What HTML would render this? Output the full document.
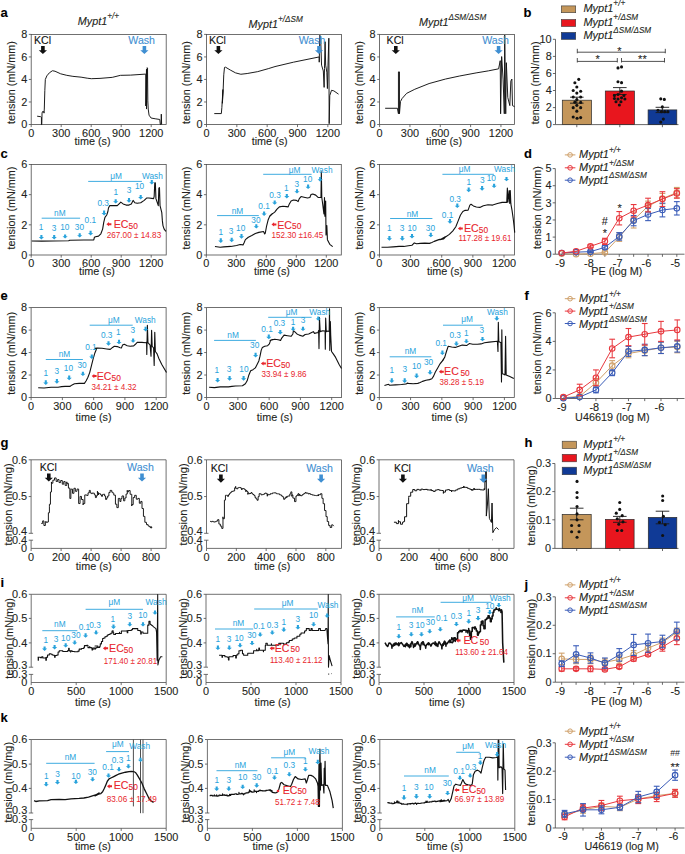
<!DOCTYPE html>
<html><head><meta charset="utf-8"><style>
html,body{margin:0;padding:0;background:#fff;width:685px;height:854px;overflow:hidden;}
svg{display:block;font-family:"Liberation Sans", sans-serif;}
</style></head><body>
<svg width="685" height="854" viewBox="0 0 685 854">
<rect width="685" height="854" fill="#fff"/>
<text x="0.4" y="16.8" font-size="13" fill="#000" font-weight="bold" stroke="#000" stroke-width="0.1">a</text>
<rect x="31.2" y="34.4" width="135" height="90.1" fill="none" stroke="#4d4d4d" stroke-width="0.8"/>
<line x1="31.2" y1="124.5" x2="31.2" y2="127.1" stroke="#4d4d4d" stroke-width="0.8"/>
<text x="31.2" y="136.7" font-size="10.9" fill="#231f20" text-anchor="middle" stroke="#231f20" stroke-width="0.1">0</text>
<line x1="61.2" y1="124.5" x2="61.2" y2="127.1" stroke="#4d4d4d" stroke-width="0.8"/>
<text x="61.2" y="136.7" font-size="10.9" fill="#231f20" text-anchor="middle" stroke="#231f20" stroke-width="0.1">300</text>
<line x1="91.2" y1="124.5" x2="91.2" y2="127.1" stroke="#4d4d4d" stroke-width="0.8"/>
<text x="91.2" y="136.7" font-size="10.9" fill="#231f20" text-anchor="middle" stroke="#231f20" stroke-width="0.1">600</text>
<line x1="121.2" y1="124.5" x2="121.2" y2="127.1" stroke="#4d4d4d" stroke-width="0.8"/>
<text x="121.2" y="136.7" font-size="10.9" fill="#231f20" text-anchor="middle" stroke="#231f20" stroke-width="0.1">900</text>
<line x1="151.2" y1="124.5" x2="151.2" y2="127.1" stroke="#4d4d4d" stroke-width="0.8"/>
<text x="151.2" y="136.7" font-size="10.9" fill="#231f20" text-anchor="middle" stroke="#231f20" stroke-width="0.1">1200</text>
<line x1="28.8" y1="124.5" x2="31.2" y2="124.5" stroke="#4d4d4d" stroke-width="0.8"/>
<text x="27.2" y="128.25" font-size="10.9" fill="#231f20" text-anchor="end" stroke="#231f20" stroke-width="0.1">0</text>
<line x1="28.8" y1="101.97" x2="31.2" y2="101.97" stroke="#4d4d4d" stroke-width="0.8"/>
<text x="27.2" y="105.72" font-size="10.9" fill="#231f20" text-anchor="end" stroke="#231f20" stroke-width="0.1">2</text>
<line x1="28.8" y1="79.45" x2="31.2" y2="79.45" stroke="#4d4d4d" stroke-width="0.8"/>
<text x="27.2" y="83.2" font-size="10.9" fill="#231f20" text-anchor="end" stroke="#231f20" stroke-width="0.1">4</text>
<line x1="28.8" y1="56.93" x2="31.2" y2="56.93" stroke="#4d4d4d" stroke-width="0.8"/>
<text x="27.2" y="60.68" font-size="10.9" fill="#231f20" text-anchor="end" stroke="#231f20" stroke-width="0.1">6</text>
<line x1="28.8" y1="34.4" x2="31.2" y2="34.4" stroke="#4d4d4d" stroke-width="0.8"/>
<text x="27.2" y="38.15" font-size="10.9" fill="#231f20" text-anchor="end" stroke="#231f20" stroke-width="0.1">8</text>
<text x="92.5" y="144.5" font-size="10.8" fill="#231f20" text-anchor="middle" stroke="#231f20" stroke-width="0.1">time (s)</text>
<text x="0" y="0" font-size="10.8" fill="#231f20" text-anchor="middle" transform="translate(14.6,82.6) rotate(-90)" stroke="#231f20" stroke-width="0.1">tension (mN/mm)</text>
<rect x="206.5" y="34.4" width="135" height="90.1" fill="none" stroke="#4d4d4d" stroke-width="0.8"/>
<line x1="206.5" y1="124.5" x2="206.5" y2="127.1" stroke="#4d4d4d" stroke-width="0.8"/>
<text x="206.5" y="136.7" font-size="10.9" fill="#231f20" text-anchor="middle" stroke="#231f20" stroke-width="0.1">0</text>
<line x1="236.84" y1="124.5" x2="236.84" y2="127.1" stroke="#4d4d4d" stroke-width="0.8"/>
<text x="236.84" y="136.7" font-size="10.9" fill="#231f20" text-anchor="middle" stroke="#231f20" stroke-width="0.1">300</text>
<line x1="267.17" y1="124.5" x2="267.17" y2="127.1" stroke="#4d4d4d" stroke-width="0.8"/>
<text x="267.17" y="136.7" font-size="10.9" fill="#231f20" text-anchor="middle" stroke="#231f20" stroke-width="0.1">600</text>
<line x1="297.51" y1="124.5" x2="297.51" y2="127.1" stroke="#4d4d4d" stroke-width="0.8"/>
<text x="297.51" y="136.7" font-size="10.9" fill="#231f20" text-anchor="middle" stroke="#231f20" stroke-width="0.1">900</text>
<line x1="327.85" y1="124.5" x2="327.85" y2="127.1" stroke="#4d4d4d" stroke-width="0.8"/>
<text x="327.85" y="136.7" font-size="10.9" fill="#231f20" text-anchor="middle" stroke="#231f20" stroke-width="0.1">1200</text>
<line x1="204.1" y1="124.5" x2="206.5" y2="124.5" stroke="#4d4d4d" stroke-width="0.8"/>
<text x="202.5" y="128.25" font-size="10.9" fill="#231f20" text-anchor="end" stroke="#231f20" stroke-width="0.1">0</text>
<line x1="204.1" y1="101.97" x2="206.5" y2="101.97" stroke="#4d4d4d" stroke-width="0.8"/>
<text x="202.5" y="105.72" font-size="10.9" fill="#231f20" text-anchor="end" stroke="#231f20" stroke-width="0.1">2</text>
<line x1="204.1" y1="79.45" x2="206.5" y2="79.45" stroke="#4d4d4d" stroke-width="0.8"/>
<text x="202.5" y="83.2" font-size="10.9" fill="#231f20" text-anchor="end" stroke="#231f20" stroke-width="0.1">4</text>
<line x1="204.1" y1="56.93" x2="206.5" y2="56.93" stroke="#4d4d4d" stroke-width="0.8"/>
<text x="202.5" y="60.68" font-size="10.9" fill="#231f20" text-anchor="end" stroke="#231f20" stroke-width="0.1">6</text>
<line x1="204.1" y1="34.4" x2="206.5" y2="34.4" stroke="#4d4d4d" stroke-width="0.8"/>
<text x="202.5" y="38.15" font-size="10.9" fill="#231f20" text-anchor="end" stroke="#231f20" stroke-width="0.1">8</text>
<text x="269.7" y="144.5" font-size="10.8" fill="#231f20" text-anchor="middle" stroke="#231f20" stroke-width="0.1">time (s)</text>
<text x="0" y="0" font-size="10.8" fill="#231f20" text-anchor="middle" transform="translate(189.9,82.6) rotate(-90)" stroke="#231f20" stroke-width="0.1">tension (mN/mm)</text>
<rect x="379.6" y="34.4" width="135" height="90.1" fill="none" stroke="#4d4d4d" stroke-width="0.8"/>
<line x1="379.6" y1="124.5" x2="379.6" y2="127.1" stroke="#4d4d4d" stroke-width="0.8"/>
<text x="379.6" y="136.7" font-size="10.9" fill="#231f20" text-anchor="middle" stroke="#231f20" stroke-width="0.1">0</text>
<line x1="409.94" y1="124.5" x2="409.94" y2="127.1" stroke="#4d4d4d" stroke-width="0.8"/>
<text x="409.94" y="136.7" font-size="10.9" fill="#231f20" text-anchor="middle" stroke="#231f20" stroke-width="0.1">300</text>
<line x1="440.27" y1="124.5" x2="440.27" y2="127.1" stroke="#4d4d4d" stroke-width="0.8"/>
<text x="440.27" y="136.7" font-size="10.9" fill="#231f20" text-anchor="middle" stroke="#231f20" stroke-width="0.1">600</text>
<line x1="470.61" y1="124.5" x2="470.61" y2="127.1" stroke="#4d4d4d" stroke-width="0.8"/>
<text x="470.61" y="136.7" font-size="10.9" fill="#231f20" text-anchor="middle" stroke="#231f20" stroke-width="0.1">900</text>
<line x1="500.95" y1="124.5" x2="500.95" y2="127.1" stroke="#4d4d4d" stroke-width="0.8"/>
<text x="500.95" y="136.7" font-size="10.9" fill="#231f20" text-anchor="middle" stroke="#231f20" stroke-width="0.1">1200</text>
<line x1="377.2" y1="124.5" x2="379.6" y2="124.5" stroke="#4d4d4d" stroke-width="0.8"/>
<text x="375.6" y="128.25" font-size="10.9" fill="#231f20" text-anchor="end" stroke="#231f20" stroke-width="0.1">0</text>
<line x1="377.2" y1="101.97" x2="379.6" y2="101.97" stroke="#4d4d4d" stroke-width="0.8"/>
<text x="375.6" y="105.72" font-size="10.9" fill="#231f20" text-anchor="end" stroke="#231f20" stroke-width="0.1">2</text>
<line x1="377.2" y1="79.45" x2="379.6" y2="79.45" stroke="#4d4d4d" stroke-width="0.8"/>
<text x="375.6" y="83.2" font-size="10.9" fill="#231f20" text-anchor="end" stroke="#231f20" stroke-width="0.1">4</text>
<line x1="377.2" y1="56.93" x2="379.6" y2="56.93" stroke="#4d4d4d" stroke-width="0.8"/>
<text x="375.6" y="60.68" font-size="10.9" fill="#231f20" text-anchor="end" stroke="#231f20" stroke-width="0.1">6</text>
<line x1="377.2" y1="34.4" x2="379.6" y2="34.4" stroke="#4d4d4d" stroke-width="0.8"/>
<text x="375.6" y="38.15" font-size="10.9" fill="#231f20" text-anchor="end" stroke="#231f20" stroke-width="0.1">8</text>
<text x="444" y="144.5" font-size="10.8" fill="#231f20" text-anchor="middle" stroke="#231f20" stroke-width="0.1">time (s)</text>
<text x="0" y="0" font-size="10.8" fill="#231f20" text-anchor="middle" transform="translate(363,82.6) rotate(-90)" stroke="#231f20" stroke-width="0.1">tension (mN/mm)</text>
<polyline points="37.15,116.2 40.73,116.71 41.44,117.22 41.44,124.58 41.75,124.58 42.06,113.14 42.47,111.6 43.8,111.6 44,113.14 44.31,109.05 44.82,90.66 45.33,79.42 46.86,75.84 49.42,72.77 52.48,70.73 55.04,71.24 60.66,73.8 66.79,75.33 72.92,76.35 81.09,77.17 87.22,78.19 91.31,78.7 100,78.39 112.26,77.37 120.44,75.33 130.66,75.12 145.47,74.1 145.78,74.1 145.78,105.98 146.49,69.2 146.49,109.05 147.21,67.66 147.52,68.17 147.82,100.87 148.23,109.05 149.05,115.18 151.09,118.04 155.18,118.76 159.78,119.47 160.29,124.38 161.11,124.38 161.31,114.16 161.62,124.38" fill="none" stroke="#111" stroke-width="0.95" stroke-linejoin="round"/>
<polyline points="214.28,113.58 221.34,113.58 221.87,107.47 222.39,99.03 222.92,89.55 222.39,103.25 223.13,90.6 223.76,74.79 224.5,67.41 225.56,67.2 230.3,70.04 235.57,72.89 240.84,74.26 247.17,73.52 257.71,71.63 268.25,68.67 275,66.57 293.44,62.2 319.22,56.93 319.22,62.2 319.81,35.27 320.63,37.03 321.56,65.13 323.32,70.98 324.14,87.38 324.49,68.64 325.08,41.71 325.67,65.13 326.84,72.15 327.42,88.55 328.01,65.13 328.83,38.2 329.18,123.68 329.77,95.57 331.53,90.3 333.87,90.89 338.56,94.17" fill="none" stroke="#111" stroke-width="0.95" stroke-linejoin="round"/>
<polyline points="385.15,108.28 397.42,108.28 398.44,113.79 398.44,71.9 399.46,71.9 399.46,113.79 400.48,101.53 402.12,98.47 406.61,93.36 414.79,89.27 429.09,83.55 445.44,79.05 459.75,75.98 476.1,72.92 488.36,70.87 498.58,68.83 500.22,60.66 500.62,113.79 501.65,56.57 503.08,79.05 504.3,113.79 504.71,35.11 505.73,113.79 506.35,62.7 507.78,97.44 509.82,105.62 510.84,81.09 511.86,79.05 512.48,105.62 514.52,106.64" fill="none" stroke="#111" stroke-width="0.95" stroke-linejoin="round"/>
<text x="77.8" y="25.4" font-size="10.8" fill="#231f20" font-style="italic" stroke="#231f20" stroke-width="0.1">Mypt1<tspan font-size="8.2" dy="-6.4">+/+</tspan></text>
<text x="248.6" y="28.4" font-size="10.8" fill="#231f20" font-style="italic" stroke="#231f20" stroke-width="0.1">Mypt1<tspan font-size="8.2" dy="-6.4">+/ΔSM</tspan></text>
<text x="419" y="26.2" font-size="10.8" fill="#231f20" font-style="italic" stroke="#231f20" stroke-width="0.1">Mypt1<tspan font-size="8.2" dy="-6.4">ΔSM/ΔSM</tspan></text>
<text x="34" y="44.1" font-size="10.6" fill="#111" stroke="#111" stroke-width="0.1">KCl</text>
<polygon points="41.1,46 44.7,46 44.7,50.16 47,50.16 42.9,54 38.8,50.16 41.1,50.16" fill="#111"/>
<text x="128.3" y="44.1" font-size="10.6" fill="#3f8fd2" stroke="#3f8fd2" stroke-width="0.1">Wash</text>
<polygon points="142.6,46 146.2,46 146.2,50.16 148.5,50.16 144.4,54 140.3,50.16 142.6,50.16" fill="#3f8fd2"/>
<text x="208.9" y="44.1" font-size="10.6" fill="#111" stroke="#111" stroke-width="0.1">KCl</text>
<polygon points="216.6,46 220.2,46 220.2,50.16 222.5,50.16 218.4,54 214.3,50.16 216.6,50.16" fill="#111"/>
<text x="298.7" y="44.1" font-size="10.6" fill="#3f8fd2" stroke="#3f8fd2" stroke-width="0.1">Wash</text>
<polygon points="317.2,46 320.8,46 320.8,50.16 323.1,50.16 319,54 314.9,50.16 317.2,50.16" fill="#3f8fd2"/>
<text x="386.6" y="44.1" font-size="10.6" fill="#111" stroke="#111" stroke-width="0.1">KCl</text>
<polygon points="394,46 397.6,46 397.6,50.16 399.9,50.16 395.8,54 391.7,50.16 394,50.16" fill="#111"/>
<text x="482.2" y="44.1" font-size="10.6" fill="#3f8fd2" stroke="#3f8fd2" stroke-width="0.1">Wash</text>
<polygon points="496.8,46 500.4,46 500.4,50.16 502.7,50.16 498.6,54 494.5,50.16 496.8,50.16" fill="#3f8fd2"/>
<text x="0.4" y="157.7" font-size="13" fill="#000" font-weight="bold" stroke="#000" stroke-width="0.1">c</text>
<rect x="31.2" y="164.5" width="135" height="90.5" fill="none" stroke="#4d4d4d" stroke-width="0.8"/>
<line x1="31.2" y1="255" x2="31.2" y2="257.6" stroke="#4d4d4d" stroke-width="0.8"/>
<text x="31.2" y="267.2" font-size="10.9" fill="#231f20" text-anchor="middle" stroke="#231f20" stroke-width="0.1">0</text>
<line x1="61.2" y1="255" x2="61.2" y2="257.6" stroke="#4d4d4d" stroke-width="0.8"/>
<text x="61.2" y="267.2" font-size="10.9" fill="#231f20" text-anchor="middle" stroke="#231f20" stroke-width="0.1">300</text>
<line x1="91.2" y1="255" x2="91.2" y2="257.6" stroke="#4d4d4d" stroke-width="0.8"/>
<text x="91.2" y="267.2" font-size="10.9" fill="#231f20" text-anchor="middle" stroke="#231f20" stroke-width="0.1">600</text>
<line x1="121.2" y1="255" x2="121.2" y2="257.6" stroke="#4d4d4d" stroke-width="0.8"/>
<text x="121.2" y="267.2" font-size="10.9" fill="#231f20" text-anchor="middle" stroke="#231f20" stroke-width="0.1">900</text>
<line x1="151.2" y1="255" x2="151.2" y2="257.6" stroke="#4d4d4d" stroke-width="0.8"/>
<text x="151.2" y="267.2" font-size="10.9" fill="#231f20" text-anchor="middle" stroke="#231f20" stroke-width="0.1">1200</text>
<line x1="28.8" y1="255" x2="31.2" y2="255" stroke="#4d4d4d" stroke-width="0.8"/>
<text x="27.2" y="258.75" font-size="10.9" fill="#231f20" text-anchor="end" stroke="#231f20" stroke-width="0.1">0</text>
<line x1="28.8" y1="224.83" x2="31.2" y2="224.83" stroke="#4d4d4d" stroke-width="0.8"/>
<text x="27.2" y="228.58" font-size="10.9" fill="#231f20" text-anchor="end" stroke="#231f20" stroke-width="0.1">2</text>
<line x1="28.8" y1="194.67" x2="31.2" y2="194.67" stroke="#4d4d4d" stroke-width="0.8"/>
<text x="27.2" y="198.42" font-size="10.9" fill="#231f20" text-anchor="end" stroke="#231f20" stroke-width="0.1">4</text>
<line x1="28.8" y1="164.5" x2="31.2" y2="164.5" stroke="#4d4d4d" stroke-width="0.8"/>
<text x="27.2" y="168.25" font-size="10.9" fill="#231f20" text-anchor="end" stroke="#231f20" stroke-width="0.1">6</text>
<text x="96.9" y="274.6" font-size="10.8" fill="#231f20" text-anchor="middle" stroke="#231f20" stroke-width="0.1">time (s)</text>
<text x="0" y="0" font-size="10.8" fill="#231f20" text-anchor="middle" transform="translate(14.6,208) rotate(-90)" stroke="#231f20" stroke-width="0.1">tension (mN/mm)</text>
<rect x="206.3" y="164.5" width="135" height="90.5" fill="none" stroke="#4d4d4d" stroke-width="0.8"/>
<line x1="206.3" y1="255" x2="206.3" y2="257.6" stroke="#4d4d4d" stroke-width="0.8"/>
<text x="206.3" y="267.2" font-size="10.9" fill="#231f20" text-anchor="middle" stroke="#231f20" stroke-width="0.1">0</text>
<line x1="236.3" y1="255" x2="236.3" y2="257.6" stroke="#4d4d4d" stroke-width="0.8"/>
<text x="236.3" y="267.2" font-size="10.9" fill="#231f20" text-anchor="middle" stroke="#231f20" stroke-width="0.1">300</text>
<line x1="266.3" y1="255" x2="266.3" y2="257.6" stroke="#4d4d4d" stroke-width="0.8"/>
<text x="266.3" y="267.2" font-size="10.9" fill="#231f20" text-anchor="middle" stroke="#231f20" stroke-width="0.1">600</text>
<line x1="296.3" y1="255" x2="296.3" y2="257.6" stroke="#4d4d4d" stroke-width="0.8"/>
<text x="296.3" y="267.2" font-size="10.9" fill="#231f20" text-anchor="middle" stroke="#231f20" stroke-width="0.1">900</text>
<line x1="326.3" y1="255" x2="326.3" y2="257.6" stroke="#4d4d4d" stroke-width="0.8"/>
<text x="326.3" y="267.2" font-size="10.9" fill="#231f20" text-anchor="middle" stroke="#231f20" stroke-width="0.1">1200</text>
<line x1="203.9" y1="255" x2="206.3" y2="255" stroke="#4d4d4d" stroke-width="0.8"/>
<text x="202.3" y="258.75" font-size="10.9" fill="#231f20" text-anchor="end" stroke="#231f20" stroke-width="0.1">0</text>
<line x1="203.9" y1="224.83" x2="206.3" y2="224.83" stroke="#4d4d4d" stroke-width="0.8"/>
<text x="202.3" y="228.58" font-size="10.9" fill="#231f20" text-anchor="end" stroke="#231f20" stroke-width="0.1">2</text>
<line x1="203.9" y1="194.67" x2="206.3" y2="194.67" stroke="#4d4d4d" stroke-width="0.8"/>
<text x="202.3" y="198.42" font-size="10.9" fill="#231f20" text-anchor="end" stroke="#231f20" stroke-width="0.1">4</text>
<line x1="203.9" y1="164.5" x2="206.3" y2="164.5" stroke="#4d4d4d" stroke-width="0.8"/>
<text x="202.3" y="168.25" font-size="10.9" fill="#231f20" text-anchor="end" stroke="#231f20" stroke-width="0.1">6</text>
<text x="271.9" y="274.6" font-size="10.8" fill="#231f20" text-anchor="middle" stroke="#231f20" stroke-width="0.1">time (s)</text>
<text x="0" y="0" font-size="10.8" fill="#231f20" text-anchor="middle" transform="translate(189.7,208) rotate(-90)" stroke="#231f20" stroke-width="0.1">tension (mN/mm)</text>
<rect x="379.4" y="164.5" width="135" height="90.5" fill="none" stroke="#4d4d4d" stroke-width="0.8"/>
<line x1="379.4" y1="255" x2="379.4" y2="257.6" stroke="#4d4d4d" stroke-width="0.8"/>
<text x="379.4" y="267.2" font-size="10.9" fill="#231f20" text-anchor="middle" stroke="#231f20" stroke-width="0.1">0</text>
<line x1="410.55" y1="255" x2="410.55" y2="257.6" stroke="#4d4d4d" stroke-width="0.8"/>
<text x="410.55" y="267.2" font-size="10.9" fill="#231f20" text-anchor="middle" stroke="#231f20" stroke-width="0.1">300</text>
<line x1="441.71" y1="255" x2="441.71" y2="257.6" stroke="#4d4d4d" stroke-width="0.8"/>
<text x="441.71" y="267.2" font-size="10.9" fill="#231f20" text-anchor="middle" stroke="#231f20" stroke-width="0.1">600</text>
<line x1="472.86" y1="255" x2="472.86" y2="257.6" stroke="#4d4d4d" stroke-width="0.8"/>
<text x="472.86" y="267.2" font-size="10.9" fill="#231f20" text-anchor="middle" stroke="#231f20" stroke-width="0.1">900</text>
<line x1="504.02" y1="255" x2="504.02" y2="257.6" stroke="#4d4d4d" stroke-width="0.8"/>
<text x="504.02" y="267.2" font-size="10.9" fill="#231f20" text-anchor="middle" stroke="#231f20" stroke-width="0.1">1200</text>
<line x1="377" y1="255" x2="379.4" y2="255" stroke="#4d4d4d" stroke-width="0.8"/>
<text x="375.4" y="258.75" font-size="10.9" fill="#231f20" text-anchor="end" stroke="#231f20" stroke-width="0.1">0</text>
<line x1="377" y1="224.83" x2="379.4" y2="224.83" stroke="#4d4d4d" stroke-width="0.8"/>
<text x="375.4" y="228.58" font-size="10.9" fill="#231f20" text-anchor="end" stroke="#231f20" stroke-width="0.1">2</text>
<line x1="377" y1="194.67" x2="379.4" y2="194.67" stroke="#4d4d4d" stroke-width="0.8"/>
<text x="375.4" y="198.42" font-size="10.9" fill="#231f20" text-anchor="end" stroke="#231f20" stroke-width="0.1">4</text>
<line x1="377" y1="164.5" x2="379.4" y2="164.5" stroke="#4d4d4d" stroke-width="0.8"/>
<text x="375.4" y="168.25" font-size="10.9" fill="#231f20" text-anchor="end" stroke="#231f20" stroke-width="0.1">6</text>
<text x="444.9" y="274.6" font-size="10.8" fill="#231f20" text-anchor="middle" stroke="#231f20" stroke-width="0.1">time (s)</text>
<text x="0" y="0" font-size="10.8" fill="#231f20" text-anchor="middle" transform="translate(362.8,208) rotate(-90)" stroke="#231f20" stroke-width="0.1">tension (mN/mm)</text>
<text x="0.4" y="300.2" font-size="13" fill="#000" font-weight="bold" stroke="#000" stroke-width="0.1">e</text>
<rect x="31.1" y="307.6" width="135" height="89.9" fill="none" stroke="#4d4d4d" stroke-width="0.8"/>
<line x1="31.1" y1="397.5" x2="31.1" y2="400.1" stroke="#4d4d4d" stroke-width="0.8"/>
<text x="31.1" y="409.7" font-size="10.9" fill="#231f20" text-anchor="middle" stroke="#231f20" stroke-width="0.1">0</text>
<line x1="62.37" y1="397.5" x2="62.37" y2="400.1" stroke="#4d4d4d" stroke-width="0.8"/>
<text x="62.37" y="409.7" font-size="10.9" fill="#231f20" text-anchor="middle" stroke="#231f20" stroke-width="0.1">300</text>
<line x1="93.65" y1="397.5" x2="93.65" y2="400.1" stroke="#4d4d4d" stroke-width="0.8"/>
<text x="93.65" y="409.7" font-size="10.9" fill="#231f20" text-anchor="middle" stroke="#231f20" stroke-width="0.1">600</text>
<line x1="124.92" y1="397.5" x2="124.92" y2="400.1" stroke="#4d4d4d" stroke-width="0.8"/>
<text x="124.92" y="409.7" font-size="10.9" fill="#231f20" text-anchor="middle" stroke="#231f20" stroke-width="0.1">900</text>
<line x1="156.2" y1="397.5" x2="156.2" y2="400.1" stroke="#4d4d4d" stroke-width="0.8"/>
<text x="156.2" y="409.7" font-size="10.9" fill="#231f20" text-anchor="middle" stroke="#231f20" stroke-width="0.1">1200</text>
<line x1="28.7" y1="397.5" x2="31.1" y2="397.5" stroke="#4d4d4d" stroke-width="0.8"/>
<text x="27.1" y="401.25" font-size="10.9" fill="#231f20" text-anchor="end" stroke="#231f20" stroke-width="0.1">0</text>
<line x1="28.7" y1="375.02" x2="31.1" y2="375.02" stroke="#4d4d4d" stroke-width="0.8"/>
<text x="27.1" y="378.77" font-size="10.9" fill="#231f20" text-anchor="end" stroke="#231f20" stroke-width="0.1">2</text>
<line x1="28.7" y1="352.55" x2="31.1" y2="352.55" stroke="#4d4d4d" stroke-width="0.8"/>
<text x="27.1" y="356.3" font-size="10.9" fill="#231f20" text-anchor="end" stroke="#231f20" stroke-width="0.1">4</text>
<line x1="28.7" y1="330.08" x2="31.1" y2="330.08" stroke="#4d4d4d" stroke-width="0.8"/>
<text x="27.1" y="333.83" font-size="10.9" fill="#231f20" text-anchor="end" stroke="#231f20" stroke-width="0.1">6</text>
<line x1="28.7" y1="307.6" x2="31.1" y2="307.6" stroke="#4d4d4d" stroke-width="0.8"/>
<text x="27.1" y="311.35" font-size="10.9" fill="#231f20" text-anchor="end" stroke="#231f20" stroke-width="0.1">8</text>
<text x="93.5" y="421" font-size="10.8" fill="#231f20" text-anchor="middle" stroke="#231f20" stroke-width="0.1">time (s)</text>
<text x="0" y="0" font-size="10.8" fill="#231f20" text-anchor="middle" transform="translate(14.5,353.3) rotate(-90)" stroke="#231f20" stroke-width="0.1">tension (mN/mm)</text>
<rect x="206.6" y="307.6" width="135" height="89.9" fill="none" stroke="#4d4d4d" stroke-width="0.8"/>
<line x1="206.6" y1="397.5" x2="206.6" y2="400.1" stroke="#4d4d4d" stroke-width="0.8"/>
<text x="206.6" y="409.7" font-size="10.9" fill="#231f20" text-anchor="middle" stroke="#231f20" stroke-width="0.1">0</text>
<line x1="237.87" y1="397.5" x2="237.87" y2="400.1" stroke="#4d4d4d" stroke-width="0.8"/>
<text x="237.87" y="409.7" font-size="10.9" fill="#231f20" text-anchor="middle" stroke="#231f20" stroke-width="0.1">300</text>
<line x1="269.15" y1="397.5" x2="269.15" y2="400.1" stroke="#4d4d4d" stroke-width="0.8"/>
<text x="269.15" y="409.7" font-size="10.9" fill="#231f20" text-anchor="middle" stroke="#231f20" stroke-width="0.1">600</text>
<line x1="300.42" y1="397.5" x2="300.42" y2="400.1" stroke="#4d4d4d" stroke-width="0.8"/>
<text x="300.42" y="409.7" font-size="10.9" fill="#231f20" text-anchor="middle" stroke="#231f20" stroke-width="0.1">900</text>
<line x1="331.7" y1="397.5" x2="331.7" y2="400.1" stroke="#4d4d4d" stroke-width="0.8"/>
<text x="331.7" y="409.7" font-size="10.9" fill="#231f20" text-anchor="middle" stroke="#231f20" stroke-width="0.1">1200</text>
<line x1="204.2" y1="397.5" x2="206.6" y2="397.5" stroke="#4d4d4d" stroke-width="0.8"/>
<text x="202.6" y="401.25" font-size="10.9" fill="#231f20" text-anchor="end" stroke="#231f20" stroke-width="0.1">0</text>
<line x1="204.2" y1="375.02" x2="206.6" y2="375.02" stroke="#4d4d4d" stroke-width="0.8"/>
<text x="202.6" y="378.77" font-size="10.9" fill="#231f20" text-anchor="end" stroke="#231f20" stroke-width="0.1">2</text>
<line x1="204.2" y1="352.55" x2="206.6" y2="352.55" stroke="#4d4d4d" stroke-width="0.8"/>
<text x="202.6" y="356.3" font-size="10.9" fill="#231f20" text-anchor="end" stroke="#231f20" stroke-width="0.1">4</text>
<line x1="204.2" y1="330.08" x2="206.6" y2="330.08" stroke="#4d4d4d" stroke-width="0.8"/>
<text x="202.6" y="333.83" font-size="10.9" fill="#231f20" text-anchor="end" stroke="#231f20" stroke-width="0.1">6</text>
<line x1="204.2" y1="307.6" x2="206.6" y2="307.6" stroke="#4d4d4d" stroke-width="0.8"/>
<text x="202.6" y="311.35" font-size="10.9" fill="#231f20" text-anchor="end" stroke="#231f20" stroke-width="0.1">8</text>
<text x="274.8" y="421" font-size="10.8" fill="#231f20" text-anchor="middle" stroke="#231f20" stroke-width="0.1">time (s)</text>
<text x="0" y="0" font-size="10.8" fill="#231f20" text-anchor="middle" transform="translate(190,353.3) rotate(-90)" stroke="#231f20" stroke-width="0.1">tension (mN/mm)</text>
<rect x="379.3" y="307.6" width="135" height="89.9" fill="none" stroke="#4d4d4d" stroke-width="0.8"/>
<line x1="379.3" y1="397.5" x2="379.3" y2="400.1" stroke="#4d4d4d" stroke-width="0.8"/>
<text x="379.3" y="409.7" font-size="10.9" fill="#231f20" text-anchor="middle" stroke="#231f20" stroke-width="0.1">0</text>
<line x1="410.57" y1="397.5" x2="410.57" y2="400.1" stroke="#4d4d4d" stroke-width="0.8"/>
<text x="410.57" y="409.7" font-size="10.9" fill="#231f20" text-anchor="middle" stroke="#231f20" stroke-width="0.1">300</text>
<line x1="441.85" y1="397.5" x2="441.85" y2="400.1" stroke="#4d4d4d" stroke-width="0.8"/>
<text x="441.85" y="409.7" font-size="10.9" fill="#231f20" text-anchor="middle" stroke="#231f20" stroke-width="0.1">600</text>
<line x1="473.12" y1="397.5" x2="473.12" y2="400.1" stroke="#4d4d4d" stroke-width="0.8"/>
<text x="473.12" y="409.7" font-size="10.9" fill="#231f20" text-anchor="middle" stroke="#231f20" stroke-width="0.1">900</text>
<line x1="504.4" y1="397.5" x2="504.4" y2="400.1" stroke="#4d4d4d" stroke-width="0.8"/>
<text x="504.4" y="409.7" font-size="10.9" fill="#231f20" text-anchor="middle" stroke="#231f20" stroke-width="0.1">1200</text>
<line x1="376.9" y1="397.5" x2="379.3" y2="397.5" stroke="#4d4d4d" stroke-width="0.8"/>
<text x="375.3" y="401.25" font-size="10.9" fill="#231f20" text-anchor="end" stroke="#231f20" stroke-width="0.1">0</text>
<line x1="376.9" y1="375.02" x2="379.3" y2="375.02" stroke="#4d4d4d" stroke-width="0.8"/>
<text x="375.3" y="378.77" font-size="10.9" fill="#231f20" text-anchor="end" stroke="#231f20" stroke-width="0.1">2</text>
<line x1="376.9" y1="352.55" x2="379.3" y2="352.55" stroke="#4d4d4d" stroke-width="0.8"/>
<text x="375.3" y="356.3" font-size="10.9" fill="#231f20" text-anchor="end" stroke="#231f20" stroke-width="0.1">4</text>
<line x1="376.9" y1="330.08" x2="379.3" y2="330.08" stroke="#4d4d4d" stroke-width="0.8"/>
<text x="375.3" y="333.83" font-size="10.9" fill="#231f20" text-anchor="end" stroke="#231f20" stroke-width="0.1">6</text>
<line x1="376.9" y1="307.6" x2="379.3" y2="307.6" stroke="#4d4d4d" stroke-width="0.8"/>
<text x="375.3" y="311.35" font-size="10.9" fill="#231f20" text-anchor="end" stroke="#231f20" stroke-width="0.1">8</text>
<text x="449.6" y="421" font-size="10.8" fill="#231f20" text-anchor="middle" stroke="#231f20" stroke-width="0.1">time (s)</text>
<text x="0" y="0" font-size="10.8" fill="#231f20" text-anchor="middle" transform="translate(362.7,353.3) rotate(-90)" stroke="#231f20" stroke-width="0.1">tension (mN/mm)</text>
<text x="0.4" y="447.3" font-size="13" fill="#000" font-weight="bold" stroke="#000" stroke-width="0.1">g</text>
<polyline points="31.1,533.3 31.1,459.8 166.1,459.8 166.1,548.4 31.1,548.4 31.1,540.2" fill="none" stroke="#4d4d4d" stroke-width="0.8"/>
<line x1="31.1" y1="548.4" x2="31.1" y2="551" stroke="#4d4d4d" stroke-width="0.8"/>
<text x="31.1" y="560.6" font-size="10.9" fill="#231f20" text-anchor="middle" stroke="#231f20" stroke-width="0.1">0</text>
<line x1="61.1" y1="548.4" x2="61.1" y2="551" stroke="#4d4d4d" stroke-width="0.8"/>
<text x="61.1" y="560.6" font-size="10.9" fill="#231f20" text-anchor="middle" stroke="#231f20" stroke-width="0.1">200</text>
<line x1="91.1" y1="548.4" x2="91.1" y2="551" stroke="#4d4d4d" stroke-width="0.8"/>
<text x="91.1" y="560.6" font-size="10.9" fill="#231f20" text-anchor="middle" stroke="#231f20" stroke-width="0.1">400</text>
<line x1="121.1" y1="548.4" x2="121.1" y2="551" stroke="#4d4d4d" stroke-width="0.8"/>
<text x="121.1" y="560.6" font-size="10.9" fill="#231f20" text-anchor="middle" stroke="#231f20" stroke-width="0.1">600</text>
<line x1="151.1" y1="548.4" x2="151.1" y2="551" stroke="#4d4d4d" stroke-width="0.8"/>
<text x="151.1" y="560.6" font-size="10.9" fill="#231f20" text-anchor="middle" stroke="#231f20" stroke-width="0.1">800</text>
<line x1="28.7" y1="459.8" x2="31.1" y2="459.8" stroke="#4d4d4d" stroke-width="0.8"/>
<text x="27.1" y="463.55" font-size="10.9" fill="#231f20" text-anchor="end" stroke="#231f20" stroke-width="0.1">0.6</text>
<line x1="28.7" y1="496.55" x2="31.1" y2="496.55" stroke="#4d4d4d" stroke-width="0.8"/>
<text x="27.1" y="500.3" font-size="10.9" fill="#231f20" text-anchor="end" stroke="#231f20" stroke-width="0.1">0.5</text>
<text x="93.8" y="570.2" font-size="10.8" fill="#231f20" text-anchor="middle" stroke="#231f20" stroke-width="0.1">time (s)</text>
<text x="0" y="0" font-size="11.1" fill="#231f20" text-anchor="middle" transform="translate(11.7,504.4) rotate(-90)" stroke="#231f20" stroke-width="0.1">tension (mN/mg)</text>
<line x1="28.7" y1="533.3" x2="33.1" y2="533.3" stroke="#4d4d4d" stroke-width="0.8"/>
<line x1="28.7" y1="540.2" x2="33.1" y2="540.2" stroke="#4d4d4d" stroke-width="0.8"/>
<text x="27.1" y="534.6" font-size="10.9" fill="#231f20" text-anchor="end" stroke="#231f20" stroke-width="0.1">0.4</text>
<text x="27.1" y="543.95" font-size="10.9" fill="#231f20" text-anchor="end" stroke="#231f20" stroke-width="0.1">0.4</text>
<text x="27.1" y="552" font-size="10.9" fill="#231f20" text-anchor="end" stroke="#231f20" stroke-width="0.1">0</text>
<polyline points="206.5,533.3 206.5,459.8 341.5,459.8 341.5,548.4 206.5,548.4 206.5,540.2" fill="none" stroke="#4d4d4d" stroke-width="0.8"/>
<line x1="206.5" y1="548.4" x2="206.5" y2="551" stroke="#4d4d4d" stroke-width="0.8"/>
<text x="206.5" y="560.6" font-size="10.9" fill="#231f20" text-anchor="middle" stroke="#231f20" stroke-width="0.1">0</text>
<line x1="236.33" y1="548.4" x2="236.33" y2="551" stroke="#4d4d4d" stroke-width="0.8"/>
<text x="236.33" y="560.6" font-size="10.9" fill="#231f20" text-anchor="middle" stroke="#231f20" stroke-width="0.1">200</text>
<line x1="266.17" y1="548.4" x2="266.17" y2="551" stroke="#4d4d4d" stroke-width="0.8"/>
<text x="266.17" y="560.6" font-size="10.9" fill="#231f20" text-anchor="middle" stroke="#231f20" stroke-width="0.1">400</text>
<line x1="296" y1="548.4" x2="296" y2="551" stroke="#4d4d4d" stroke-width="0.8"/>
<text x="296" y="560.6" font-size="10.9" fill="#231f20" text-anchor="middle" stroke="#231f20" stroke-width="0.1">600</text>
<line x1="325.84" y1="548.4" x2="325.84" y2="551" stroke="#4d4d4d" stroke-width="0.8"/>
<text x="325.84" y="560.6" font-size="10.9" fill="#231f20" text-anchor="middle" stroke="#231f20" stroke-width="0.1">800</text>
<line x1="204.1" y1="459.8" x2="206.5" y2="459.8" stroke="#4d4d4d" stroke-width="0.8"/>
<text x="202.5" y="463.55" font-size="10.9" fill="#231f20" text-anchor="end" stroke="#231f20" stroke-width="0.1">0.6</text>
<line x1="204.1" y1="496.55" x2="206.5" y2="496.55" stroke="#4d4d4d" stroke-width="0.8"/>
<text x="202.5" y="500.3" font-size="10.9" fill="#231f20" text-anchor="end" stroke="#231f20" stroke-width="0.1">0.5</text>
<text x="272.3" y="570.2" font-size="10.8" fill="#231f20" text-anchor="middle" stroke="#231f20" stroke-width="0.1">time (s)</text>
<text x="0" y="0" font-size="11.1" fill="#231f20" text-anchor="middle" transform="translate(187.1,504.4) rotate(-90)" stroke="#231f20" stroke-width="0.1">tension (mN/mg)</text>
<line x1="204.1" y1="533.3" x2="208.5" y2="533.3" stroke="#4d4d4d" stroke-width="0.8"/>
<line x1="204.1" y1="540.2" x2="208.5" y2="540.2" stroke="#4d4d4d" stroke-width="0.8"/>
<text x="202.5" y="534.6" font-size="10.9" fill="#231f20" text-anchor="end" stroke="#231f20" stroke-width="0.1">0.4</text>
<text x="202.5" y="543.95" font-size="10.9" fill="#231f20" text-anchor="end" stroke="#231f20" stroke-width="0.1">0.4</text>
<text x="202.5" y="552" font-size="10.9" fill="#231f20" text-anchor="end" stroke="#231f20" stroke-width="0.1">0</text>
<polyline points="379,533.3 379,459.8 514,459.8 514,548.4 379,548.4 379,540.2" fill="none" stroke="#4d4d4d" stroke-width="0.8"/>
<line x1="379" y1="548.4" x2="379" y2="551" stroke="#4d4d4d" stroke-width="0.8"/>
<text x="379" y="560.6" font-size="10.9" fill="#231f20" text-anchor="middle" stroke="#231f20" stroke-width="0.1">0</text>
<line x1="409" y1="548.4" x2="409" y2="551" stroke="#4d4d4d" stroke-width="0.8"/>
<text x="409" y="560.6" font-size="10.9" fill="#231f20" text-anchor="middle" stroke="#231f20" stroke-width="0.1">200</text>
<line x1="439" y1="548.4" x2="439" y2="551" stroke="#4d4d4d" stroke-width="0.8"/>
<text x="439" y="560.6" font-size="10.9" fill="#231f20" text-anchor="middle" stroke="#231f20" stroke-width="0.1">400</text>
<line x1="469" y1="548.4" x2="469" y2="551" stroke="#4d4d4d" stroke-width="0.8"/>
<text x="469" y="560.6" font-size="10.9" fill="#231f20" text-anchor="middle" stroke="#231f20" stroke-width="0.1">600</text>
<line x1="499" y1="548.4" x2="499" y2="551" stroke="#4d4d4d" stroke-width="0.8"/>
<text x="499" y="560.6" font-size="10.9" fill="#231f20" text-anchor="middle" stroke="#231f20" stroke-width="0.1">800</text>
<line x1="376.6" y1="459.8" x2="379" y2="459.8" stroke="#4d4d4d" stroke-width="0.8"/>
<text x="375" y="463.55" font-size="10.9" fill="#231f20" text-anchor="end" stroke="#231f20" stroke-width="0.1">0.6</text>
<line x1="376.6" y1="496.55" x2="379" y2="496.55" stroke="#4d4d4d" stroke-width="0.8"/>
<text x="375" y="500.3" font-size="10.9" fill="#231f20" text-anchor="end" stroke="#231f20" stroke-width="0.1">0.5</text>
<text x="452.9" y="570.2" font-size="10.8" fill="#231f20" text-anchor="middle" stroke="#231f20" stroke-width="0.1">time (s)</text>
<text x="0" y="0" font-size="11.1" fill="#231f20" text-anchor="middle" transform="translate(359.6,504.4) rotate(-90)" stroke="#231f20" stroke-width="0.1">tension (mN/mg)</text>
<line x1="376.6" y1="533.3" x2="381" y2="533.3" stroke="#4d4d4d" stroke-width="0.8"/>
<line x1="376.6" y1="540.2" x2="381" y2="540.2" stroke="#4d4d4d" stroke-width="0.8"/>
<text x="375" y="534.6" font-size="10.9" fill="#231f20" text-anchor="end" stroke="#231f20" stroke-width="0.1">0.4</text>
<text x="375" y="543.95" font-size="10.9" fill="#231f20" text-anchor="end" stroke="#231f20" stroke-width="0.1">0.4</text>
<text x="375" y="552" font-size="10.9" fill="#231f20" text-anchor="end" stroke="#231f20" stroke-width="0.1">0</text>
<text x="0.4" y="587.4" font-size="13" fill="#000" font-weight="bold" stroke="#000" stroke-width="0.1">i</text>
<polyline points="31.2,667.2 31.2,594.3 166.2,594.3 166.2,682.5 31.2,682.5 31.2,674.4" fill="none" stroke="#4d4d4d" stroke-width="0.8"/>
<line x1="31.2" y1="682.5" x2="31.2" y2="685.1" stroke="#4d4d4d" stroke-width="0.8"/>
<text x="31.2" y="694.7" font-size="10.9" fill="#231f20" text-anchor="middle" stroke="#231f20" stroke-width="0.1">0</text>
<line x1="76.2" y1="682.5" x2="76.2" y2="685.1" stroke="#4d4d4d" stroke-width="0.8"/>
<text x="76.2" y="694.7" font-size="10.9" fill="#231f20" text-anchor="middle" stroke="#231f20" stroke-width="0.1">500</text>
<line x1="121.2" y1="682.5" x2="121.2" y2="685.1" stroke="#4d4d4d" stroke-width="0.8"/>
<text x="121.2" y="694.7" font-size="10.9" fill="#231f20" text-anchor="middle" stroke="#231f20" stroke-width="0.1">1000</text>
<line x1="166.2" y1="682.5" x2="166.2" y2="685.1" stroke="#4d4d4d" stroke-width="0.8"/>
<text x="166.2" y="694.7" font-size="10.9" fill="#231f20" text-anchor="middle" stroke="#231f20" stroke-width="0.1">1500</text>
<line x1="28.8" y1="594.3" x2="31.2" y2="594.3" stroke="#4d4d4d" stroke-width="0.8"/>
<text x="27.2" y="598.05" font-size="10.9" fill="#231f20" text-anchor="end" stroke="#231f20" stroke-width="0.1">0.6</text>
<line x1="28.8" y1="618.4" x2="31.2" y2="618.4" stroke="#4d4d4d" stroke-width="0.8"/>
<text x="27.2" y="622.15" font-size="10.9" fill="#231f20" text-anchor="end" stroke="#231f20" stroke-width="0.1">0.5</text>
<line x1="28.8" y1="642.9" x2="31.2" y2="642.9" stroke="#4d4d4d" stroke-width="0.8"/>
<text x="27.2" y="646.65" font-size="10.9" fill="#231f20" text-anchor="end" stroke="#231f20" stroke-width="0.1">0.4</text>
<text x="92.9" y="705.7" font-size="10.8" fill="#231f20" text-anchor="middle" stroke="#231f20" stroke-width="0.1">time (s)</text>
<text x="0" y="0" font-size="10.9" fill="#231f20" text-anchor="middle" transform="translate(12.6,638.4) rotate(-90)" stroke="#231f20" stroke-width="0.1">tension (mN/mg)</text>
<line x1="28.8" y1="667.2" x2="33.2" y2="667.2" stroke="#4d4d4d" stroke-width="0.8"/>
<line x1="28.8" y1="674.4" x2="33.2" y2="674.4" stroke="#4d4d4d" stroke-width="0.8"/>
<text x="27.2" y="668.5" font-size="10.9" fill="#231f20" text-anchor="end" stroke="#231f20" stroke-width="0.1">0.3</text>
<text x="27.2" y="678.15" font-size="10.9" fill="#231f20" text-anchor="end" stroke="#231f20" stroke-width="0.1">0.3</text>
<text x="27.2" y="686.1" font-size="10.9" fill="#231f20" text-anchor="end" stroke="#231f20" stroke-width="0.1">0</text>
<polyline points="206,667.2 206,594.3 341,594.3 341,682.5 206,682.5 206,674.4" fill="none" stroke="#4d4d4d" stroke-width="0.8"/>
<line x1="206" y1="682.5" x2="206" y2="685.1" stroke="#4d4d4d" stroke-width="0.8"/>
<text x="206" y="694.7" font-size="10.9" fill="#231f20" text-anchor="middle" stroke="#231f20" stroke-width="0.1">0</text>
<line x1="251" y1="682.5" x2="251" y2="685.1" stroke="#4d4d4d" stroke-width="0.8"/>
<text x="251" y="694.7" font-size="10.9" fill="#231f20" text-anchor="middle" stroke="#231f20" stroke-width="0.1">500</text>
<line x1="296" y1="682.5" x2="296" y2="685.1" stroke="#4d4d4d" stroke-width="0.8"/>
<text x="296" y="694.7" font-size="10.9" fill="#231f20" text-anchor="middle" stroke="#231f20" stroke-width="0.1">1000</text>
<line x1="341" y1="682.5" x2="341" y2="685.1" stroke="#4d4d4d" stroke-width="0.8"/>
<text x="341" y="694.7" font-size="10.9" fill="#231f20" text-anchor="middle" stroke="#231f20" stroke-width="0.1">1500</text>
<line x1="203.6" y1="594.3" x2="206" y2="594.3" stroke="#4d4d4d" stroke-width="0.8"/>
<text x="202" y="598.05" font-size="10.9" fill="#231f20" text-anchor="end" stroke="#231f20" stroke-width="0.1">0.6</text>
<line x1="203.6" y1="618.4" x2="206" y2="618.4" stroke="#4d4d4d" stroke-width="0.8"/>
<text x="202" y="622.15" font-size="10.9" fill="#231f20" text-anchor="end" stroke="#231f20" stroke-width="0.1">0.5</text>
<line x1="203.6" y1="642.9" x2="206" y2="642.9" stroke="#4d4d4d" stroke-width="0.8"/>
<text x="202" y="646.65" font-size="10.9" fill="#231f20" text-anchor="end" stroke="#231f20" stroke-width="0.1">0.4</text>
<text x="272.6" y="705.7" font-size="10.8" fill="#231f20" text-anchor="middle" stroke="#231f20" stroke-width="0.1">time (s)</text>
<text x="0" y="0" font-size="10.9" fill="#231f20" text-anchor="middle" transform="translate(187.4,638.4) rotate(-90)" stroke="#231f20" stroke-width="0.1">tension (mN/mg)</text>
<line x1="203.6" y1="667.2" x2="208" y2="667.2" stroke="#4d4d4d" stroke-width="0.8"/>
<line x1="203.6" y1="674.4" x2="208" y2="674.4" stroke="#4d4d4d" stroke-width="0.8"/>
<text x="202" y="668.5" font-size="10.9" fill="#231f20" text-anchor="end" stroke="#231f20" stroke-width="0.1">0.3</text>
<text x="202" y="678.15" font-size="10.9" fill="#231f20" text-anchor="end" stroke="#231f20" stroke-width="0.1">0.3</text>
<text x="202" y="686.1" font-size="10.9" fill="#231f20" text-anchor="end" stroke="#231f20" stroke-width="0.1">0</text>
<polyline points="379,667.2 379,594.3 514,594.3 514,682.5 379,682.5 379,674.4" fill="none" stroke="#4d4d4d" stroke-width="0.8"/>
<line x1="379" y1="682.5" x2="379" y2="685.1" stroke="#4d4d4d" stroke-width="0.8"/>
<text x="379" y="694.7" font-size="10.9" fill="#231f20" text-anchor="middle" stroke="#231f20" stroke-width="0.1">0</text>
<line x1="424" y1="682.5" x2="424" y2="685.1" stroke="#4d4d4d" stroke-width="0.8"/>
<text x="424" y="694.7" font-size="10.9" fill="#231f20" text-anchor="middle" stroke="#231f20" stroke-width="0.1">500</text>
<line x1="469" y1="682.5" x2="469" y2="685.1" stroke="#4d4d4d" stroke-width="0.8"/>
<text x="469" y="694.7" font-size="10.9" fill="#231f20" text-anchor="middle" stroke="#231f20" stroke-width="0.1">1000</text>
<line x1="514" y1="682.5" x2="514" y2="685.1" stroke="#4d4d4d" stroke-width="0.8"/>
<text x="514" y="694.7" font-size="10.9" fill="#231f20" text-anchor="middle" stroke="#231f20" stroke-width="0.1">1500</text>
<line x1="376.6" y1="594.3" x2="379" y2="594.3" stroke="#4d4d4d" stroke-width="0.8"/>
<text x="375" y="598.05" font-size="10.9" fill="#231f20" text-anchor="end" stroke="#231f20" stroke-width="0.1">0.6</text>
<line x1="376.6" y1="618.4" x2="379" y2="618.4" stroke="#4d4d4d" stroke-width="0.8"/>
<text x="375" y="622.15" font-size="10.9" fill="#231f20" text-anchor="end" stroke="#231f20" stroke-width="0.1">0.5</text>
<line x1="376.6" y1="642.9" x2="379" y2="642.9" stroke="#4d4d4d" stroke-width="0.8"/>
<text x="375" y="646.65" font-size="10.9" fill="#231f20" text-anchor="end" stroke="#231f20" stroke-width="0.1">0.4</text>
<text x="446.9" y="705.7" font-size="10.8" fill="#231f20" text-anchor="middle" stroke="#231f20" stroke-width="0.1">time (s)</text>
<text x="0" y="0" font-size="10.9" fill="#231f20" text-anchor="middle" transform="translate(360.4,638.4) rotate(-90)" stroke="#231f20" stroke-width="0.1">tension (mN/mg)</text>
<line x1="376.6" y1="667.2" x2="381" y2="667.2" stroke="#4d4d4d" stroke-width="0.8"/>
<line x1="376.6" y1="674.4" x2="381" y2="674.4" stroke="#4d4d4d" stroke-width="0.8"/>
<text x="375" y="668.5" font-size="10.9" fill="#231f20" text-anchor="end" stroke="#231f20" stroke-width="0.1">0.3</text>
<text x="375" y="678.15" font-size="10.9" fill="#231f20" text-anchor="end" stroke="#231f20" stroke-width="0.1">0.3</text>
<text x="375" y="686.1" font-size="10.9" fill="#231f20" text-anchor="end" stroke="#231f20" stroke-width="0.1">0</text>
<text x="0.4" y="722.3" font-size="13" fill="#000" font-weight="bold" stroke="#000" stroke-width="0.1">k</text>
<polyline points="31.2,813 31.2,739.5 166.2,739.5 166.2,828.3 31.2,828.3 31.2,819.6" fill="none" stroke="#4d4d4d" stroke-width="0.8"/>
<line x1="31.2" y1="828.3" x2="31.2" y2="830.9" stroke="#4d4d4d" stroke-width="0.8"/>
<text x="31.2" y="840.5" font-size="10.9" fill="#231f20" text-anchor="middle" stroke="#231f20" stroke-width="0.1">0</text>
<line x1="76.2" y1="828.3" x2="76.2" y2="830.9" stroke="#4d4d4d" stroke-width="0.8"/>
<text x="76.2" y="840.5" font-size="10.9" fill="#231f20" text-anchor="middle" stroke="#231f20" stroke-width="0.1">500</text>
<line x1="121.2" y1="828.3" x2="121.2" y2="830.9" stroke="#4d4d4d" stroke-width="0.8"/>
<text x="121.2" y="840.5" font-size="10.9" fill="#231f20" text-anchor="middle" stroke="#231f20" stroke-width="0.1">1000</text>
<line x1="166.2" y1="828.3" x2="166.2" y2="830.9" stroke="#4d4d4d" stroke-width="0.8"/>
<text x="166.2" y="840.5" font-size="10.9" fill="#231f20" text-anchor="middle" stroke="#231f20" stroke-width="0.1">1500</text>
<line x1="28.8" y1="739.5" x2="31.2" y2="739.5" stroke="#4d4d4d" stroke-width="0.8"/>
<text x="27.2" y="743.25" font-size="10.9" fill="#231f20" text-anchor="end" stroke="#231f20" stroke-width="0.1">0.6</text>
<line x1="28.8" y1="764.1" x2="31.2" y2="764.1" stroke="#4d4d4d" stroke-width="0.8"/>
<text x="27.2" y="767.85" font-size="10.9" fill="#231f20" text-anchor="end" stroke="#231f20" stroke-width="0.1">0.5</text>
<line x1="28.8" y1="788.4" x2="31.2" y2="788.4" stroke="#4d4d4d" stroke-width="0.8"/>
<text x="27.2" y="792.15" font-size="10.9" fill="#231f20" text-anchor="end" stroke="#231f20" stroke-width="0.1">0.4</text>
<text x="92.9" y="849.6" font-size="10.8" fill="#231f20" text-anchor="middle" stroke="#231f20" stroke-width="0.1">time (s)</text>
<text x="0" y="0" font-size="10.9" fill="#231f20" text-anchor="middle" transform="translate(12.4,782.2) rotate(-90)" stroke="#231f20" stroke-width="0.1">tension (mN/mg)</text>
<line x1="28.8" y1="813" x2="33.2" y2="813" stroke="#4d4d4d" stroke-width="0.8"/>
<line x1="28.8" y1="819.6" x2="33.2" y2="819.6" stroke="#4d4d4d" stroke-width="0.8"/>
<text x="27.2" y="814.3" font-size="10.9" fill="#231f20" text-anchor="end" stroke="#231f20" stroke-width="0.1">0.3</text>
<text x="27.2" y="823.35" font-size="10.9" fill="#231f20" text-anchor="end" stroke="#231f20" stroke-width="0.1">0.3</text>
<text x="27.2" y="831.9" font-size="10.9" fill="#231f20" text-anchor="end" stroke="#231f20" stroke-width="0.1">0</text>
<polyline points="207.4,813 207.4,739.5 342.4,739.5 342.4,828.3 207.4,828.3 207.4,819.6" fill="none" stroke="#4d4d4d" stroke-width="0.8"/>
<line x1="207.4" y1="828.3" x2="207.4" y2="830.9" stroke="#4d4d4d" stroke-width="0.8"/>
<text x="207.4" y="840.5" font-size="10.9" fill="#231f20" text-anchor="middle" stroke="#231f20" stroke-width="0.1">0</text>
<line x1="252.4" y1="828.3" x2="252.4" y2="830.9" stroke="#4d4d4d" stroke-width="0.8"/>
<text x="252.4" y="840.5" font-size="10.9" fill="#231f20" text-anchor="middle" stroke="#231f20" stroke-width="0.1">500</text>
<line x1="297.4" y1="828.3" x2="297.4" y2="830.9" stroke="#4d4d4d" stroke-width="0.8"/>
<text x="297.4" y="840.5" font-size="10.9" fill="#231f20" text-anchor="middle" stroke="#231f20" stroke-width="0.1">1000</text>
<line x1="342.4" y1="828.3" x2="342.4" y2="830.9" stroke="#4d4d4d" stroke-width="0.8"/>
<text x="342.4" y="840.5" font-size="10.9" fill="#231f20" text-anchor="middle" stroke="#231f20" stroke-width="0.1">1500</text>
<line x1="205" y1="739.5" x2="207.4" y2="739.5" stroke="#4d4d4d" stroke-width="0.8"/>
<text x="203.4" y="743.25" font-size="10.9" fill="#231f20" text-anchor="end" stroke="#231f20" stroke-width="0.1">0.6</text>
<line x1="205" y1="764.1" x2="207.4" y2="764.1" stroke="#4d4d4d" stroke-width="0.8"/>
<text x="203.4" y="767.85" font-size="10.9" fill="#231f20" text-anchor="end" stroke="#231f20" stroke-width="0.1">0.5</text>
<line x1="205" y1="788.4" x2="207.4" y2="788.4" stroke="#4d4d4d" stroke-width="0.8"/>
<text x="203.4" y="792.15" font-size="10.9" fill="#231f20" text-anchor="end" stroke="#231f20" stroke-width="0.1">0.4</text>
<text x="270.6" y="849.6" font-size="10.8" fill="#231f20" text-anchor="middle" stroke="#231f20" stroke-width="0.1">time (s)</text>
<text x="0" y="0" font-size="10.9" fill="#231f20" text-anchor="middle" transform="translate(188.6,782.2) rotate(-90)" stroke="#231f20" stroke-width="0.1">tension (mN/mg)</text>
<line x1="205" y1="813" x2="209.4" y2="813" stroke="#4d4d4d" stroke-width="0.8"/>
<line x1="205" y1="819.6" x2="209.4" y2="819.6" stroke="#4d4d4d" stroke-width="0.8"/>
<text x="203.4" y="814.3" font-size="10.9" fill="#231f20" text-anchor="end" stroke="#231f20" stroke-width="0.1">0.3</text>
<text x="203.4" y="823.35" font-size="10.9" fill="#231f20" text-anchor="end" stroke="#231f20" stroke-width="0.1">0.3</text>
<text x="203.4" y="831.9" font-size="10.9" fill="#231f20" text-anchor="end" stroke="#231f20" stroke-width="0.1">0</text>
<polyline points="379.8,813 379.8,739.5 514.8,739.5 514.8,828.3 379.8,828.3 379.8,819.6" fill="none" stroke="#4d4d4d" stroke-width="0.8"/>
<line x1="379.8" y1="828.3" x2="379.8" y2="830.9" stroke="#4d4d4d" stroke-width="0.8"/>
<text x="379.8" y="840.5" font-size="10.9" fill="#231f20" text-anchor="middle" stroke="#231f20" stroke-width="0.1">0</text>
<line x1="424.8" y1="828.3" x2="424.8" y2="830.9" stroke="#4d4d4d" stroke-width="0.8"/>
<text x="424.8" y="840.5" font-size="10.9" fill="#231f20" text-anchor="middle" stroke="#231f20" stroke-width="0.1">500</text>
<line x1="469.8" y1="828.3" x2="469.8" y2="830.9" stroke="#4d4d4d" stroke-width="0.8"/>
<text x="469.8" y="840.5" font-size="10.9" fill="#231f20" text-anchor="middle" stroke="#231f20" stroke-width="0.1">1000</text>
<line x1="514.8" y1="828.3" x2="514.8" y2="830.9" stroke="#4d4d4d" stroke-width="0.8"/>
<text x="514.8" y="840.5" font-size="10.9" fill="#231f20" text-anchor="middle" stroke="#231f20" stroke-width="0.1">1500</text>
<line x1="377.4" y1="739.5" x2="379.8" y2="739.5" stroke="#4d4d4d" stroke-width="0.8"/>
<text x="375.8" y="743.25" font-size="10.9" fill="#231f20" text-anchor="end" stroke="#231f20" stroke-width="0.1">0.6</text>
<line x1="377.4" y1="764.1" x2="379.8" y2="764.1" stroke="#4d4d4d" stroke-width="0.8"/>
<text x="375.8" y="767.85" font-size="10.9" fill="#231f20" text-anchor="end" stroke="#231f20" stroke-width="0.1">0.5</text>
<line x1="377.4" y1="788.4" x2="379.8" y2="788.4" stroke="#4d4d4d" stroke-width="0.8"/>
<text x="375.8" y="792.15" font-size="10.9" fill="#231f20" text-anchor="end" stroke="#231f20" stroke-width="0.1">0.4</text>
<text x="445" y="849.6" font-size="10.8" fill="#231f20" text-anchor="middle" stroke="#231f20" stroke-width="0.1">time (s)</text>
<text x="0" y="0" font-size="10.9" fill="#231f20" text-anchor="middle" transform="translate(361,782.2) rotate(-90)" stroke="#231f20" stroke-width="0.1">tension (mN/mg)</text>
<line x1="377.4" y1="813" x2="381.8" y2="813" stroke="#4d4d4d" stroke-width="0.8"/>
<line x1="377.4" y1="819.6" x2="381.8" y2="819.6" stroke="#4d4d4d" stroke-width="0.8"/>
<text x="375.8" y="814.3" font-size="10.9" fill="#231f20" text-anchor="end" stroke="#231f20" stroke-width="0.1">0.3</text>
<text x="375.8" y="823.35" font-size="10.9" fill="#231f20" text-anchor="end" stroke="#231f20" stroke-width="0.1">0.3</text>
<text x="375.8" y="831.9" font-size="10.9" fill="#231f20" text-anchor="end" stroke="#231f20" stroke-width="0.1">0</text>
<polyline points="31.76,241.03 41.71,241.15 53.41,241.03 68.63,240.8 69.8,240.21 83.85,239.98 93.79,239.98 94.38,237.28 95.55,236.7 98.52,236.11 100.86,233.77 102.62,229.09 103.79,222.06 104.96,217.38 106.72,215.04 107.89,211.52 108.48,208.01 109.65,205.67 112.58,205.67 117.27,205.67 119.61,203.33 120.78,202.15 123.13,203.91 126.06,205.08 128.99,205.08 131.33,203.91 133.09,200.4 134.85,202.74 137.19,203.33 140.7,202.74 144.22,200.4 146.56,198.06 148.91,198.06 153.6,198.64 154.18,196.3 154.77,182.83 155.35,182.83 155.94,198.64 157.11,202.15 158.28,205.67 158.87,188.1 159.46,187.52 160.04,205.67 161.8,212.69 162.39,220.89 162.97,225.57 164.14,229.09 165.9,231.43" fill="none" stroke="#111" stroke-width="1.1" stroke-linejoin="round"/>
<line x1="41.7" y1="218.2" x2="80.1" y2="218.2" stroke="#29a3dc" stroke-width="0.9"/>
<text x="59.8" y="215.6" font-size="8.3" fill="#29a3dc" text-anchor="middle">nM</text>
<line x1="88.2" y1="181.4" x2="141.9" y2="181.4" stroke="#29a3dc" stroke-width="0.9"/>
<text x="116.1" y="178.7" font-size="8.3" fill="#29a3dc" text-anchor="middle">μM</text>
<text x="41.1" y="230.3" font-size="8.3" fill="#29a3dc" text-anchor="middle">1</text>
<polygon points="40.36,235 42.44,235 42.44,237.07 44,237.07 41.4,239.4 38.8,237.07 40.36,237.07" fill="#29a3dc"/>
<text x="54" y="230.8" font-size="8.3" fill="#29a3dc" text-anchor="middle">3</text>
<polygon points="53.16,235 55.24,235 55.24,237.07 56.8,237.07 54.2,239.4 51.6,237.07 53.16,237.07" fill="#29a3dc"/>
<text x="64.8" y="230" font-size="8.3" fill="#29a3dc" text-anchor="middle">10</text>
<polygon points="64.06,234.4 66.14,234.4 66.14,236.33 67.7,236.33 65.1,238.5 62.5,236.33 64.06,236.33" fill="#29a3dc"/>
<text x="79.4" y="229.7" font-size="8.3" fill="#29a3dc" text-anchor="middle">30</text>
<polygon points="78.66,233.2 80.74,233.2 80.74,235.22 82.3,235.22 79.7,237.5 77.1,235.22 78.66,235.22" fill="#29a3dc"/>
<text x="90.3" y="223.2" font-size="8.3" fill="#29a3dc" text-anchor="middle">0.1</text>
<polygon points="89.56,230.8 91.64,230.8 91.64,233.01 93.2,233.01 90.6,235.5 88,233.01 89.56,233.01" fill="#29a3dc"/>
<text x="103.2" y="206.3" font-size="8.3" fill="#29a3dc" text-anchor="middle">0.3</text>
<polygon points="103.06,210.6 105.14,210.6 105.14,212.95 106.7,212.95 104.1,215.6 101.5,212.95 103.06,212.95" fill="#29a3dc"/>
<text x="115.7" y="194.5" font-size="8.3" fill="#29a3dc" text-anchor="middle">1</text>
<polygon points="114.66,199.2 116.74,199.2 116.74,201.27 118.3,201.27 115.7,203.6 113.1,201.27 114.66,201.27" fill="#29a3dc"/>
<text x="129" y="193" font-size="8.3" fill="#29a3dc" text-anchor="middle">3</text>
<polygon points="127.96,198 130.04,198 130.04,200.21 131.6,200.21 129,202.7 126.4,200.21 127.96,200.21" fill="#29a3dc"/>
<text x="139.5" y="189.3" font-size="8.3" fill="#29a3dc" text-anchor="middle">10</text>
<polygon points="139.66,194.9 141.74,194.9 141.74,197.11 143.3,197.11 140.7,199.6 138.1,197.11 139.66,197.11" fill="#29a3dc"/>
<text x="141.9" y="179" font-size="8.3" fill="#29a3dc">Wash</text>
<polygon points="150.76,180.1 152.84,180.1 152.84,182.22 154.4,182.22 151.8,184.6 149.2,182.22 150.76,182.22" fill="#29a3dc"/>
<polygon points="106.4,224.2 109.05,222.1 109.05,223.2 111.4,223.2 111.4,225.2 109.05,225.2 109.05,226.3" fill="#e8262d"/>
<text x="113.8" y="227.9" font-size="10.6" fill="#e8262d" stroke="#e8262d" stroke-width="0.1">EC<tspan font-size="8.4" dy="0.9" dx="0">50</tspan></text>
<text x="106.7" y="238.2" font-size="8.7" fill="#e8262d" textLength="54.5" lengthAdjust="spacingAndGlyphs">267.00 ± 14.83</text>
<polyline points="214.95,246.42 220.22,247.24 223.73,246.89 230.75,246.42 236.6,245.48 240.12,244.54 243.04,244.89 244.21,242.55 245.38,239.63 248.31,237.28 251.82,235.53 255.33,233.54 258.85,232.37 263.53,231.43 264.7,234 265.28,233.19 266.45,226.74 268.21,219.72 269.97,215.62 272.31,213.63 270,216.21 272.34,213.86 274.69,212.11 277.03,209.18 279.38,206.84 282.89,206.25 286.41,206.6 288.16,206.84 289.34,203.91 291.09,200.98 293.44,200.05 296.37,200.4 298.13,201.57 299.3,198.64 301.06,196.53 303.99,197.24 307.5,198.06 309.85,197.47 311.02,194.54 312.78,193.96 315.7,195.13 318.05,197.47 320.39,197.47 320.98,197.47 321.33,171.71 321.8,197.47 322.74,204.5 323.91,213.86 324.49,197.47 324.85,216.21 325.67,200.98 326.02,234.94 326.25,230.26 326.84,225.57 327.42,239.63 329.77,244.31 332.7,246.65" fill="none" stroke="#111" stroke-width="1.1" stroke-linejoin="round"/>
<line x1="217.1" y1="215.6" x2="258.8" y2="215.6" stroke="#29a3dc" stroke-width="0.9"/>
<text x="237.5" y="213.6" font-size="8.3" fill="#29a3dc" text-anchor="middle">nM</text>
<line x1="263.2" y1="174.3" x2="311.6" y2="174.3" stroke="#29a3dc" stroke-width="0.9"/>
<text x="294.6" y="172.6" font-size="8.3" fill="#29a3dc" text-anchor="middle">μM</text>
<text x="220.8" y="234.9" font-size="8.3" fill="#29a3dc" text-anchor="middle">1</text>
<polygon points="219.76,238.2 221.84,238.2 221.84,240.41 223.4,240.41 220.8,242.9 218.2,240.41 219.76,240.41" fill="#29a3dc"/>
<text x="231" y="234.4" font-size="8.3" fill="#29a3dc" text-anchor="middle">3</text>
<polygon points="230.66,237.8 232.74,237.8 232.74,239.87 234.3,239.87 231.7,242.2 229.1,239.87 230.66,239.87" fill="#29a3dc"/>
<text x="240.7" y="230.8" font-size="8.3" fill="#29a3dc" text-anchor="middle">10</text>
<polygon points="240.46,234 242.54,234 242.54,236.21 244.1,236.21 241.5,238.7 238.9,236.21 240.46,236.21" fill="#29a3dc"/>
<text x="255.9" y="223.2" font-size="8.3" fill="#29a3dc" text-anchor="middle">30</text>
<polygon points="255.26,224.2 257.34,224.2 257.34,226.22 258.9,226.22 256.3,228.5 253.7,226.22 255.26,226.22" fill="#29a3dc"/>
<text x="264.1" y="208.6" font-size="8.3" fill="#29a3dc" text-anchor="middle">0.1</text>
<polygon points="263.06,211.5 265.14,211.5 265.14,213.62 266.7,213.62 264.1,216 261.5,213.62 263.06,213.62" fill="#29a3dc"/>
<text x="275" y="198" font-size="8.3" fill="#29a3dc" text-anchor="middle">0.3</text>
<polygon points="273.66,200.4 275.74,200.4 275.74,202.42 277.3,202.42 274.7,204.7 272.1,202.42 273.66,202.42" fill="#29a3dc"/>
<text x="286.2" y="191.4" font-size="8.3" fill="#29a3dc" text-anchor="middle">1</text>
<polygon points="285.76,194 287.84,194 287.84,196.07 289.4,196.07 286.8,198.4 284.2,196.07 285.76,196.07" fill="#29a3dc"/>
<text x="296.7" y="187.2" font-size="8.3" fill="#29a3dc" text-anchor="middle">3</text>
<polygon points="295.96,189.3 298.04,189.3 298.04,191.23 299.6,191.23 297,193.4 294.4,191.23 295.96,191.23" fill="#29a3dc"/>
<text x="307.7" y="182.2" font-size="8.3" fill="#29a3dc" text-anchor="middle">10</text>
<polygon points="307.06,184.6 309.14,184.6 309.14,186.67 310.7,186.67 308.1,189 305.5,186.67 307.06,186.67" fill="#29a3dc"/>
<text x="311.6" y="172.6" font-size="8.3" fill="#29a3dc">Wash</text>
<polygon points="319.16,177 321.24,177 321.24,179.21 322.8,179.21 320.2,181.7 317.6,179.21 319.16,179.21" fill="#29a3dc"/>
<polygon points="271.5,224.4 274.1,222.3 274.1,223.4 276.4,223.4 276.4,225.4 274.1,225.4 274.1,226.5" fill="#e8262d"/>
<text x="277.3" y="228.5" font-size="10.6" fill="#e8262d" stroke="#e8262d" stroke-width="0.1">EC<tspan font-size="8.4" dy="0.9" dx="0">50</tspan></text>
<text x="271.4" y="238.2" font-size="8.7" fill="#e8262d" textLength="51.9" lengthAdjust="spacingAndGlyphs">152.30 ±16.45</text>
<polyline points="381.51,247.24 387.36,247.24 393.22,246.89 399.07,246.42 403.75,246.42 408.43,245.71 411.95,245.25 413.12,244.07 414.29,242.9 416.63,243.72 420.14,243.37 424.82,243.14 429.5,243.37 431.85,242.55 434.19,241.38 438.87,239.63 442.38,238.69 445.31,236.7 440,239.63 443.51,239.04 445.86,236.7 449.37,234.36 452.88,230.84 455.81,226.74 458.16,220.89 460.5,215.04 462.84,211.52 465.18,210.35 468.11,210.12 469.87,205.08 471.04,204.26 473.38,205.9 476.31,207.07 479.82,207.42 483.34,205.67 488.02,204.73 492.71,205.08 497.39,203.56 502.08,202.39 506.76,202.39 507.35,188.1 507.94,202.15 509.11,190.44 509.69,203.33 510.28,190.44 510.86,203.91 512.04,210.35 513.21,218.55 514.03,225.57 514.73,232.6" fill="none" stroke="#111" stroke-width="1.1" stroke-linejoin="round"/>
<line x1="390.1" y1="218.5" x2="432.4" y2="218.5" stroke="#29a3dc" stroke-width="0.9"/>
<text x="412.5" y="216.6" font-size="8.3" fill="#29a3dc" text-anchor="middle">nM</text>
<line x1="442.4" y1="174.3" x2="493.9" y2="174.3" stroke="#29a3dc" stroke-width="0.9"/>
<text x="464.6" y="171.7" font-size="8.3" fill="#29a3dc" text-anchor="middle">μM</text>
<text x="389.4" y="230.8" font-size="8.3" fill="#29a3dc" text-anchor="middle">1</text>
<polygon points="388.36,236.1 390.44,236.1 390.44,238.31 392,238.31 389.4,240.8 386.8,238.31 388.36,238.31" fill="#29a3dc"/>
<text x="402" y="231.4" font-size="8.3" fill="#29a3dc" text-anchor="middle">3</text>
<polygon points="401.26,236.1 403.34,236.1 403.34,238.31 404.9,238.31 402.3,240.8 399.7,238.31 401.26,238.31" fill="#29a3dc"/>
<text x="412" y="231.2" font-size="8.3" fill="#29a3dc" text-anchor="middle">10</text>
<polygon points="410.96,234 413.04,234 413.04,236.12 414.6,236.12 412,238.5 409.4,236.12 410.96,236.12" fill="#29a3dc"/>
<text x="430.4" y="230.5" font-size="8.3" fill="#29a3dc" text-anchor="middle">30</text>
<polygon points="429.76,232.8 431.84,232.8 431.84,234.92 433.4,234.92 430.8,237.3 428.2,234.92 429.76,234.92" fill="#29a3dc"/>
<text x="447.6" y="217.6" font-size="8.3" fill="#29a3dc" text-anchor="middle">0.1</text>
<polygon points="448.96,219.1 451.04,219.1 451.04,221.31 452.6,221.31 450,223.8 447.4,221.31 448.96,221.31" fill="#29a3dc"/>
<text x="455.2" y="201.6" font-size="8.3" fill="#29a3dc" text-anchor="middle">0.3</text>
<polygon points="456.26,203.6 458.34,203.6 458.34,205.67 459.9,205.67 457.3,208 454.7,205.67 456.26,205.67" fill="#29a3dc"/>
<text x="468.7" y="184.8" font-size="8.3" fill="#29a3dc" text-anchor="middle">1</text>
<polygon points="467.66,187.5 469.74,187.5 469.74,189.71 471.3,189.71 468.7,192.2 466.1,189.71 467.66,189.71" fill="#29a3dc"/>
<text x="482.4" y="183.4" font-size="8.3" fill="#29a3dc" text-anchor="middle">3</text>
<polygon points="481.06,186 483.14,186 483.14,188.21 484.7,188.21 482.1,190.7 479.5,188.21 481.06,188.21" fill="#29a3dc"/>
<text x="491.3" y="181.3" font-size="8.3" fill="#29a3dc" text-anchor="middle">10</text>
<polygon points="493.06,183.7 495.14,183.7 495.14,185.77 496.7,185.77 494.1,188.1 491.5,185.77 493.06,185.77" fill="#29a3dc"/>
<text x="494.1" y="171.5" font-size="8.3" fill="#29a3dc">Wash</text>
<polygon points="505.46,177 507.54,177 507.54,179.02 509.1,179.02 506.5,181.3 503.9,179.02 505.46,179.02" fill="#29a3dc"/>
<polygon points="457.9,228.5 460.5,226.4 460.5,227.5 462.8,227.5 462.8,229.5 460.5,229.5 460.5,230.6" fill="#e8262d"/>
<text x="464" y="232" font-size="10.6" fill="#e8262d" stroke="#e8262d" stroke-width="0.1">EC<tspan font-size="8.4" dy="0.9" dx="0">50</tspan></text>
<text x="458.5" y="241.4" font-size="8.7" fill="#e8262d" textLength="52.9" lengthAdjust="spacingAndGlyphs">117.28 ± 19.61</text>
<polyline points="38.19,387.82 44.05,388.06 51.07,387.24 58.09,387.24 61.6,386.65 65.12,386.42 69.8,386.42 72.14,384.89 74.48,383.72 79.16,383.37 84.43,383.37 86.19,380.8 87.94,377.28 89.7,372.6 91.45,365.57 93.21,358.55 94.97,352.69 96.72,348.59 95,348.24 97.34,348.01 102.03,348.24 106.72,348.95 110.23,349.41 112.58,347.42 114.34,346.25 117.27,346.6 120.2,347.78 121.37,348.01 122.54,345.08 124.3,344.26 127.23,345.67 130.16,346.25 133.67,345.9 135.43,344.26 137.19,342.39 141.88,342.39 145.98,342.74 146.56,342.15 146.8,354.45 147.38,325.18 147.97,342.74 150.08,345.08 151.02,356.21 151.6,330.21 152.19,346.25 153.6,348.01 154.18,365.57 154.77,332.2 155.35,351.52 157.11,353.86 158.87,358.55 161.8,364.4 166.49,372.6" fill="none" stroke="#111" stroke-width="1.1" stroke-linejoin="round"/>
<line x1="45.8" y1="359.5" x2="82.9" y2="359.5" stroke="#29a3dc" stroke-width="0.9"/>
<text x="64.5" y="356.8" font-size="8.3" fill="#29a3dc" text-anchor="middle">nM</text>
<line x1="89.7" y1="325.2" x2="132.7" y2="325.2" stroke="#29a3dc" stroke-width="0.9"/>
<text x="113.8" y="322.5" font-size="8.3" fill="#29a3dc" text-anchor="middle">μM</text>
<text x="45.8" y="375.5" font-size="8.3" fill="#29a3dc" text-anchor="middle">1</text>
<polygon points="44.76,380.2 46.84,380.2 46.84,382.41 48.4,382.41 45.8,384.9 43.2,382.41 44.76,382.41" fill="#29a3dc"/>
<text x="56.9" y="373.5" font-size="8.3" fill="#29a3dc" text-anchor="middle">3</text>
<polygon points="55.86,379 57.94,379 57.94,381.21 59.5,381.21 56.9,383.7 54.3,381.21 55.86,381.21" fill="#29a3dc"/>
<text x="68.4" y="371.2" font-size="8.3" fill="#29a3dc" text-anchor="middle">10</text>
<polygon points="68.16,375.5 70.24,375.5 70.24,377.71 71.8,377.71 69.2,380.2 66.6,377.71 68.16,377.71" fill="#29a3dc"/>
<text x="82.1" y="367.7" font-size="8.3" fill="#29a3dc" text-anchor="middle">30</text>
<polygon points="81.86,371.7 83.94,371.7 83.94,373.77 85.5,373.77 82.9,376.1 80.3,373.77 81.86,373.77" fill="#29a3dc"/>
<text x="90.9" y="350.4" font-size="8.3" fill="#29a3dc" text-anchor="middle">0.1</text>
<polygon points="90.76,354.4 92.84,354.4 92.84,356.61 94.4,356.61 91.8,359.1 89.2,356.61 90.76,356.61" fill="#29a3dc"/>
<text x="106.7" y="338.4" font-size="8.3" fill="#29a3dc" text-anchor="middle">0.3</text>
<polygon points="107.46,341.2 109.54,341.2 109.54,343.31 111.1,343.31 108.5,345.7 105.9,343.31 107.46,343.31" fill="#29a3dc"/>
<text x="118.4" y="334.5" font-size="8.3" fill="#29a3dc" text-anchor="middle">1</text>
<polygon points="117.96,339.8 120.04,339.8 120.04,341.92 121.6,341.92 119,344.3 116.4,341.92 117.96,341.92" fill="#29a3dc"/>
<text x="132.7" y="333.4" font-size="8.3" fill="#29a3dc" text-anchor="middle">3</text>
<polygon points="132.06,338.4 134.14,338.4 134.14,340.42 135.7,340.42 133.1,342.7 130.5,340.42 132.06,340.42" fill="#29a3dc"/>
<text x="134.8" y="323.4" font-size="8.3" fill="#29a3dc">Wash</text>
<polygon points="144.56,326.7 146.64,326.7 146.64,328.91 148.2,328.91 145.6,331.4 143,328.91 144.56,328.91" fill="#29a3dc"/>
<polygon points="91.7,376.1 94.3,374 94.3,375.1 96.6,375.1 96.6,377.1 94.3,377.1 94.3,378.2" fill="#e8262d"/>
<text x="96.8" y="379.6" font-size="10.6" fill="#e8262d" stroke="#e8262d" stroke-width="0.1">EC<tspan font-size="8.4" dy="0.9" dx="0">50</tspan></text>
<text x="91.5" y="389.6" font-size="8.7" fill="#e8262d" textLength="45.1" lengthAdjust="spacingAndGlyphs">34.21 ± 4.32</text>
<polyline points="209.1,387.24 214.36,387.59 220.22,386.89 228.41,386.89 231.92,386.42 235.43,386.07 242.46,385.71 245.38,383.72 247.14,380.8 248.9,374.94 250.65,370.84 252.99,369.67 255.33,367.92 257.09,364.4 258.85,360.89 260.02,356.21 261.19,350.35 262.36,347.42 264.7,346.25 267.62,345.67 269.38,343.91 270.55,340.4 272.31,339.58 270,340.4 274.69,339.23 278.2,339.81 280.55,340.4 281.72,338.06 284.06,335.13 287.58,335.71 291.09,336.3 292.85,333.96 293.44,330.68 294.61,331.62 296.95,333.96 299.3,335.13 302.81,336.3 305.16,334.54 308.67,333.96 312.19,332.2 313.36,331.62 314.53,333.37 318.05,332.55 318.63,330.44 318.99,348.59 319.46,317.56 320.16,331.62 322.74,330.68 325.08,331.03 325.31,349.18 325.67,318.15 326.25,331.62 328.01,331.03 329.18,331.62 329.53,308.78 329.77,350.35 330.35,321.66 330.71,335.13 331.53,351.52 333.28,353.86 335.63,357.38 339.14,364.4 341.49,368.5" fill="none" stroke="#111" stroke-width="1.1" stroke-linejoin="round"/>
<line x1="214.1" y1="340.4" x2="255.9" y2="340.4" stroke="#29a3dc" stroke-width="0.9"/>
<text x="233.1" y="337.7" font-size="8.3" fill="#29a3dc" text-anchor="middle">nM</text>
<line x1="268.2" y1="317.3" x2="311.6" y2="317.3" stroke="#29a3dc" stroke-width="0.9"/>
<text x="291.7" y="314.6" font-size="8.3" fill="#29a3dc" text-anchor="middle">μM</text>
<text x="216.7" y="373.2" font-size="8.3" fill="#29a3dc" text-anchor="middle">1</text>
<polygon points="216.56,377.9 218.64,377.9 218.64,380.11 220.2,380.11 217.6,382.6 215,380.11 216.56,380.11" fill="#29a3dc"/>
<text x="229" y="372.4" font-size="8.3" fill="#29a3dc" text-anchor="middle">3</text>
<polygon points="228.56,376.1 230.64,376.1 230.64,378.31 232.2,378.31 229.6,380.8 227,378.31 228.56,378.31" fill="#29a3dc"/>
<text x="243.9" y="371.7" font-size="8.3" fill="#29a3dc" text-anchor="middle">10</text>
<polygon points="242.56,376.1 244.64,376.1 244.64,378.31 246.2,378.31 243.6,380.8 241,378.31 242.56,378.31" fill="#29a3dc"/>
<text x="254.7" y="348.2" font-size="8.3" fill="#29a3dc" text-anchor="middle">30</text>
<polygon points="254.56,352.7 256.64,352.7 256.64,354.91 258.2,354.91 255.6,357.4 253,354.91 254.56,354.91" fill="#29a3dc"/>
<text x="267" y="332.2" font-size="8.3" fill="#29a3dc" text-anchor="middle">0.1</text>
<polygon points="267.76,334.5 269.84,334.5 269.84,336.71 271.4,336.71 268.8,339.2 266.2,336.71 267.76,336.71" fill="#29a3dc"/>
<text x="279.4" y="325.5" font-size="8.3" fill="#29a3dc" text-anchor="middle">0.3</text>
<polygon points="279.26,329.9 281.34,329.9 281.34,332.06 282.9,332.06 280.3,334.5 277.7,332.06 279.26,332.06" fill="#29a3dc"/>
<text x="293.1" y="324.6" font-size="8.3" fill="#29a3dc" text-anchor="middle">1</text>
<polygon points="292.06,326.7 294.14,326.7 294.14,328.72 295.7,328.72 293.1,331 290.5,328.72 292.06,328.72" fill="#29a3dc"/>
<text x="303" y="323.4" font-size="8.3" fill="#29a3dc" text-anchor="middle">3</text>
<polygon points="301.96,326.7 304.04,326.7 304.04,328.72 305.6,328.72 303,331 300.4,328.72 301.96,328.72" fill="#29a3dc"/>
<text x="309.3" y="314.6" font-size="8.3" fill="#29a3dc">Wash</text>
<polygon points="317.26,316.4 319.34,316.4 319.34,318.47 320.9,318.47 318.3,320.8 315.7,318.47 317.26,318.47" fill="#29a3dc"/>
<polygon points="260.9,363.5 263.55,361.4 263.55,362.5 265.9,362.5 265.9,364.5 263.55,364.5 263.55,365.6" fill="#e8262d"/>
<text x="266.2" y="367.3" font-size="10.6" fill="#e8262d" stroke="#e8262d" stroke-width="0.1">EC<tspan font-size="8.4" dy="0.9" dx="0">50</tspan></text>
<text x="261.5" y="376.7" font-size="8.7" fill="#e8262d" textLength="45.1" lengthAdjust="spacingAndGlyphs">33.94 ± 9.86</text>
<polyline points="384.44,385.48 388.53,384.31 389.71,385.25 395.56,384.89 401.41,384.54 406.09,384.07 407.26,383.14 408.43,383.37 413.12,383.72 417.8,383.37 420.14,382.55 422.48,381.38 425.99,380.21 429.5,379.63 431.85,378.69 433.6,376.11 435.36,372.01 437.7,367.92 440.04,363.82 443.55,359.72 440,363.82 442.34,360.89 444.69,357.38 446.44,351.52 448.2,346.25 451.71,347.07 455.23,347.42 458.74,346.25 462.25,345.08 466.94,345.43 469.28,343.56 472.8,344.26 477.48,344.26 481,343.91 484.51,342.74 489.19,342.15 497.39,341.22 497.98,351.52 498.33,322.25 498.8,341.57 500.91,342.74 501.49,381.97 501.84,329.86 502.31,373.77 503.84,374.36 505.01,374.94 505.59,336.3 506.18,374.94 510.28,376.7 513.79,378.45" fill="none" stroke="#111" stroke-width="1.1" stroke-linejoin="round"/>
<line x1="389.7" y1="356.8" x2="431.3" y2="356.8" stroke="#29a3dc" stroke-width="0.9"/>
<text x="410.5" y="354.1" font-size="8.3" fill="#29a3dc" text-anchor="middle">nM</text>
<line x1="443" y1="325.2" x2="482.8" y2="325.2" stroke="#29a3dc" stroke-width="0.9"/>
<text x="467.2" y="322.2" font-size="8.3" fill="#29a3dc" text-anchor="middle">μM</text>
<text x="391.8" y="373.2" font-size="8.3" fill="#29a3dc" text-anchor="middle">1</text>
<polygon points="390.76,378.2 392.84,378.2 392.84,380.41 394.4,380.41 391.8,382.9 389.2,380.41 390.76,380.41" fill="#29a3dc"/>
<text x="404.7" y="372.4" font-size="8.3" fill="#29a3dc" text-anchor="middle">3</text>
<polygon points="403.66,378.2 405.74,378.2 405.74,380.41 407.3,380.41 404.7,382.9 402.1,380.41 403.66,380.41" fill="#29a3dc"/>
<text x="416.6" y="368.5" font-size="8.3" fill="#29a3dc" text-anchor="middle">10</text>
<polygon points="415.56,373.5 417.64,373.5 417.64,375.71 419.2,375.71 416.6,378.2 414,375.71 415.56,375.71" fill="#29a3dc"/>
<text x="428.6" y="365" font-size="8.3" fill="#29a3dc" text-anchor="middle">30</text>
<polygon points="429.06,370.3 431.14,370.3 431.14,372.37 432.7,372.37 430.1,374.7 427.5,372.37 429.06,372.37" fill="#29a3dc"/>
<text x="441.2" y="345.7" font-size="8.3" fill="#29a3dc" text-anchor="middle">0.1</text>
<polygon points="441.36,350.6 443.44,350.6 443.44,352.67 445,352.67 442.4,355 439.8,352.67 441.36,352.67" fill="#29a3dc"/>
<text x="455.2" y="337.7" font-size="8.3" fill="#29a3dc" text-anchor="middle">0.3</text>
<polygon points="455.36,341.6 457.44,341.6 457.44,343.62 459,343.62 456.4,345.9 453.8,343.62 455.36,343.62" fill="#29a3dc"/>
<text x="466.4" y="336.1" font-size="8.3" fill="#29a3dc" text-anchor="middle">1</text>
<polygon points="465.36,339.2 467.44,339.2 467.44,341.13 469,341.13 466.4,343.3 463.8,341.13 465.36,341.13" fill="#29a3dc"/>
<text x="481.9" y="333.4" font-size="8.3" fill="#29a3dc" text-anchor="middle">3</text>
<polygon points="481.46,336.9 483.54,336.9 483.54,338.92 485.1,338.92 482.5,341.2 479.9,338.92 481.46,338.92" fill="#29a3dc"/>
<text x="486.9" y="314.6" font-size="8.3" fill="#29a3dc">Wash</text>
<polygon points="495.76,316.2 497.84,316.2 497.84,318.36 499.4,318.36 496.8,320.8 494.2,318.36 495.76,318.36" fill="#29a3dc"/>
<polygon points="438.9,371.7 441.5,369.6 441.5,370.7 443.8,370.7 443.8,372.7 441.5,372.7 441.5,373.8" fill="#e8262d"/>
<text x="444.1" y="374.9" font-size="10.6" fill="#e8262d" stroke="#e8262d" stroke-width="0.1">EC<tspan font-size="8.4" dy="0.9" dx="1.6">50</tspan></text>
<text x="439.5" y="384.5" font-size="8.7" fill="#e8262d" textLength="44.4" lengthAdjust="spacingAndGlyphs">38.28 ± 5.19</text>
<polyline points="41.24,523.41 42.67,523.41 42.67,520.91 43.9,520.91 43.9,525.52 45.33,525.52 45.33,521.66 46.35,521.66 46.35,522.39 47.37,522.39 47.37,521.96 48.39,521.96 48.39,512.76 49.42,512.76 49.42,506.25 49.42,504.28 50.44,504.28 50.44,491.97 51.46,491.97 51.46,481.95 51.46,483.2 52.89,483.2 52.89,480.17 54.52,480.17 54.52,477.94 56.16,477.94 56.16,481.5 57.59,481.5 57.59,479.55 59.02,479.55 59.02,482.59 60.66,482.59 60.66,480.5 62.29,480.5 62.29,484.21 63.72,484.21 63.72,481.57 65.15,481.57 65.15,485.43 66.79,485.43 66.79,481.84 66.79,483.36 68.42,483.36 68.42,488.12 69.85,488.12 69.85,498.47 70.87,498.47 70.87,489.14 72.51,489.14 72.51,493.3 73.94,493.3 73.94,488.28 75.37,488.28 75.37,491.27 77.01,491.27 77.01,489.06 78.64,489.06 78.64,503.55 80.07,503.55 80.07,496.43 81.5,496.43 81.5,499.5 83.14,499.5 83.14,504.91 83.14,503.57 84.77,503.57 84.77,494.92 85.79,494.92 85.79,494.99 86.82,494.99 86.82,495.43 88.04,495.43 88.04,492.86 89.27,492.86 89.27,490.42 90.29,490.42 90.29,492.86 91.31,492.86 91.31,493.6 92.33,493.6 92.33,492.97 93.36,492.97 93.36,493.23 94.38,493.23 94.38,494.88 95.4,494.88 95.4,497.57 96.42,497.57 96.42,495.69 97.44,495.69 97.44,491.2 97.44,492.56 98.47,492.56 98.47,494.98 98.47,493.48 99.49,493.48 99.49,493.77 100.51,493.77 100.51,494.83 101.53,494.83 101.53,496.31 102.55,496.31 102.55,494.44 103.57,494.44 103.57,494.21 104.6,494.21 104.6,496.01 105.62,496.01 105.62,499.47 106.64,499.47 106.64,497.95 107.66,497.95 107.66,496 108.89,496 108.89,493.93 108.89,492.54 110.11,492.54 110.11,490.4 111.75,490.4 111.75,492.18 112.77,492.18 112.77,493.07 113.79,493.07 113.79,493.53 113.79,495.12 115.43,495.12 115.43,504.23 116.86,504.23 116.86,507.63 118.29,507.63 118.29,498.42 119.92,498.42 119.92,501.49 120.95,501.49 120.95,500.13 120.95,498.64 121.97,498.64 121.97,495.96 123.6,495.96 123.6,500.82 124.83,500.82 124.83,497.98 126.06,497.98 126.06,494.06 127.28,494.06 127.28,490.29 127.28,491.87 128.51,491.87 128.51,490.59 130.14,490.59 130.14,494.29 131.78,494.29 131.78,506.02 131.78,504.56 133.21,504.56 133.21,499.29 133.21,497.5 134.64,497.5 134.64,495.33 136.27,495.33 136.27,499.18 137.91,499.18 137.91,498.42 139.34,498.42 139.34,503.25 140.77,503.25 140.77,501.43 142,501.43 142,508.49 143.43,508.49 143.43,516.4 144.86,516.4 144.86,522.3 146.49,522.3 146.49,522.62 146.49,524.62 148.13,524.62 148.13,525.96 149.15,525.96 149.15,526.4 150.17,526.4 150.17,527.65 151.19,527.65 151.19,526.51 151.19,527.96 152.22,527.55" fill="none" stroke="#111" stroke-width="0.95" stroke-linejoin="round"/>
<polyline points="210.11,521.4 211.13,521.4 211.13,521.79 212.15,521.79 212.15,521.34 213.17,521.34 213.17,521.81 214.2,521.81 214.2,522.02 215.22,522.02 215.22,521.68 216.24,521.68 216.24,521.07 217.67,521.07 217.67,519.65 218.9,519.65 218.9,524.05 220.33,524.05 220.33,526.11 221.76,526.11 221.76,528.41 222.98,528.41 222.98,516.84 222.98,518.7 224.42,518.7 224.42,500.12 225.44,500.12 225.44,495.34 226.46,495.34 226.46,495.31 227.48,495.31 227.48,496.35 228.5,496.35 228.5,494.72 229.52,494.72 229.52,493.29 230.55,493.29 230.55,492.35 231.57,492.35 231.57,491.37 233.2,491.37 233.2,490.93 234.63,490.93 234.63,487.81 235.66,487.81 235.66,486.37 235.66,488.35 236.68,488.35 236.68,488.89 237.7,488.89 237.7,487.87 238.72,487.87 238.72,487.46 239.74,487.46 239.74,487.5 240.77,487.5 240.77,488.26 241.79,488.26 241.79,489.95 241.79,488.72 242.81,488.72 242.81,488.59 243.83,488.59 243.83,488.95 244.85,488.95 244.85,489.85 245.87,489.85 245.87,491.72 245.87,490.49 246.9,490.49 246.9,491.56 247.92,491.56 247.92,494.44 247.92,492.95 248.94,492.95 248.94,493.67 249.96,493.67 249.96,493.52 250.98,493.52 250.98,492.55 252.01,492.55 252.01,493.8 253.03,493.8 253.03,494.53 254.05,494.53 254.05,495.59 255.07,495.59 255.07,497.68 256.09,497.68 256.09,498.9 257.12,498.9 257.12,500.26 258.14,500.26 258.14,496.64 259.16,496.64 259.16,493.69 260.18,493.69 260.18,493.83 261.2,493.83 261.2,494.89 262.22,494.89 262.22,494.63 263.25,494.63 263.25,494.46 264.27,494.46 264.27,493.48 265.29,493.48 265.29,492.99 266.31,492.99 266.31,493.73 267.33,493.73 267.33,496.24 267.33,494.29 268.36,494.29 268.36,494.87 269.38,494.87 269.38,494.55 270.4,494.55 270.4,493.62 271.42,493.62 271.42,493.76 272.44,493.76 272.44,492.95 273.47,492.95 273.47,492.98 274.49,492.98 274.49,492.74 275.51,492.74 275.51,493.12 276.53,493.12 276.53,493.74 277.55,493.74 277.55,493.84 278.57,493.84 278.57,493.92 279.6,493.92 279.6,494.8 280.62,494.8 280.62,495.04 281.64,495.04 281.64,496.11 282.66,496.11 282.66,496.92 283.68,496.92 283.68,499.34 284.71,499.34 284.71,498.32 285.73,498.32 285.73,496.93 286.75,496.93 286.75,497.79 286.75,496.44 287.77,496.44 287.77,495.99 288.79,495.99 288.79,496.06 289.82,496.06 289.82,493.94 290.84,493.94 290.84,491.89 291.86,491.89 291.86,496.39 291.86,494.93 292.88,494.93 292.88,498.1 294.52,498.1 294.52,501.6 295.95,501.6 295.95,496.07 296.97,496.07 296.97,495.01 297.99,495.01 297.99,495.39 297.99,493.7 299.01,493.7 299.01,496.06 299.01,494.5 300.03,494.5 300.03,494.37 300.03,495.58 301.06,495.58 301.06,495.74 302.08,495.74 302.08,494.81 303.1,494.81 303.1,494.06 304.12,494.06 304.12,493.58 305.14,493.58 305.14,492.47 306.16,492.47 306.16,493.17 307.19,493.17 307.19,493.07 308.21,493.07 308.21,493.93 309.23,493.93 309.23,493.56 310.25,493.56 310.25,494.35 311.27,494.35 311.27,494.52 312.3,494.52 312.3,495.07 313.32,495.07 313.32,495.03 314.34,495.03 314.34,495.43 315.36,495.43 315.36,495.53 316.38,495.53 316.38,495.68 317.41,495.68 317.41,495.09 318.43,495.09 318.43,496.03 318.43,494.6 319.45,494.6 319.45,494.78 320.47,494.78 320.47,493.72 321.9,493.72 321.9,498.32 323.13,498.32 323.13,503.68 324.56,503.68 324.56,510.52 325.99,510.52 325.99,516.6 327.22,516.6 327.22,521.54 328.65,521.54 328.65,525.42 330.08,525.42 330.08,527.44 331.71,527.44 331.71,524.79 332.73,524.79 332.73,525.01 333.76,526.12" fill="none" stroke="#111" stroke-width="0.95" stroke-linejoin="round"/>
<polyline points="393.94,522.23 396.39,522.23 396.39,523.63 398.44,523.63 398.44,520.42 398.44,521.75 400.48,521.75 400.48,523.07 400.48,524.21 402.52,524.21 402.52,523.1 402.52,522.19 403.55,522.19 403.55,521.59 404.57,521.59 404.57,516.76 406.61,516.76 406.61,503.68 408.66,503.68 408.66,497.48 408.66,496.22 410.7,496.22 410.7,492.19 412.74,492.19 412.74,489.52 414.79,489.52 414.79,490.75 416.83,490.75 416.83,489.39 418.87,489.39 418.87,490.03 420.92,490.03 420.92,490.39 420.92,489.17 422.96,489.17 422.96,489.59 425.01,489.59 425.01,489.41 427.05,489.41 427.05,488.96 427.05,489.9 429.09,489.9 429.09,490.02 431.14,490.02 431.14,489.39 431.14,490.55 433.18,490.55 433.18,491.42 435.22,491.42 435.22,490.09 437.27,490.09 437.27,489.62 439.31,489.62 439.31,490.27 441.36,490.27 441.36,490.52 443.4,490.52 443.4,493.41 443.4,492.12 445.44,492.12 445.44,490.05 447.49,490.05 447.49,489.64 449.53,489.64 449.53,490.48 451.57,490.48 451.57,491.86 451.57,490.73 453.62,490.73 453.62,490.91 455.66,490.91 455.66,490.89 455.66,489.93 457.71,489.93 457.71,488.83 459.75,488.83 459.75,488.09 461.79,488.09 461.79,487.5 463.84,487.5 463.84,485.97 463.84,487.31 465.88,487.31 465.88,487.4 467.41,487.4 467.41,488.3 468.95,488.3 468.95,488.9 470.48,488.9 470.48,489.53 472.01,489.53 472.01,490.68 472.01,489.77 474.06,489.77 474.06,487.99 474.06,489.36 476.1,489.36 476.1,489.35 478.14,489.35 478.14,489.33 480.19,489.33 480.19,489.84 482.23,489.84 482.23,489.98 484.27,489.98 484.27,488.44 484.27,489.49 484.89,489.49 484.89,480.78 484.89,481.76 485.7,481.76 485.7,471.52 486.32,471.52 486.32,516.09 487.34,506.09 488.36,488.72 489.38,518.36 490.41,520.4 491.43,522.44 492.04,503.03 492.86,532.66 494.49,529.6 496.54,527.55 498.58,529.6" fill="none" stroke="#111" stroke-width="1.0" stroke-linejoin="round"/>
<rect x="492" y="539.4" width="0.9" height="0.9" fill="#666"/>
<text x="39.8" y="471.3" font-size="10.6" fill="#111" stroke="#111" stroke-width="0.1">KCl</text>
<polygon points="47,473.4 50.6,473.4 50.6,477.66 52.9,477.66 48.8,481.6 44.7,477.66 47,477.66" fill="#111"/>
<text x="127.1" y="471.3" font-size="10.6" fill="#3f8fd2" stroke="#3f8fd2" stroke-width="0.1">Wash</text>
<polygon points="140.2,473.4 143.8,473.4 143.8,477.66 146.1,477.66 142,481.6 137.9,477.66 140.2,477.66" fill="#3f8fd2"/>
<text x="210.7" y="472.4" font-size="10.6" fill="#111" stroke="#111" stroke-width="0.1">KCl</text>
<polygon points="219.1,474.5 222.7,474.5 222.7,478.76 225,478.76 220.9,482.7 216.8,478.76 219.1,478.76" fill="#111"/>
<text x="306.2" y="472.4" font-size="10.6" fill="#3f8fd2" stroke="#3f8fd2" stroke-width="0.1">Wash</text>
<polygon points="319.3,474.5 322.9,474.5 322.9,478.76 325.2,478.76 321.1,482.7 317,478.76 319.3,478.76" fill="#3f8fd2"/>
<text x="393.9" y="472.4" font-size="10.6" fill="#111" stroke="#111" stroke-width="0.1">KCl</text>
<polygon points="401.1,474.5 404.7,474.5 404.7,478.76 407,478.76 402.9,482.7 398.8,478.76 401.1,478.76" fill="#111"/>
<text x="466.9" y="472.4" font-size="10.6" fill="#3f8fd2" stroke="#3f8fd2" stroke-width="0.1">Wash</text>
<polygon points="481.5,474.5 485.1,474.5 485.1,478.76 487.4,478.76 483.3,482.7 479.2,478.76 481.5,478.76" fill="#3f8fd2"/>
<polyline points="37.61,657.33 38.19,657.33 38.19,660.26 38.43,660.26 38.43,657.33 40.53,657.33 40.53,657.68 41.71,657.68 41.71,656.74 42.88,656.74 42.88,657.92 45.22,657.92 45.22,657.68 45.8,657.68 45.8,660.26 46.39,660.26 46.39,657.33 47.56,657.33 47.56,654.99 49.31,654.99 49.31,653.82 51.07,653.82 51.07,654.17 52.24,654.17 52.24,654.99 53.41,654.99 53.41,655.34 54.58,655.34 54.58,657.33 55.17,657.33 55.17,655.57 56.92,655.57 56.92,654.99 58.09,654.99 58.09,652.06 59.26,652.06 59.26,650.66 62.78,650.66 62.78,651.48 67.46,651.48 67.46,650.66 68.63,650.66 68.63,648.31 69.21,648.31 69.21,650.89 70.68,650.89 70.68,652.12 70.98,650.89 72.14,650.89 72.14,651.48 74.48,651.48 74.48,651.83 77.99,651.83 77.99,651.12 79.16,651.12 79.16,649.13 81.5,649.13 81.5,648.55 83.85,648.55 83.85,647.38 84.43,647.38 84.43,645.62 86.77,645.62 86.77,645.27 87.94,645.27 87.94,647.61 89.7,647.61 89.7,646.48 90,647.61 91.45,647.61 91.45,647.96 92.04,647.96 92.04,649.95 92.62,649.95 92.62,647.96 93.99,647.96 93.99,649.5 94.29,647.96 95.36,647.96 95.36,649.19 95.66,647.96 96.72,647.96 96.72,647.38 97.89,647.38 97.89,645.97 95,645.97 95,645.97 97.93,645.97 97.93,647.38 99.69,647.38 99.69,646.21 100.27,646.21 100.27,643.86 101.45,643.86 101.45,641.52 102.62,641.52 102.62,638.59 103.79,638.59 103.79,638.01 104.96,638.01 104.96,636.84 106.13,636.84 106.13,636.25 107.31,636.25 107.31,635.08 108.48,635.08 108.48,634.5 109.65,634.5 109.65,633.91 110.82,633.91 110.82,633.33 111.99,633.33 111.99,630.98 112.58,630.98 112.58,630.75 113.16,630.75 113.16,632.74 113.75,632.74 113.75,634.5 115.51,634.5 115.51,633.56 119.46,633.56 119.46,632.22 119.76,633.56 120.78,633.56 120.78,633.56 121.37,633.56 121.37,630.98 126.64,630.98 126.64,630.75 127.23,630.75 127.23,632.74 127.81,632.74 127.81,630.4 131.33,630.4 131.33,629.81 132.5,629.81 132.5,628.64 137.19,628.64 137.19,628.64 137.78,628.64 137.78,630.4 140.12,630.4 140.12,630.98 140.7,630.98 140.7,633.91 141.29,633.91 141.29,631.92 143.05,631.92 143.05,633.33 147.15,633.33 147.15,633.33 147.74,633.33 147.74,625.13 148.91,625.13 148.91,621.38 150.08,621.38 150.08,623.96 152.42,625.71 153.6,626.89 155.94,628.64 156.53,632.15 157.11,660.26 157.7,594.45 157.93,664.94 158.87,660.26 160.63,656.74 162.39,656.74" fill="none" stroke="#111" stroke-width="1.05" stroke-linejoin="round"/>
<line x1="42.3" y1="630.7" x2="77.4" y2="630.7" stroke="#29a3dc" stroke-width="0.9"/>
<text x="59.8" y="627.2" font-size="8.3" fill="#29a3dc" text-anchor="middle">nM</text>
<line x1="85.6" y1="609.3" x2="143" y2="609.3" stroke="#29a3dc" stroke-width="0.9"/>
<text x="114.3" y="604.6" font-size="8.3" fill="#29a3dc" text-anchor="middle">μM</text>
<text x="45.8" y="643.3" font-size="8.3" fill="#29a3dc" text-anchor="middle">1</text>
<polygon points="43.56,646.4 45.64,646.4 45.64,648.51 47.2,648.51 44.6,650.9 42,648.51 43.56,648.51" fill="#29a3dc"/>
<text x="56" y="641.5" font-size="8.3" fill="#29a3dc" text-anchor="middle">3</text>
<polygon points="53.56,645 55.64,645 55.64,647.12 57.2,647.12 54.6,649.5 52,647.12 53.56,647.12" fill="#29a3dc"/>
<text x="65.7" y="640.6" font-size="8.3" fill="#29a3dc" text-anchor="middle">10</text>
<polygon points="64.66,643.3 66.74,643.3 66.74,645.32 68.3,645.32 65.7,647.6 63.1,645.32 64.66,645.32" fill="#29a3dc"/>
<text x="75.9" y="638.2" font-size="8.3" fill="#29a3dc" text-anchor="middle">30</text>
<polygon points="73.66,640.4 75.74,640.4 75.74,642.47 77.3,642.47 74.7,644.8 72.1,642.47 73.66,642.47" fill="#29a3dc"/>
<text x="84.4" y="630.4" font-size="8.3" fill="#29a3dc" text-anchor="middle">0.1</text>
<polygon points="84.56,633.3 86.64,633.3 86.64,635.41 88.2,635.41 85.6,637.8 83,635.41 84.56,635.41" fill="#29a3dc"/>
<text x="95" y="627.7" font-size="8.3" fill="#29a3dc" text-anchor="middle">0.3</text>
<polygon points="95.06,630.4 97.14,630.4 97.14,632.42 98.7,632.42 96.1,634.7 93.5,632.42 95.06,632.42" fill="#29a3dc"/>
<text x="112.8" y="621.6" font-size="8.3" fill="#29a3dc" text-anchor="middle">1</text>
<polygon points="112.46,624.5 114.54,624.5 114.54,626.57 116.1,626.57 113.5,628.9 110.9,626.57 112.46,626.57" fill="#29a3dc"/>
<text x="129.8" y="618.7" font-size="8.3" fill="#29a3dc" text-anchor="middle">3</text>
<polygon points="128.76,622.2 130.84,622.2 130.84,624.22 132.4,624.22 129.8,626.5 127.2,624.22 128.76,624.22" fill="#29a3dc"/>
<text x="142.8" y="617.9" font-size="8.3" fill="#29a3dc" text-anchor="middle">10</text>
<polygon points="141.96,622.2 144.04,622.2 144.04,624.22 145.6,624.22 143,626.5 140.4,624.22 141.96,624.22" fill="#29a3dc"/>
<text x="145.6" y="604.6" font-size="8.3" fill="#29a3dc">Wash</text>
<polygon points="153.96,610.5 156.04,610.5 156.04,612.52 157.6,612.52 155,614.8 152.4,612.52 153.96,612.52" fill="#29a3dc"/>
<polygon points="102.9,648.3 105.65,646.2 105.65,647.3 108.1,647.3 108.1,649.3 105.65,649.3 105.65,650.4" fill="#e8262d"/>
<text x="109.1" y="651.8" font-size="10.6" fill="#e8262d" stroke="#e8262d" stroke-width="0.1">EC<tspan font-size="8.4" dy="0.9" dx="0">50</tspan></text>
<text x="103.8" y="663.8" font-size="8.7" fill="#e8262d" textLength="53.3" lengthAdjust="spacingAndGlyphs">171.40 ± 20.81</text>
<polyline points="219.05,655.34 221.39,655.34 221.39,655.34 221.97,655.34 221.97,657.33 222.56,657.33 222.56,655.57 224.9,655.57 224.9,656.74 227.24,656.74 227.24,657.33 228.41,657.33 228.41,660.02 229,660.02 229,656.74 230.17,656.74 230.17,656.74 233.09,656.74 233.09,655.57 235.2,655.57 235.2,655.57 235.67,655.57 235.67,657.92 236.37,657.92 236.37,654.99 237.78,654.99 237.78,653.82 238.95,653.82 238.95,650.66 240.7,650.66 240.7,650.3 242.46,650.3 242.46,653.82 243.63,653.82 243.63,655.34 246.55,655.34 246.55,655.34 247.73,655.34 247.73,653.23 252.99,653.23 252.99,653.23 253.58,653.23 253.58,650.66 256.7,650.66 256.7,649.18 257,650.66 258.26,650.66 258.26,650.3 258.85,650.3 258.85,647.96 259.43,647.96 259.43,650.3 263.38,650.3 263.38,651.82 263.68,650.3 264.7,650.3 264.7,650.3 265.28,650.3 265.28,645.62 265.87,645.62 265.87,643.28 266.8,643.28 266.8,643.28 267.27,643.28 267.27,645.27 270.55,645.27 270.55,645.27 270,645.27 270,645.27 271.37,645.27 271.37,643.7 271.67,645.27 278.2,645.27 278.2,645.04 278.79,645.04 278.79,643.28 280.16,643.28 280.16,644.78 280.46,643.28 282.89,643.28 282.89,643.28 283.48,643.28 283.48,644.1 285.82,644.1 285.82,644.1 286.41,644.1 286.41,642.69 288.16,642.69 288.16,642.11 289.34,642.11 289.34,640.59 291.68,640.59 291.68,640.35 292.27,640.35 292.27,638.95 294.02,638.95 294.02,638.24 294.61,638.24 294.61,638.01 296.37,638.01 296.37,638.01 296.95,638.01 296.95,636.25 299.3,636.25 299.3,635.9 299.88,635.9 299.88,634.26 301.06,634.26 301.06,633.09 303.99,633.09 303.99,633.09 304.57,633.09 304.57,630.98 305.74,630.98 305.74,630.4 306.33,630.4 306.33,628.64 308.67,628.64 308.67,628.64 309.26,628.64 309.26,630.4 311.02,630.4 311.02,628.64 312.19,628.64 312.19,630.4 318.05,630.4 318.05,630.4 318.63,630.4 318.63,628.64 319.81,628.64 319.81,628.64 320.39,628.64 320.39,630.4 325.08,630.4 325.08,630.4 325.67,628.64 326.84,628.64 327.42,636.84 328.01,643.86 328.24,594.45 328.48,667.28 329.18,655.57 330.35,660.26 332.11,666.11" fill="none" stroke="#111" stroke-width="1.05" stroke-linejoin="round"/>
<rect x="328.2" y="673.5" width="1" height="1.2" fill="#333"/><rect x="331.2" y="673.3" width="0.8" height="0.8" fill="#555"/>
<line x1="215" y1="629" x2="253.2" y2="629" stroke="#29a3dc" stroke-width="0.9"/>
<text x="238.4" y="626.3" font-size="8.3" fill="#29a3dc" text-anchor="middle">nM</text>
<line x1="254.2" y1="609" x2="317.8" y2="609" stroke="#29a3dc" stroke-width="0.9"/>
<text x="287.6" y="605.8" font-size="8.3" fill="#29a3dc" text-anchor="middle">μM</text>
<text x="217.9" y="642.1" font-size="8.3" fill="#29a3dc" text-anchor="middle">1</text>
<polygon points="216.86,645.6 218.94,645.6 218.94,647.67 220.5,647.67 217.9,650 215.3,647.67 216.86,647.67" fill="#29a3dc"/>
<text x="229" y="642.1" font-size="8.3" fill="#29a3dc" text-anchor="middle">3</text>
<polygon points="228.26,645.6 230.34,645.6 230.34,647.67 231.9,647.67 229.3,650 226.7,647.67 228.26,647.67" fill="#29a3dc"/>
<text x="239" y="640.6" font-size="8.3" fill="#29a3dc" text-anchor="middle">10</text>
<polygon points="239.06,643.3 241.14,643.3 241.14,645.32 242.7,645.32 240.1,647.6 237.5,645.32 239.06,645.32" fill="#29a3dc"/>
<text x="251.8" y="638.2" font-size="8.3" fill="#29a3dc" text-anchor="middle">30</text>
<polygon points="251.06,640.9 253.14,640.9 253.14,642.97 254.7,642.97 252.1,645.3 249.5,642.97 251.06,642.97" fill="#29a3dc"/>
<text x="259.1" y="628.9" font-size="8.3" fill="#29a3dc" text-anchor="middle">0.1</text>
<polygon points="259.16,632.4 261.24,632.4 261.24,634.47 262.8,634.47 260.2,636.8 257.6,634.47 259.16,634.47" fill="#29a3dc"/>
<text x="272.5" y="627.5" font-size="8.3" fill="#29a3dc" text-anchor="middle">0.3</text>
<polygon points="271.26,630.4 273.34,630.4 273.34,632.42 274.9,632.42 272.3,634.7 269.7,632.42 271.26,632.42" fill="#29a3dc"/>
<text x="283.8" y="624.5" font-size="8.3" fill="#29a3dc" text-anchor="middle">1</text>
<polygon points="282.76,627.5 284.84,627.5 284.84,629.57 286.4,629.57 283.8,631.9 281.2,629.57 282.76,629.57" fill="#29a3dc"/>
<text x="297.9" y="621.9" font-size="8.3" fill="#29a3dc" text-anchor="middle">3</text>
<polygon points="296.86,625.1 298.94,625.1 298.94,627.22 300.5,627.22 297.9,629.6 295.3,627.22 296.86,627.22" fill="#29a3dc"/>
<text x="313.6" y="618.1" font-size="8.3" fill="#29a3dc" text-anchor="middle">10</text>
<polygon points="312.56,622.2 314.64,622.2 314.64,624.22 316.2,624.22 313.6,626.5 311,624.22 312.56,624.22" fill="#29a3dc"/>
<text x="317.5" y="607.6" font-size="8.3" fill="#29a3dc">Wash</text>
<polygon points="326.16,613.4 328.24,613.4 328.24,615.61 329.8,615.61 327.2,618.1 324.6,615.61 326.16,615.61" fill="#29a3dc"/>
<polygon points="269.7,648.3 272.25,646.2 272.25,647.3 274.5,647.3 274.5,649.3 272.25,649.3 272.25,650.4" fill="#e8262d"/>
<text x="274.7" y="651.5" font-size="10.6" fill="#e8262d" stroke="#e8262d" stroke-width="0.1">EC<tspan font-size="8.4" dy="0.9" dx="1.2">50</tspan></text>
<text x="270" y="663.2" font-size="8.7" fill="#e8262d" textLength="52.5" lengthAdjust="spacingAndGlyphs">113.40 ± 21.12</text>
<polyline points="385,642.72 386.35,645.23 387.7,646.53 389.05,643.05 390.4,643.3 391.75,645.42 391.95,648.22 392.15,645.42 393.1,645.89 393.3,644.37 393.5,645.89 394.45,643.39 394.65,645.13 394.85,643.39 395.8,643.03 396,644.72 396.2,643.03 397.15,643.8 398.5,645.58 398.7,642.77 398.9,645.58 399.85,643.52 401.2,642.57 402.55,644.17 403.9,646.44 405.25,644.61 405.45,646.73 405.65,644.61 406.6,643.28 406.8,645.24 407,643.28 407.95,644.89 408.15,646.48 408.35,644.89 409.3,645.84 409.5,647.62 409.7,645.84 410.65,643.85 410.85,646.81 411.05,643.85 412,641.64 413.35,645.32 413.55,647.37 413.75,645.32 414.7,646.24 414.9,643.68 415.1,646.24 416.05,644.12 417.4,641.81 417.6,643.83 417.8,641.81 418.75,644.44 420.1,646.6 420.3,649.39 420.5,646.6 421.45,643.07 422.8,641.76 423,644.64 423.2,641.76 424.15,644.41 425.5,646.18 425.7,648.14 425.9,646.18 426.85,644.44 428.2,642.9 428.4,644.64 428.6,642.9 429.55,643.89 430.9,646.16 432.25,643.43 433.6,643.09 434.95,644.56 435.15,641.86 435.35,644.56 436.3,645.8 436.5,643.36 436.7,645.8 437.65,644.42 437.85,646.48 438.05,644.42 439,641.71 440.35,643.97 441.7,645.89 441.9,648.83 442.1,645.89 443.05,643.48 443.25,645.41 443.45,643.48 444.4,641.23 444.6,643.96 444.8,641.23 445.75,643.32 445.95,646.12 446.15,643.32 447.1,643.75 448.45,641.81 449.8,640.06 450,642.6 450.2,640.06 451.15,642.21 452.5,642.73 453.85,640.04 451.71,637.71 451.71,639.82 452.88,639.82 452.88,638.23 454.06,638.23 454.06,637.76 455.23,637.76 455.23,641.46 455.23,639 456.4,639 456.4,639.51 457.57,639.51 457.57,632.76 458.74,632.76 458.74,631.58 459.91,631.58 459.91,630.64 461.08,630.64 461.08,631.69 462.25,631.69 462.25,630.26 463.43,630.26 463.43,629.93 464.3,629.93 464.3,630.34 465.18,630.34 465.18,630.2 466.06,630.2 466.06,632.22 466.06,630.41 466.94,630.41 466.94,630.79 467.82,630.79 467.82,633.07 467.82,630.9 468.7,630.9 468.7,628.62 468.7,630.54 469.58,630.54 469.58,635.46 469.58,633.56 470.45,633.56 470.45,639.33 470.45,637.43 471.33,637.43 471.33,631.49 472.21,631.49 472.21,627.56 473.38,627.56 473.38,627.71 474.55,627.71 474.55,628.99 474.55,627.13 475.43,627.13 475.43,628.72 476.31,628.72 476.31,631 477.48,631 477.48,635.1 478.36,635.1 478.36,633.05 479.24,633.05 479.24,631.69 480.41,631.69 480.41,624.92 481.29,624.92 481.29,621.61 481.29,623.17 482.17,623.17 482.17,621.1 483.05,621.1 483.05,625.76 483.92,625.76 483.92,626.34 483.92,628.67 485.1,628.67 485.1,619.86 485.97,619.86 485.97,619.17 486.85,619.17 486.85,618.14 488.02,618.14 488.02,615.86 489.19,615.86 489.19,618.07 490.37,618.07 490.37,621.82 491.24,621.82 491.24,619.09 492.12,619.09 492.12,615.91 493,615.91 493,612.16 493.88,612.16 493.88,610.09 495.05,610.09 495.05,609.15 496.22,609.15 496.22,607.65 496.22,609.23 497.39,609.23 497.39,609.18 498.57,609.18 498.57,610.6 499.44,610.6 499.44,608.4 499.44,610.18 500.32,610.18 500.32,609.93 500.91,609.93 500.91,612.42 501.49,612.42 501.49,609.65 502.08,611.66 502.66,642.69 503.84,662.6" fill="none" stroke="#111" stroke-width="1.55" stroke-linejoin="round"/>
<line x1="396.1" y1="616.9" x2="434.8" y2="616.9" stroke="#29a3dc" stroke-width="0.9"/>
<text x="417.6" y="613.4" font-size="8.3" fill="#29a3dc" text-anchor="middle">nM</text>
<line x1="440.6" y1="602.3" x2="491.5" y2="602.3" stroke="#29a3dc" stroke-width="0.9"/>
<text x="468.1" y="601.1" font-size="8.3" fill="#29a3dc" text-anchor="middle">μM</text>
<text x="398.8" y="630" font-size="8.3" fill="#29a3dc" text-anchor="middle">1</text>
<polygon points="397.76,634.3 399.84,634.3 399.84,636.32 401.4,636.32 398.8,638.6 396.2,636.32 397.76,636.32" fill="#29a3dc"/>
<text x="411" y="628.4" font-size="8.3" fill="#29a3dc" text-anchor="middle">3</text>
<polygon points="410.26,632.2 412.34,632.2 412.34,634.27 413.9,634.27 411.3,636.6 408.7,634.27 410.26,634.27" fill="#29a3dc"/>
<text x="420.1" y="628.4" font-size="8.3" fill="#29a3dc" text-anchor="middle">10</text>
<polygon points="420.46,632.2 422.54,632.2 422.54,634.27 424.1,634.27 421.5,636.6 418.9,634.27 420.46,634.27" fill="#29a3dc"/>
<text x="430.4" y="625.4" font-size="8.3" fill="#29a3dc" text-anchor="middle">30</text>
<polygon points="428.66,629.2 430.74,629.2 430.74,631.27 432.3,631.27 429.7,633.6 427.1,631.27 428.66,631.27" fill="#29a3dc"/>
<text x="441.8" y="621.4" font-size="8.3" fill="#29a3dc" text-anchor="middle">0.1</text>
<polygon points="439.26,627.2 441.34,627.2 441.34,629.27 442.9,629.27 440.3,631.6 437.7,629.27 439.26,629.27" fill="#29a3dc"/>
<text x="456.4" y="619" font-size="8.3" fill="#29a3dc" text-anchor="middle">0.3</text>
<polygon points="455.36,621.9 457.44,621.9 457.44,623.97 459,623.97 456.4,626.3 453.8,623.97 455.36,623.97" fill="#29a3dc"/>
<text x="468.7" y="616.3" font-size="8.3" fill="#29a3dc" text-anchor="middle">1</text>
<polygon points="467.66,619.3 469.74,619.3 469.74,621.37 471.3,621.37 468.7,623.7 466.1,621.37 467.66,621.37" fill="#29a3dc"/>
<text x="478.1" y="613.4" font-size="8.3" fill="#29a3dc" text-anchor="middle">3</text>
<polygon points="477.06,616 479.14,616 479.14,618.07 480.7,618.07 478.1,620.4 475.5,618.07 477.06,618.07" fill="#29a3dc"/>
<text x="489.8" y="608.7" font-size="8.3" fill="#29a3dc" text-anchor="middle">10</text>
<polygon points="488.76,610.1 490.84,610.1 490.84,612.22 492.4,612.22 489.8,614.6 487.2,612.22 488.76,612.22" fill="#29a3dc"/>
<text x="489.8" y="600.8" font-size="8.3" fill="#29a3dc">Wash</text>
<polygon points="497.76,603.1 499.84,603.1 499.84,605.07 501.4,605.07 498.8,607.3 496.2,605.07 497.76,605.07" fill="#29a3dc"/>
<polygon points="456.1,640.6 458.45,638.5 458.45,639.6 460.5,639.6 460.5,641.6 458.45,641.6 458.45,642.7" fill="#e8262d"/>
<text x="463.4" y="644.4" font-size="10.6" fill="#e8262d" stroke="#e8262d" stroke-width="0.1">EC<tspan font-size="8.4" dy="0.9" dx="1.6">50</tspan></text>
<text x="455.2" y="654.6" font-size="8.7" fill="#e8262d" textLength="52.7" lengthAdjust="spacingAndGlyphs">113.60 ± 21.64</text>
<polyline points="34.1,800.57 35.85,801.51 39.36,800.81 47.56,800.57 51.07,799.64 59.26,799.4 65.12,799.64 70.97,798.82 79.16,798.47 83.85,798 88.53,797.06 93.21,795.66 95.55,794.95 97.31,794.13 99.06,792.96 95,795.89 98.52,794.13 100.86,793.55 102.62,791.79 104.38,788.28 106.13,784.18 107.31,781.25 109.06,778.91 111.41,777.74 113.75,776.57 116.09,775.4 118.44,774.23 121.95,773.06 125.47,772.24 128.99,771.53 131.33,771.3 133.67,771.53 135.43,772.47 137.19,774.81 139.53,778.91 141.88,783.01 144.22,788.86 146.56,793.55 148.91,798.23 151.25,801.16 153.6,802.33" fill="none" stroke="#111" stroke-width="1.3" stroke-linejoin="round"/>
<line x1="133.4" y1="739.7" x2="133.4" y2="806.4" stroke="#222" stroke-width="0.8"/>
<line x1="140.5" y1="739.7" x2="140.5" y2="813.2" stroke="#222" stroke-width="0.8"/>
<line x1="143" y1="739.7" x2="143" y2="813.2" stroke="#222" stroke-width="0.8"/>
<line x1="46.2" y1="763.3" x2="94.6" y2="763.3" stroke="#29a3dc" stroke-width="0.9"/>
<text x="70.4" y="760.2" font-size="8.3" fill="#29a3dc" text-anchor="middle">nM</text>
<line x1="106.1" y1="751.6" x2="129" y2="751.6" stroke="#29a3dc" stroke-width="0.9"/>
<text x="117.9" y="746.9" font-size="8.3" fill="#29a3dc" text-anchor="middle">μM</text>
<text x="46.2" y="778.6" font-size="8.3" fill="#29a3dc" text-anchor="middle">1</text>
<polygon points="45.16,782.1 47.24,782.1 47.24,784.17 48.8,784.17 46.2,786.5 43.6,784.17 45.16,784.17" fill="#29a3dc"/>
<text x="57.5" y="776.6" font-size="8.3" fill="#29a3dc" text-anchor="middle">3</text>
<polygon points="56.46,780.1 58.54,780.1 58.54,782.12 60.1,782.12 57.5,784.4 54.9,782.12 56.46,782.12" fill="#29a3dc"/>
<text x="75.9" y="778.6" font-size="8.3" fill="#29a3dc" text-anchor="middle">10</text>
<polygon points="74.86,779.7 76.94,779.7 76.94,781.72 78.5,781.72 75.9,784 73.3,781.72 74.86,781.72" fill="#29a3dc"/>
<text x="92.3" y="774.6" font-size="8.3" fill="#29a3dc" text-anchor="middle">30</text>
<polygon points="91.56,777.2 93.64,777.2 93.64,779.27 95.2,779.27 92.6,781.6 90,779.27 91.56,779.27" fill="#29a3dc"/>
<text x="108.1" y="769.9" font-size="8.3" fill="#29a3dc" text-anchor="middle">0.1</text>
<polygon points="107.46,773.6 109.54,773.6 109.54,775.53 111.1,775.53 108.5,777.7 105.9,775.53 107.46,775.53" fill="#29a3dc"/>
<text x="117.5" y="763.1" font-size="8.3" fill="#29a3dc" text-anchor="middle">0.3</text>
<polygon points="117.96,767.2 120.04,767.2 120.04,769.22 121.6,769.22 119,771.5 116.4,769.22 117.96,769.22" fill="#29a3dc"/>
<text x="128.4" y="760.5" font-size="8.3" fill="#29a3dc" text-anchor="middle">1</text>
<polygon points="127.36,764.3 129.44,764.3 129.44,766.23 131,766.23 128.4,768.4 125.8,766.23 127.36,766.23" fill="#29a3dc"/>
<text x="129.2" y="749.3" font-size="8.3" fill="#29a3dc">Wash</text>
<polygon points="139.46,757.8 141.54,757.8 141.54,759.73 143.1,759.73 140.5,761.9 137.9,759.73 139.46,759.73" fill="#29a3dc"/>
<polygon points="107,786.3 109.65,784.2 109.65,785.3 112,785.3 112,787.3 109.65,787.3 109.65,788.4" fill="#e8262d"/>
<text x="113.8" y="789.4" font-size="10.6" fill="#e8262d" stroke="#e8262d" stroke-width="0.1">EC<tspan font-size="8.4" dy="0.9" dx="0">50</tspan></text>
<text x="106.7" y="801.5" font-size="8.7" fill="#e8262d" textLength="50.2" lengthAdjust="spacingAndGlyphs">83.06 ± 17.49</text>
<polyline points="210.27,796.17 210.27,795.31 211.29,795.31 211.29,795.45 212.32,795.45 212.32,795.91 213.34,795.91 213.34,795.75 214.36,795.75 214.36,794.74 214.36,795.8 215.53,795.8 215.53,795.88 216.71,795.88 216.71,794.88 216.71,796.06 217.88,796.06 217.88,795.78 219.05,795.78 219.05,795.1 220.22,795.1 220.22,795.28 221.39,795.28 221.39,795.29 222.56,795.29 222.56,793.94 222.56,795.15 223.73,795.15 223.73,794.85 224.9,794.85 224.9,795.42 226.07,795.42 226.07,795.09 227.24,795.09 227.24,795.91 228.41,795.91 228.41,795.69 229.58,795.69 229.58,794.32 229.58,795.35 230.75,795.35 230.75,794.32 231.92,794.32 231.92,794.45 233.09,794.45 233.09,794.41 234.26,794.41 234.26,794.02 235.43,794.02 235.43,793.85 236.6,793.85 236.6,794.32 237.78,794.32 237.78,794.26 238.95,794.26 238.95,792.47 238.95,793.73 240.12,793.73 240.12,793.85 241.29,793.85 241.29,793.42 242.46,793.42 242.46,793.91 243.63,793.91 243.63,794.78 243.63,793.89 244.8,793.89 244.8,793.24 245.97,793.24 245.97,792.84 247.14,792.84 247.14,792.8 248.31,792.8 248.31,792.06 249.48,792.06 249.48,789.74 249.48,790.76 250.65,790.76 250.65,791.67 251.82,791.67 251.82,792.22 252.99,792.22 252.99,791.99 254.16,791.99 254.16,789.92 254.16,791.12 255.33,791.12 255.33,791.36 256.5,791.36 256.5,792.54 256.5,791.36 257.67,791.36 257.67,791.31 258.85,791.31 258.85,790.51 260.02,790.51 260.02,789.74 260.02,790.59 261.19,790.59 261.19,790.67 262.36,790.67 262.36,790.92 263.53,790.92 263.53,790.82 264.7,790.82 264.7,790.88 265.87,790.88 265.87,790.46 267.04,790.46 267.04,790.24 268.21,790.24 268.21,790.04 269.38,790.04 269.38,789.94 270.55,789.94 270.55,790.14 272.31,790.97 270,790.62 272.34,792.38 275.27,792.96 277.03,792.38 278.79,789.45 280.55,783.01 281.72,782.42 284.06,784.77 287.58,785.94 290.51,786.52 291.68,784.18 293.44,779.5 295.2,776.57 298.13,778.91 301.64,779.5 305.16,778.91 306.33,783.01 307.5,779.5 308.67,775.4 311.02,775.4 313.36,776.57 315.7,778.91 317.46,783.01 318.05,786.52 318.4,806.43 318.99,764.27 319.46,806.43 319.92,749.05 320.39,790.04 320.98,763.1 321.56,785.35 323.32,784.77 323.91,792.96 324.26,768.37 324.61,784.18 325.08,761.35 325.43,785.35 327.42,785.35 329.77,791.21 332.11,800.57 333.28,808.19" fill="none" stroke="#111" stroke-width="1.2" stroke-linejoin="round"/>
<line x1="216.5" y1="770.7" x2="257.4" y2="770.7" stroke="#29a3dc" stroke-width="0.9"/>
<text x="240.4" y="767.8" font-size="8.3" fill="#29a3dc" text-anchor="middle">nM</text>
<line x1="271.1" y1="757.8" x2="305.7" y2="757.8" stroke="#29a3dc" stroke-width="0.9"/>
<text x="289.3" y="754.9" font-size="8.3" fill="#29a3dc" text-anchor="middle">μM</text>
<text x="216.7" y="783" font-size="8.3" fill="#29a3dc" text-anchor="middle">1</text>
<polygon points="215.66,786.5 217.74,786.5 217.74,788.62 219.3,788.62 216.7,791 214.1,788.62 215.66,788.62" fill="#29a3dc"/>
<text x="228.8" y="783" font-size="8.3" fill="#29a3dc" text-anchor="middle">3</text>
<polygon points="227.76,786.5 229.84,786.5 229.84,788.62 231.4,788.62 228.8,791 226.2,788.62 227.76,788.62" fill="#29a3dc"/>
<text x="242.7" y="780.1" font-size="8.3" fill="#29a3dc" text-anchor="middle">10</text>
<polygon points="241.66,784.8 243.74,784.8 243.74,786.82 245.3,786.82 242.7,789.1 240.1,786.82 241.66,786.82" fill="#29a3dc"/>
<text x="256.7" y="779.5" font-size="8.3" fill="#29a3dc" text-anchor="middle">30</text>
<polygon points="255.66,783.2 257.74,783.2 257.74,785.32 259.3,785.32 256.7,787.7 254.1,785.32 255.66,785.32" fill="#29a3dc"/>
<text x="272.5" y="773.6" font-size="8.3" fill="#29a3dc" text-anchor="middle">0.1</text>
<polygon points="273.46,775.4 275.54,775.4 275.54,777.42 277.1,777.42 274.5,779.7 271.9,777.42 273.46,777.42" fill="#29a3dc"/>
<text x="289.3" y="768.4" font-size="8.3" fill="#29a3dc" text-anchor="middle">0.3</text>
<polygon points="288.26,772.2 290.34,772.2 290.34,774.27 291.9,774.27 289.3,776.6 286.7,774.27 288.26,774.27" fill="#29a3dc"/>
<text x="305.2" y="764.3" font-size="8.3" fill="#29a3dc" text-anchor="middle">1</text>
<polygon points="304.36,767.2 306.44,767.2 306.44,769.22 308,769.22 305.4,771.5 302.8,769.22 304.36,769.22" fill="#29a3dc"/>
<text x="308.4" y="753.5" font-size="8.3" fill="#29a3dc">Wash</text>
<polygon points="316.76,759.8 318.84,759.8 318.84,761.91 320.4,761.91 317.8,764.3 315.2,761.91 316.76,761.91" fill="#29a3dc"/>
<circle cx="278" cy="791" r="1.3" fill="#e8262d"/>
<text x="282.7" y="793.5" font-size="10.6" fill="#e8262d" stroke="#e8262d" stroke-width="0.1">EC<tspan font-size="8.4" dy="0.9">50</tspan></text>
<text x="274.9" y="805.3" font-size="8.7" fill="#e8262d" textLength="44.9" lengthAdjust="spacingAndGlyphs">51.72 ± 7.48</text>
<polyline points="387.36,802.66 388.53,802.66 388.53,802.94 389.71,802.94 389.71,803.21 390.88,803.21 390.88,803.11 392.05,803.11 392.05,803.71 393.22,803.71 393.22,803.49 394.39,803.49 394.39,801.91 394.39,802.88 395.56,802.88 395.56,802.67 396.73,802.67 396.73,800.98 397.9,800.98 397.9,802.94 399.07,802.94 399.07,801.9 399.07,802.97 400.24,802.97 400.24,803.43 401.41,803.43 401.41,804.11 402.58,804.11 402.58,803.81 403.75,803.81 403.75,804.22 404.92,804.22 404.92,804.22 406.09,804.22 406.09,804.2 407.26,804.2 407.26,804.7 407.26,803.87 408.43,803.87 408.43,803.81 409.6,803.81 409.6,803.65 410.78,803.65 410.78,804.18 410.78,803.46 411.95,803.46 411.95,803.31 413.12,803.31 413.12,803.8 414.29,803.8 414.29,803.28 415.46,803.28 415.46,802.72 415.46,803.53 416.63,803.53 416.63,804.4 416.63,803.22 417.8,803.22 417.8,803.41 418.97,803.41 418.97,803.54 420.14,803.54 420.14,803.25 421.31,803.25 421.31,802.99 422.48,802.99 422.48,803.01 423.65,803.01 423.65,802.81 424.82,802.81 424.82,802.39 425.99,802.39 425.99,801.12 425.99,802.3 427.16,802.3 427.16,801.09 427.16,802.1 428.33,802.1 428.33,802.26 429.5,802.26 429.5,801.75 430.67,801.75 430.67,802 431.85,802 431.85,801.38 433.02,801.38 433.02,801.31 434.19,801.31 434.19,801.14 435.36,801.14 435.36,801.56 436.53,801.56 436.53,801.33 437.7,801.33 437.7,801.06 438.87,801.06 438.87,800.91 440.04,800.91 440.04,800.62 441.21,800.62 441.21,799.57 441.21,800.62 442.38,800.62 442.38,800.81 443.55,800.81 443.55,800.26 444.72,800.34 440,801.74 443.51,801.16 447.03,800.57 448.2,799.4 449.37,802.33 451.13,798.82 452.88,791.21 454.06,785.94 455.81,784.18 457.57,784.77 460.5,785.35 462.84,779.5 464.6,783.01 465.77,784.18 468.11,784.77 471.04,785.35 472.21,784.18 473.38,774.81 475.14,771.3 477.48,770.13 479.82,771.53 481,773.06 482.17,767.79 483.92,760.76 485.68,757.25 489.19,757.25 492.71,757.83 496.22,757.48 497.63,756.66 497.86,780.08 498.21,740.27 498.8,740.27 499.15,767.79 500.91,766.62 502.08,768.37 502.66,793.55 503.25,743.78 503.84,768.96 505.01,770.13 505.59,790.04" fill="none" stroke="#111" stroke-width="1.15" stroke-linejoin="round"/>
<line x1="404" y1="776" x2="448.8" y2="776" stroke="#29a3dc" stroke-width="0.9"/>
<text x="430.1" y="772.5" font-size="8.3" fill="#29a3dc" text-anchor="middle">nM</text>
<line x1="456.2" y1="752.3" x2="479.8" y2="752.3" stroke="#29a3dc" stroke-width="0.9"/>
<text x="468.1" y="748.5" font-size="8.3" fill="#29a3dc" text-anchor="middle">μM</text>
<text x="404" y="791.4" font-size="8.3" fill="#29a3dc" text-anchor="middle">1</text>
<polygon points="402.96,795.3 405.04,795.3 405.04,797.51 406.6,797.51 404,800 401.4,797.51 402.96,797.51" fill="#29a3dc"/>
<text x="416.4" y="789.5" font-size="8.3" fill="#29a3dc" text-anchor="middle">3</text>
<polygon points="415.36,794.1 417.44,794.1 417.44,796.31 419,796.31 416.4,798.8 413.8,796.31 415.36,796.31" fill="#29a3dc"/>
<text x="428.9" y="790" font-size="8.3" fill="#29a3dc" text-anchor="middle">10</text>
<polygon points="428.66,794.1 430.74,794.1 430.74,796.31 432.3,796.31 429.7,798.8 427.1,796.31 428.66,796.31" fill="#29a3dc"/>
<text x="447.3" y="785.9" font-size="8.3" fill="#29a3dc" text-anchor="middle">30</text>
<polygon points="446.56,791 448.64,791 448.64,793.02 450.2,793.02 447.6,795.3 445,793.02 446.56,793.02" fill="#29a3dc"/>
<text x="459" y="773.6" font-size="8.3" fill="#29a3dc" text-anchor="middle">0.1</text>
<polygon points="458.86,775.7 460.94,775.7 460.94,777.77 462.5,777.77 459.9,780.1 457.3,777.77 458.86,777.77" fill="#29a3dc"/>
<text x="470.7" y="769.5" font-size="8.3" fill="#29a3dc" text-anchor="middle">0.3</text>
<polygon points="469.16,773.4 471.24,773.4 471.24,775.42 472.8,775.42 470.2,777.7 467.6,775.42 469.16,775.42" fill="#29a3dc"/>
<text x="480.1" y="759" font-size="8.3" fill="#29a3dc" text-anchor="middle">1</text>
<polygon points="479.36,760.5 481.44,760.5 481.44,762.57 483,762.57 480.4,764.9 477.8,762.57 479.36,762.57" fill="#29a3dc"/>
<text x="485.1" y="748.1" font-size="8.3" fill="#29a3dc">Wash</text>
<polygon points="496.16,752 498.24,752 498.24,754.21 499.8,754.21 497.2,756.7 494.6,754.21 496.16,754.21" fill="#29a3dc"/>
<polygon points="454.3,790 456.95,787.9 456.95,789 459.3,789 459.3,791 456.95,791 456.95,792.1" fill="#e8262d"/>
<text x="461.7" y="793.3" font-size="10.6" fill="#e8262d" stroke="#e8262d" stroke-width="0.1">EC<tspan font-size="8.4" dy="0.9" dx="0">50</tspan></text>
<text x="454.6" y="802.3" font-size="8.7" fill="#e8262d" textLength="49.6" lengthAdjust="spacingAndGlyphs">66.97 ± 13.89</text>
<text x="523.6" y="16.6" font-size="13" fill="#000" font-weight="bold" stroke="#000" stroke-width="0.1">b</text>
<rect x="561.3" y="5.9" width="14.4" height="6.8" fill="#c4965a" stroke="#3a3a3a" stroke-width="0.6"/>
<text x="583.4" y="12.3" font-size="11.0" fill="#231f20" font-style="italic" stroke="#231f20" stroke-width="0.1">Mypt1<tspan font-size="8.2" dy="-6.4">+/+</tspan></text>
<rect x="561.3" y="19.5" width="14.4" height="7" fill="#e8161e" stroke="#3a3a3a" stroke-width="0.6"/>
<text x="583.4" y="25.9" font-size="11.0" fill="#231f20" font-style="italic" stroke="#231f20" stroke-width="0.1">Mypt1<tspan font-size="8.2" dy="-6.4">+/ΔSM</tspan></text>
<rect x="561.3" y="32.4" width="14.4" height="7" fill="#103a96" stroke="#3a3a3a" stroke-width="0.6"/>
<text x="583.4" y="39.4" font-size="11.0" fill="#231f20" font-style="italic" stroke="#231f20" stroke-width="0.1">Mypt1<tspan font-size="8.2" dy="-6.4">ΔSM/ΔSM</tspan></text>
<line x1="555.5" y1="39.3" x2="555.5" y2="124.6" stroke="#4d4d4d" stroke-width="0.85"/>
<line x1="552.9" y1="124.6" x2="555.5" y2="124.6" stroke="#4d4d4d" stroke-width="0.85"/>
<text x="551.7" y="128.35" font-size="10.9" fill="#231f20" text-anchor="end" stroke="#231f20" stroke-width="0.1">0</text>
<line x1="552.9" y1="107.6" x2="555.5" y2="107.6" stroke="#4d4d4d" stroke-width="0.85"/>
<text x="551.7" y="111.35" font-size="10.9" fill="#231f20" text-anchor="end" stroke="#231f20" stroke-width="0.1">2</text>
<line x1="552.9" y1="90.5" x2="555.5" y2="90.5" stroke="#4d4d4d" stroke-width="0.85"/>
<text x="551.7" y="94.25" font-size="10.9" fill="#231f20" text-anchor="end" stroke="#231f20" stroke-width="0.1">4</text>
<line x1="552.9" y1="73.5" x2="555.5" y2="73.5" stroke="#4d4d4d" stroke-width="0.85"/>
<text x="551.7" y="77.25" font-size="10.9" fill="#231f20" text-anchor="end" stroke="#231f20" stroke-width="0.1">6</text>
<line x1="552.9" y1="56.4" x2="555.5" y2="56.4" stroke="#4d4d4d" stroke-width="0.85"/>
<text x="551.7" y="60.15" font-size="10.9" fill="#231f20" text-anchor="end" stroke="#231f20" stroke-width="0.1">8</text>
<line x1="552.9" y1="39.3" x2="555.5" y2="39.3" stroke="#4d4d4d" stroke-width="0.85"/>
<text x="551.7" y="43.05" font-size="10.9" fill="#231f20" text-anchor="end" stroke="#231f20" stroke-width="0.1">10</text>
<line x1="555.5" y1="124.6" x2="678.5" y2="124.6" stroke="#4d4d4d" stroke-width="0.85"/>
<line x1="576.8" y1="124.6" x2="576.8" y2="127.2" stroke="#4d4d4d" stroke-width="0.85"/>
<line x1="619.8" y1="124.6" x2="619.8" y2="127.2" stroke="#4d4d4d" stroke-width="0.85"/>
<line x1="662.4" y1="124.6" x2="662.4" y2="127.2" stroke="#4d4d4d" stroke-width="0.85"/>
<text x="0" y="0" font-size="10.8" fill="#231f20" text-anchor="middle" transform="translate(538.6,82.9) rotate(-90)" stroke="#231f20" stroke-width="0.1">tension (mN/mm)</text>
<rect x="562.3" y="100.2" width="29.2" height="24.4" fill="#c4965a" stroke="#2a2a2a" stroke-width="0.7"/>
<rect x="605.3" y="91" width="29.1" height="33.6" fill="#e8161e" stroke="#2a2a2a" stroke-width="0.7"/>
<rect x="648.1" y="109.9" width="28.7" height="14.7" fill="#103a96" stroke="#2a2a2a" stroke-width="0.7"/>
<line x1="576.8" y1="97.2" x2="576.8" y2="103.2" stroke="#1a1a1a" stroke-width="0.9"/>
<line x1="570" y1="97.2" x2="583.6" y2="97.2" stroke="#1a1a1a" stroke-width="0.9"/>
<line x1="570" y1="103.2" x2="583.6" y2="103.2" stroke="#1a1a1a" stroke-width="0.9"/>
<line x1="619.8" y1="87.6" x2="619.8" y2="94.5" stroke="#1a1a1a" stroke-width="0.9"/>
<line x1="613" y1="87.6" x2="626.6" y2="87.6" stroke="#1a1a1a" stroke-width="0.9"/>
<line x1="613" y1="94.5" x2="626.6" y2="94.5" stroke="#1a1a1a" stroke-width="0.9"/>
<line x1="662.4" y1="107.3" x2="662.4" y2="112.6" stroke="#1a1a1a" stroke-width="0.9"/>
<line x1="655.6" y1="107.3" x2="669.2" y2="107.3" stroke="#1a1a1a" stroke-width="0.9"/>
<line x1="655.6" y1="112.6" x2="669.2" y2="112.6" stroke="#1a1a1a" stroke-width="0.9"/>
<circle cx="578.75" cy="79.33" r="1.55" fill="#111"/>
<circle cx="574.88" cy="82.81" r="1.55" fill="#111"/>
<circle cx="576.82" cy="86.93" r="1.55" fill="#111"/>
<circle cx="573.21" cy="90.54" r="1.55" fill="#111"/>
<circle cx="580.68" cy="91.18" r="1.55" fill="#111"/>
<circle cx="576.82" cy="93.11" r="1.55" fill="#111"/>
<circle cx="573.21" cy="96.98" r="1.55" fill="#111"/>
<circle cx="580.68" cy="96.98" r="1.55" fill="#111"/>
<circle cx="576.82" cy="99.55" r="1.55" fill="#111"/>
<circle cx="574.88" cy="102.13" r="1.55" fill="#111"/>
<circle cx="580.68" cy="102.39" r="1.55" fill="#111"/>
<circle cx="576.82" cy="105.35" r="1.55" fill="#111"/>
<circle cx="573.21" cy="107.67" r="1.55" fill="#111"/>
<circle cx="580.68" cy="107.67" r="1.55" fill="#111"/>
<circle cx="576.82" cy="111.14" r="1.55" fill="#111"/>
<circle cx="573.21" cy="116.94" r="1.55" fill="#111"/>
<circle cx="577.07" cy="118.23" r="1.55" fill="#111"/>
<circle cx="580.68" cy="117.58" r="1.55" fill="#111"/>
<circle cx="617.99" cy="67.88" r="1.55" fill="#111"/>
<circle cx="621.54" cy="66.9" r="1.55" fill="#111"/>
<circle cx="617.99" cy="81.68" r="1.55" fill="#111"/>
<circle cx="621.54" cy="82.66" r="1.55" fill="#111"/>
<circle cx="621.54" cy="91.14" r="1.55" fill="#111"/>
<circle cx="614.45" cy="95.47" r="1.55" fill="#111"/>
<circle cx="617.99" cy="94.49" r="1.55" fill="#111"/>
<circle cx="623.91" cy="95.47" r="1.55" fill="#111"/>
<circle cx="614.45" cy="98.43" r="1.55" fill="#111"/>
<circle cx="617.99" cy="99.02" r="1.55" fill="#111"/>
<circle cx="621.54" cy="97.84" r="1.55" fill="#111"/>
<circle cx="624.89" cy="99.02" r="1.55" fill="#111"/>
<circle cx="616.02" cy="101.78" r="1.55" fill="#111"/>
<circle cx="620.95" cy="101.78" r="1.55" fill="#111"/>
<circle cx="619.37" cy="104.93" r="1.55" fill="#111"/>
<circle cx="660.76" cy="98.83" r="1.55" fill="#111"/>
<circle cx="664.31" cy="99.42" r="1.55" fill="#111"/>
<circle cx="662.34" cy="106.91" r="1.55" fill="#111"/>
<circle cx="658" cy="110.26" r="1.55" fill="#111"/>
<circle cx="661.35" cy="111.64" r="1.55" fill="#111"/>
<circle cx="664.7" cy="111.64" r="1.55" fill="#111"/>
<circle cx="667.86" cy="111.64" r="1.55" fill="#111"/>
<circle cx="663.32" cy="119.12" r="1.55" fill="#111"/>
<circle cx="660.76" cy="122.08" r="1.55" fill="#111"/>
<line x1="577.3" y1="52.2" x2="665.3" y2="52.2" stroke="#333" stroke-width="0.85"/>
<line x1="577.3" y1="48.8" x2="577.3" y2="53.3" stroke="#333" stroke-width="0.85"/>
<line x1="665.3" y1="48.8" x2="665.3" y2="53.3" stroke="#333" stroke-width="0.85"/>
<line x1="577.3" y1="61.4" x2="617.3" y2="61.4" stroke="#333" stroke-width="0.85"/>
<line x1="577.3" y1="58" x2="577.3" y2="62.5" stroke="#333" stroke-width="0.85"/>
<line x1="617.3" y1="58" x2="617.3" y2="62.5" stroke="#333" stroke-width="0.85"/>
<line x1="621.5" y1="61.4" x2="664.5" y2="61.4" stroke="#333" stroke-width="0.85"/>
<line x1="621.5" y1="58" x2="621.5" y2="62.5" stroke="#333" stroke-width="0.85"/>
<line x1="664.5" y1="58" x2="664.5" y2="62.5" stroke="#333" stroke-width="0.85"/>
<text x="619.4" y="54.6" font-size="11" fill="#222" text-anchor="middle" stroke="#222" stroke-width="0.1">*</text>
<text x="597.6" y="63" font-size="11" fill="#222" text-anchor="middle" stroke="#222" stroke-width="0.1">*</text>
<text x="642.4" y="63" font-size="11" fill="#222" text-anchor="middle" stroke="#222" stroke-width="0.1">**</text>
<text x="524.6" y="447.4" font-size="13" fill="#000" font-weight="bold" stroke="#000" stroke-width="0.1">h</text>
<rect x="562.2" y="441.2" width="14.4" height="7.4" fill="#c4965a" stroke="#3a3a3a" stroke-width="0.6"/>
<text x="583.3" y="447.9" font-size="11.0" fill="#231f20" font-style="italic" stroke="#231f20" stroke-width="0.1">Mypt1<tspan font-size="8.2" dy="-6.4">+/+</tspan></text>
<rect x="562.2" y="454.3" width="14.4" height="7.5" fill="#e8161e" stroke="#3a3a3a" stroke-width="0.6"/>
<text x="583.3" y="461" font-size="11.0" fill="#231f20" font-style="italic" stroke="#231f20" stroke-width="0.1">Mypt1<tspan font-size="8.2" dy="-6.4">+/ΔSM</tspan></text>
<rect x="562.2" y="467.2" width="14.4" height="7.5" fill="#103a96" stroke="#3a3a3a" stroke-width="0.6"/>
<text x="583.3" y="474.2" font-size="11.0" fill="#231f20" font-style="italic" stroke="#231f20" stroke-width="0.1">Mypt1<tspan font-size="8.2" dy="-6.4">ΔSM/ΔSM</tspan></text>
<line x1="554.9" y1="463.5" x2="554.9" y2="548.4" stroke="#4d4d4d" stroke-width="0.85"/>
<line x1="552.3" y1="548.4" x2="554.9" y2="548.4" stroke="#4d4d4d" stroke-width="0.85"/>
<text x="551.1" y="552.15" font-size="10.9" fill="#231f20" text-anchor="end" stroke="#231f20" stroke-width="0.1">0</text>
<line x1="552.3" y1="519.8" x2="554.9" y2="519.8" stroke="#4d4d4d" stroke-width="0.85"/>
<text x="551.1" y="523.55" font-size="10.9" fill="#231f20" text-anchor="end" stroke="#231f20" stroke-width="0.1">0.1</text>
<line x1="552.3" y1="491.6" x2="554.9" y2="491.6" stroke="#4d4d4d" stroke-width="0.85"/>
<text x="551.1" y="495.35" font-size="10.9" fill="#231f20" text-anchor="end" stroke="#231f20" stroke-width="0.1">0.2</text>
<line x1="552.3" y1="463.5" x2="554.9" y2="463.5" stroke="#4d4d4d" stroke-width="0.85"/>
<text x="551.1" y="467.25" font-size="10.9" fill="#231f20" text-anchor="end" stroke="#231f20" stroke-width="0.1">0.3</text>
<line x1="554.9" y1="548.4" x2="678.5" y2="548.4" stroke="#4d4d4d" stroke-width="0.85"/>
<line x1="576.7" y1="548.4" x2="576.7" y2="551" stroke="#4d4d4d" stroke-width="0.85"/>
<line x1="619.8" y1="548.4" x2="619.8" y2="551" stroke="#4d4d4d" stroke-width="0.85"/>
<line x1="662.5" y1="548.4" x2="662.5" y2="551" stroke="#4d4d4d" stroke-width="0.85"/>
<text x="0" y="0" font-size="10.8" fill="#231f20" text-anchor="middle" transform="translate(534.9,505.6) rotate(-90)" stroke="#231f20" stroke-width="0.1">tension (mN/mg)</text>
<rect x="562.2" y="514.4" width="29" height="34" fill="#c4965a" stroke="#2a2a2a" stroke-width="0.7"/>
<rect x="605.6" y="519.4" width="28.5" height="29" fill="#e8161e" stroke="#2a2a2a" stroke-width="0.7"/>
<rect x="648.3" y="517.4" width="28.5" height="31" fill="#103a96" stroke="#2a2a2a" stroke-width="0.7"/>
<line x1="576.7" y1="508.2" x2="576.7" y2="519.8" stroke="#1a1a1a" stroke-width="0.9"/>
<line x1="569.9" y1="508.2" x2="583.5" y2="508.2" stroke="#1a1a1a" stroke-width="0.9"/>
<line x1="569.9" y1="519.8" x2="583.5" y2="519.8" stroke="#1a1a1a" stroke-width="0.9"/>
<line x1="619.8" y1="516.4" x2="619.8" y2="522.3" stroke="#1a1a1a" stroke-width="0.9"/>
<line x1="613" y1="516.4" x2="626.6" y2="516.4" stroke="#1a1a1a" stroke-width="0.9"/>
<line x1="613" y1="522.3" x2="626.6" y2="522.3" stroke="#1a1a1a" stroke-width="0.9"/>
<line x1="662.5" y1="511.2" x2="662.5" y2="523.8" stroke="#1a1a1a" stroke-width="0.9"/>
<line x1="655.7" y1="511.2" x2="669.3" y2="511.2" stroke="#1a1a1a" stroke-width="0.9"/>
<line x1="655.7" y1="523.8" x2="669.3" y2="523.8" stroke="#1a1a1a" stroke-width="0.9"/>
<circle cx="577.05" cy="481.38" r="1.55" fill="#111"/>
<circle cx="577.05" cy="492.55" r="1.55" fill="#111"/>
<circle cx="577.05" cy="497.51" r="1.55" fill="#111"/>
<circle cx="577.05" cy="506.45" r="1.55" fill="#111"/>
<circle cx="577.05" cy="513.89" r="1.55" fill="#111"/>
<circle cx="577.05" cy="519.85" r="1.55" fill="#111"/>
<circle cx="571.59" cy="525.56" r="1.55" fill="#111"/>
<circle cx="579.04" cy="525.56" r="1.55" fill="#111"/>
<circle cx="571.59" cy="531.76" r="1.55" fill="#111"/>
<circle cx="579.04" cy="531.76" r="1.55" fill="#111"/>
<circle cx="577.05" cy="537.22" r="1.55" fill="#111"/>
<circle cx="619.74" cy="502.47" r="1.55" fill="#111"/>
<circle cx="619.74" cy="509.42" r="1.55" fill="#111"/>
<circle cx="616.27" cy="513.15" r="1.55" fill="#111"/>
<circle cx="622.22" cy="515.63" r="1.55" fill="#111"/>
<circle cx="617.26" cy="518.86" r="1.55" fill="#111"/>
<circle cx="622.97" cy="521.83" r="1.55" fill="#111"/>
<circle cx="618.75" cy="524.32" r="1.55" fill="#111"/>
<circle cx="617.26" cy="530.52" r="1.55" fill="#111"/>
<circle cx="621.73" cy="530.52" r="1.55" fill="#111"/>
<circle cx="662.68" cy="496.02" r="1.55" fill="#111"/>
<circle cx="662.68" cy="500.49" r="1.55" fill="#111"/>
<circle cx="663.42" cy="516.37" r="1.55" fill="#111"/>
<circle cx="659.45" cy="522.33" r="1.55" fill="#111"/>
<circle cx="665.16" cy="524.81" r="1.55" fill="#111"/>
<circle cx="662.68" cy="535.49" r="1.55" fill="#111"/>
<text x="524" y="157.7" font-size="13" fill="#000" font-weight="bold" stroke="#000" stroke-width="0.1">d</text>
<line x1="564.8" y1="154.9" x2="575.4" y2="154.9" stroke="#cfa06a" stroke-width="1.0"/>
<circle cx="570.1" cy="154.9" r="2.3" fill="none" stroke="#cfa06a" stroke-width="1.0"/>
<text x="579" y="157.9" font-size="11.0" fill="#231f20" font-style="italic" stroke="#231f20" stroke-width="0.1">Mypt1<tspan font-size="8.2" dy="-5.4">+/+</tspan></text>
<line x1="564.8" y1="167.8" x2="575.4" y2="167.8" stroke="#e8383e" stroke-width="1.0"/>
<circle cx="570.1" cy="167.8" r="2.3" fill="none" stroke="#e8383e" stroke-width="1.0"/>
<text x="579" y="171" font-size="11.0" fill="#231f20" font-style="italic" stroke="#231f20" stroke-width="0.1">Mypt1<tspan font-size="8.2" dy="-5.4">+/ΔSM</tspan></text>
<line x1="564.8" y1="180.2" x2="575.4" y2="180.2" stroke="#3a5cb8" stroke-width="1.0"/>
<circle cx="570.1" cy="180.2" r="2.3" fill="none" stroke="#3a5cb8" stroke-width="1.0"/>
<text x="579" y="183.5" font-size="11.0" fill="#231f20" font-style="italic" stroke="#231f20" stroke-width="0.1">Mypt1<tspan font-size="8.2" dy="-5.4">ΔSM/ΔSM</tspan></text>
<line x1="555.3" y1="168.6" x2="555.3" y2="254.2" stroke="#4d4d4d" stroke-width="0.85"/>
<line x1="552.7" y1="254.2" x2="555.3" y2="254.2" stroke="#4d4d4d" stroke-width="0.85"/>
<text x="551.5" y="257.95" font-size="10.9" fill="#231f20" text-anchor="end" stroke="#231f20" stroke-width="0.1">0</text>
<line x1="552.7" y1="237.08" x2="555.3" y2="237.08" stroke="#4d4d4d" stroke-width="0.85"/>
<text x="551.5" y="240.83" font-size="10.9" fill="#231f20" text-anchor="end" stroke="#231f20" stroke-width="0.1">1</text>
<line x1="552.7" y1="219.96" x2="555.3" y2="219.96" stroke="#4d4d4d" stroke-width="0.85"/>
<text x="551.5" y="223.71" font-size="10.9" fill="#231f20" text-anchor="end" stroke="#231f20" stroke-width="0.1">2</text>
<line x1="552.7" y1="202.84" x2="555.3" y2="202.84" stroke="#4d4d4d" stroke-width="0.85"/>
<text x="551.5" y="206.59" font-size="10.9" fill="#231f20" text-anchor="end" stroke="#231f20" stroke-width="0.1">3</text>
<line x1="552.7" y1="185.72" x2="555.3" y2="185.72" stroke="#4d4d4d" stroke-width="0.85"/>
<text x="551.5" y="189.47" font-size="10.9" fill="#231f20" text-anchor="end" stroke="#231f20" stroke-width="0.1">4</text>
<line x1="552.7" y1="168.6" x2="555.3" y2="168.6" stroke="#4d4d4d" stroke-width="0.85"/>
<text x="551.5" y="172.35" font-size="10.9" fill="#231f20" text-anchor="end" stroke="#231f20" stroke-width="0.1">5</text>
<line x1="555.3" y1="254.2" x2="684.5" y2="254.2" stroke="#4d4d4d" stroke-width="0.85"/>
<line x1="561.7" y1="254.2" x2="561.7" y2="256.8" stroke="#4d4d4d" stroke-width="0.85"/>
<line x1="576.09" y1="254.2" x2="576.09" y2="256.8" stroke="#4d4d4d" stroke-width="0.85"/>
<line x1="590.48" y1="254.2" x2="590.48" y2="256.8" stroke="#4d4d4d" stroke-width="0.85"/>
<line x1="604.87" y1="254.2" x2="604.87" y2="256.8" stroke="#4d4d4d" stroke-width="0.85"/>
<line x1="619.26" y1="254.2" x2="619.26" y2="256.8" stroke="#4d4d4d" stroke-width="0.85"/>
<line x1="633.65" y1="254.2" x2="633.65" y2="256.8" stroke="#4d4d4d" stroke-width="0.85"/>
<line x1="648.04" y1="254.2" x2="648.04" y2="256.8" stroke="#4d4d4d" stroke-width="0.85"/>
<line x1="662.43" y1="254.2" x2="662.43" y2="256.8" stroke="#4d4d4d" stroke-width="0.85"/>
<line x1="676.82" y1="254.2" x2="676.82" y2="256.8" stroke="#4d4d4d" stroke-width="0.85"/>
<text x="560.1" y="266.6" font-size="10.9" fill="#231f20" text-anchor="middle" stroke="#231f20" stroke-width="0.1">-9</text>
<text x="588.88" y="266.6" font-size="10.9" fill="#231f20" text-anchor="middle" stroke="#231f20" stroke-width="0.1">-8</text>
<text x="617.66" y="266.6" font-size="10.9" fill="#231f20" text-anchor="middle" stroke="#231f20" stroke-width="0.1">-7</text>
<text x="646.44" y="266.6" font-size="10.9" fill="#231f20" text-anchor="middle" stroke="#231f20" stroke-width="0.1">-6</text>
<text x="675.22" y="266.6" font-size="10.9" fill="#231f20" text-anchor="middle" stroke="#231f20" stroke-width="0.1">-5</text>
<text x="0" y="0" font-size="10.8" fill="#231f20" text-anchor="middle" transform="translate(540.5,207.6) rotate(-90)" stroke="#231f20" stroke-width="0.1">tension (mN/mm)</text>
<text x="616.8" y="275.3" font-size="10.8" fill="#231f20" text-anchor="middle" stroke="#231f20" stroke-width="0.1">PE (log M)</text>
<polyline points="561.7,253.69 576.09,254.2 590.48,253.69 604.87,252.49 619.26,237.08 633.65,219.96 648.04,206.26 662.43,198.56 676.82,192.57" fill="none" stroke="#cfa06a" stroke-width="1.0" stroke-linejoin="round"/>
<line x1="604.87" y1="251.12" x2="604.87" y2="253.86" stroke="#cfa06a" stroke-width="1.0"/>
<line x1="601.97" y1="251.12" x2="607.77" y2="251.12" stroke="#cfa06a" stroke-width="1.1"/>
<line x1="601.97" y1="253.86" x2="607.77" y2="253.86" stroke="#cfa06a" stroke-width="1.1"/>
<line x1="619.26" y1="232.8" x2="619.26" y2="241.36" stroke="#cfa06a" stroke-width="1.0"/>
<line x1="616.36" y1="232.8" x2="622.16" y2="232.8" stroke="#cfa06a" stroke-width="1.1"/>
<line x1="616.36" y1="241.36" x2="622.16" y2="241.36" stroke="#cfa06a" stroke-width="1.1"/>
<line x1="633.65" y1="211.91" x2="633.65" y2="228.01" stroke="#cfa06a" stroke-width="1.0"/>
<line x1="630.75" y1="211.91" x2="636.55" y2="211.91" stroke="#cfa06a" stroke-width="1.1"/>
<line x1="630.75" y1="228.01" x2="636.55" y2="228.01" stroke="#cfa06a" stroke-width="1.1"/>
<line x1="648.04" y1="201.13" x2="648.04" y2="211.4" stroke="#cfa06a" stroke-width="1.0"/>
<line x1="645.14" y1="201.13" x2="650.94" y2="201.13" stroke="#cfa06a" stroke-width="1.1"/>
<line x1="645.14" y1="211.4" x2="650.94" y2="211.4" stroke="#cfa06a" stroke-width="1.1"/>
<line x1="662.43" y1="193.42" x2="662.43" y2="203.7" stroke="#cfa06a" stroke-width="1.0"/>
<line x1="659.53" y1="193.42" x2="665.33" y2="193.42" stroke="#cfa06a" stroke-width="1.1"/>
<line x1="659.53" y1="203.7" x2="665.33" y2="203.7" stroke="#cfa06a" stroke-width="1.1"/>
<line x1="676.82" y1="187.43" x2="676.82" y2="197.7" stroke="#cfa06a" stroke-width="1.0"/>
<line x1="673.92" y1="187.43" x2="679.72" y2="187.43" stroke="#cfa06a" stroke-width="1.1"/>
<line x1="673.92" y1="197.7" x2="679.72" y2="197.7" stroke="#cfa06a" stroke-width="1.1"/>
<circle cx="561.7" cy="253.69" r="2.75" fill="none" stroke="#cfa06a" stroke-width="1.15"/>
<circle cx="576.09" cy="254.2" r="2.75" fill="none" stroke="#cfa06a" stroke-width="1.15"/>
<circle cx="590.48" cy="253.69" r="2.75" fill="none" stroke="#cfa06a" stroke-width="1.15"/>
<circle cx="604.87" cy="252.49" r="2.75" fill="none" stroke="#cfa06a" stroke-width="1.15"/>
<circle cx="619.26" cy="237.08" r="2.75" fill="none" stroke="#cfa06a" stroke-width="1.15"/>
<circle cx="633.65" cy="219.96" r="2.75" fill="none" stroke="#cfa06a" stroke-width="1.15"/>
<circle cx="648.04" cy="206.26" r="2.75" fill="none" stroke="#cfa06a" stroke-width="1.15"/>
<circle cx="662.43" cy="198.56" r="2.75" fill="none" stroke="#cfa06a" stroke-width="1.15"/>
<circle cx="676.82" cy="192.57" r="2.75" fill="none" stroke="#cfa06a" stroke-width="1.15"/>
<polyline points="561.7,253 576.09,252.15 590.48,251.63 604.87,247.35 619.26,236.4 633.65,220.64 648.04,214.48 662.43,210.03 676.82,208.32" fill="none" stroke="#3a5cb8" stroke-width="1.0" stroke-linejoin="round"/>
<line x1="590.48" y1="250.78" x2="590.48" y2="252.49" stroke="#3a5cb8" stroke-width="1.0"/>
<line x1="587.58" y1="250.78" x2="593.38" y2="250.78" stroke="#3a5cb8" stroke-width="1.1"/>
<line x1="587.58" y1="252.49" x2="593.38" y2="252.49" stroke="#3a5cb8" stroke-width="1.1"/>
<line x1="604.87" y1="245.64" x2="604.87" y2="249.06" stroke="#3a5cb8" stroke-width="1.0"/>
<line x1="601.97" y1="245.64" x2="607.77" y2="245.64" stroke="#3a5cb8" stroke-width="1.1"/>
<line x1="601.97" y1="249.06" x2="607.77" y2="249.06" stroke="#3a5cb8" stroke-width="1.1"/>
<line x1="619.26" y1="232.63" x2="619.26" y2="240.16" stroke="#3a5cb8" stroke-width="1.0"/>
<line x1="616.36" y1="232.63" x2="622.16" y2="232.63" stroke="#3a5cb8" stroke-width="1.1"/>
<line x1="616.36" y1="240.16" x2="622.16" y2="240.16" stroke="#3a5cb8" stroke-width="1.1"/>
<line x1="633.65" y1="215.51" x2="633.65" y2="225.78" stroke="#3a5cb8" stroke-width="1.0"/>
<line x1="630.75" y1="215.51" x2="636.55" y2="215.51" stroke="#3a5cb8" stroke-width="1.1"/>
<line x1="630.75" y1="225.78" x2="636.55" y2="225.78" stroke="#3a5cb8" stroke-width="1.1"/>
<line x1="648.04" y1="208.32" x2="648.04" y2="220.64" stroke="#3a5cb8" stroke-width="1.0"/>
<line x1="645.14" y1="208.32" x2="650.94" y2="208.32" stroke="#3a5cb8" stroke-width="1.1"/>
<line x1="645.14" y1="220.64" x2="650.94" y2="220.64" stroke="#3a5cb8" stroke-width="1.1"/>
<line x1="662.43" y1="203.18" x2="662.43" y2="216.88" stroke="#3a5cb8" stroke-width="1.0"/>
<line x1="659.53" y1="203.18" x2="665.33" y2="203.18" stroke="#3a5cb8" stroke-width="1.1"/>
<line x1="659.53" y1="216.88" x2="665.33" y2="216.88" stroke="#3a5cb8" stroke-width="1.1"/>
<line x1="676.82" y1="201.64" x2="676.82" y2="215" stroke="#3a5cb8" stroke-width="1.0"/>
<line x1="673.92" y1="201.64" x2="679.72" y2="201.64" stroke="#3a5cb8" stroke-width="1.1"/>
<line x1="673.92" y1="215" x2="679.72" y2="215" stroke="#3a5cb8" stroke-width="1.1"/>
<circle cx="561.7" cy="253" r="2.75" fill="none" stroke="#3a5cb8" stroke-width="1.15"/>
<circle cx="576.09" cy="252.15" r="2.75" fill="none" stroke="#3a5cb8" stroke-width="1.15"/>
<circle cx="590.48" cy="251.63" r="2.75" fill="none" stroke="#3a5cb8" stroke-width="1.15"/>
<circle cx="604.87" cy="247.35" r="2.75" fill="none" stroke="#3a5cb8" stroke-width="1.15"/>
<circle cx="619.26" cy="236.4" r="2.75" fill="none" stroke="#3a5cb8" stroke-width="1.15"/>
<circle cx="633.65" cy="220.64" r="2.75" fill="none" stroke="#3a5cb8" stroke-width="1.15"/>
<circle cx="648.04" cy="214.48" r="2.75" fill="none" stroke="#3a5cb8" stroke-width="1.15"/>
<circle cx="662.43" cy="210.03" r="2.75" fill="none" stroke="#3a5cb8" stroke-width="1.15"/>
<circle cx="676.82" cy="208.32" r="2.75" fill="none" stroke="#3a5cb8" stroke-width="1.15"/>
<polyline points="561.7,253 576.09,251.29 590.48,246.32 604.87,241.36 619.26,218.25 633.65,210.72 648.04,205.07 662.43,199.07 676.82,193.42" fill="none" stroke="#e8383e" stroke-width="1.0" stroke-linejoin="round"/>
<line x1="590.48" y1="244.96" x2="590.48" y2="247.69" stroke="#e8383e" stroke-width="1.0"/>
<line x1="587.58" y1="244.96" x2="593.38" y2="244.96" stroke="#e8383e" stroke-width="1.1"/>
<line x1="587.58" y1="247.69" x2="593.38" y2="247.69" stroke="#e8383e" stroke-width="1.1"/>
<line x1="604.87" y1="238.28" x2="604.87" y2="244.44" stroke="#e8383e" stroke-width="1.0"/>
<line x1="601.97" y1="238.28" x2="607.77" y2="238.28" stroke="#e8383e" stroke-width="1.1"/>
<line x1="601.97" y1="244.44" x2="607.77" y2="244.44" stroke="#e8383e" stroke-width="1.1"/>
<line x1="619.26" y1="211.57" x2="619.26" y2="224.92" stroke="#e8383e" stroke-width="1.0"/>
<line x1="616.36" y1="211.57" x2="622.16" y2="211.57" stroke="#e8383e" stroke-width="1.1"/>
<line x1="616.36" y1="224.92" x2="622.16" y2="224.92" stroke="#e8383e" stroke-width="1.1"/>
<line x1="633.65" y1="204.55" x2="633.65" y2="216.88" stroke="#e8383e" stroke-width="1.0"/>
<line x1="630.75" y1="204.55" x2="636.55" y2="204.55" stroke="#e8383e" stroke-width="1.1"/>
<line x1="630.75" y1="216.88" x2="636.55" y2="216.88" stroke="#e8383e" stroke-width="1.1"/>
<line x1="648.04" y1="198.22" x2="648.04" y2="211.91" stroke="#e8383e" stroke-width="1.0"/>
<line x1="645.14" y1="198.22" x2="650.94" y2="198.22" stroke="#e8383e" stroke-width="1.1"/>
<line x1="645.14" y1="211.91" x2="650.94" y2="211.91" stroke="#e8383e" stroke-width="1.1"/>
<line x1="662.43" y1="191.71" x2="662.43" y2="206.44" stroke="#e8383e" stroke-width="1.0"/>
<line x1="659.53" y1="191.71" x2="665.33" y2="191.71" stroke="#e8383e" stroke-width="1.1"/>
<line x1="659.53" y1="206.44" x2="665.33" y2="206.44" stroke="#e8383e" stroke-width="1.1"/>
<line x1="676.82" y1="188.63" x2="676.82" y2="198.22" stroke="#e8383e" stroke-width="1.0"/>
<line x1="673.92" y1="188.63" x2="679.72" y2="188.63" stroke="#e8383e" stroke-width="1.1"/>
<line x1="673.92" y1="198.22" x2="679.72" y2="198.22" stroke="#e8383e" stroke-width="1.1"/>
<circle cx="561.7" cy="253" r="2.75" fill="none" stroke="#e8383e" stroke-width="1.15"/>
<circle cx="576.09" cy="251.29" r="2.75" fill="none" stroke="#e8383e" stroke-width="1.15"/>
<circle cx="590.48" cy="246.32" r="2.75" fill="none" stroke="#e8383e" stroke-width="1.15"/>
<circle cx="604.87" cy="241.36" r="2.75" fill="none" stroke="#e8383e" stroke-width="1.15"/>
<circle cx="619.26" cy="218.25" r="2.75" fill="none" stroke="#e8383e" stroke-width="1.15"/>
<circle cx="633.65" cy="210.72" r="2.75" fill="none" stroke="#e8383e" stroke-width="1.15"/>
<circle cx="648.04" cy="205.07" r="2.75" fill="none" stroke="#e8383e" stroke-width="1.15"/>
<circle cx="662.43" cy="199.07" r="2.75" fill="none" stroke="#e8383e" stroke-width="1.15"/>
<circle cx="676.82" cy="193.42" r="2.75" fill="none" stroke="#e8383e" stroke-width="1.15"/>
<text x="619.7" y="212" font-size="11" fill="#222" text-anchor="middle" stroke="#222" stroke-width="0.1">*</text>
<text x="604.8" y="224.6" font-size="10.8" fill="#222" text-anchor="middle" stroke="#222" stroke-width="0.1">#</text>
<text x="604.8" y="236.8" font-size="11" fill="#222" text-anchor="middle" stroke="#222" stroke-width="0.1">*</text>
<text x="524.6" y="299.9" font-size="13" fill="#000" font-weight="bold" stroke="#000" stroke-width="0.1">f</text>
<line x1="564.8" y1="298.7" x2="575.4" y2="298.7" stroke="#cfa06a" stroke-width="1.0"/>
<circle cx="570.1" cy="298.7" r="2.3" fill="none" stroke="#cfa06a" stroke-width="1.0"/>
<text x="579" y="301.9" font-size="11.0" fill="#231f20" font-style="italic" stroke="#231f20" stroke-width="0.1">Mypt1<tspan font-size="8.2" dy="-5.4">+/+</tspan></text>
<line x1="564.8" y1="311.1" x2="575.4" y2="311.1" stroke="#e8383e" stroke-width="1.0"/>
<circle cx="570.1" cy="311.1" r="2.3" fill="none" stroke="#e8383e" stroke-width="1.0"/>
<text x="579" y="314.8" font-size="11.0" fill="#231f20" font-style="italic" stroke="#231f20" stroke-width="0.1">Mypt1<tspan font-size="8.2" dy="-5.4">+/ΔSM</tspan></text>
<line x1="564.8" y1="323.5" x2="575.4" y2="323.5" stroke="#3a5cb8" stroke-width="1.0"/>
<circle cx="570.1" cy="323.5" r="2.3" fill="none" stroke="#3a5cb8" stroke-width="1.0"/>
<text x="579" y="327.7" font-size="11.0" fill="#231f20" font-style="italic" stroke="#231f20" stroke-width="0.1">Mypt1<tspan font-size="8.2" dy="-5.4">ΔSM/ΔSM</tspan></text>
<line x1="555.3" y1="312.8" x2="555.3" y2="398.5" stroke="#4d4d4d" stroke-width="0.85"/>
<line x1="552.7" y1="398.5" x2="555.3" y2="398.5" stroke="#4d4d4d" stroke-width="0.85"/>
<text x="551.5" y="402.25" font-size="10.9" fill="#231f20" text-anchor="end" stroke="#231f20" stroke-width="0.1">0</text>
<line x1="552.7" y1="369.93" x2="555.3" y2="369.93" stroke="#4d4d4d" stroke-width="0.85"/>
<text x="551.5" y="373.68" font-size="10.9" fill="#231f20" text-anchor="end" stroke="#231f20" stroke-width="0.1">2</text>
<line x1="552.7" y1="341.37" x2="555.3" y2="341.37" stroke="#4d4d4d" stroke-width="0.85"/>
<text x="551.5" y="345.12" font-size="10.9" fill="#231f20" text-anchor="end" stroke="#231f20" stroke-width="0.1">4</text>
<line x1="552.7" y1="312.8" x2="555.3" y2="312.8" stroke="#4d4d4d" stroke-width="0.85"/>
<text x="551.5" y="316.55" font-size="10.9" fill="#231f20" text-anchor="end" stroke="#231f20" stroke-width="0.1">6</text>
<line x1="555.3" y1="398.5" x2="684.5" y2="398.5" stroke="#4d4d4d" stroke-width="0.85"/>
<line x1="563.4" y1="398.5" x2="563.4" y2="401.1" stroke="#4d4d4d" stroke-width="0.85"/>
<line x1="579.66" y1="398.5" x2="579.66" y2="401.1" stroke="#4d4d4d" stroke-width="0.85"/>
<line x1="595.93" y1="398.5" x2="595.93" y2="401.1" stroke="#4d4d4d" stroke-width="0.85"/>
<line x1="612.19" y1="398.5" x2="612.19" y2="401.1" stroke="#4d4d4d" stroke-width="0.85"/>
<line x1="628.46" y1="398.5" x2="628.46" y2="401.1" stroke="#4d4d4d" stroke-width="0.85"/>
<line x1="644.73" y1="398.5" x2="644.73" y2="401.1" stroke="#4d4d4d" stroke-width="0.85"/>
<line x1="660.99" y1="398.5" x2="660.99" y2="401.1" stroke="#4d4d4d" stroke-width="0.85"/>
<line x1="677.25" y1="398.5" x2="677.25" y2="401.1" stroke="#4d4d4d" stroke-width="0.85"/>
<text x="561.8" y="410.9" font-size="10.9" fill="#231f20" text-anchor="middle" stroke="#231f20" stroke-width="0.1">-9</text>
<text x="594.33" y="410.9" font-size="10.9" fill="#231f20" text-anchor="middle" stroke="#231f20" stroke-width="0.1">-8</text>
<text x="626.86" y="410.9" font-size="10.9" fill="#231f20" text-anchor="middle" stroke="#231f20" stroke-width="0.1">-7</text>
<text x="659.39" y="410.9" font-size="10.9" fill="#231f20" text-anchor="middle" stroke="#231f20" stroke-width="0.1">-6</text>
<text x="0" y="0" font-size="10.8" fill="#231f20" text-anchor="middle" transform="translate(540.5,352.8) rotate(-90)" stroke="#231f20" stroke-width="0.1">tension (mN/mm)</text>
<text x="612.3" y="421" font-size="10.8" fill="#231f20" text-anchor="middle" stroke="#231f20" stroke-width="0.1">U46619 (log M)</text>
<polyline points="563.4,397.79 579.66,396.36 595.93,382.79 612.19,365.65 628.46,353.51 644.73,350.65 660.99,347.79 677.25,347.08" fill="none" stroke="#cfa06a" stroke-width="1.0" stroke-linejoin="round"/>
<line x1="595.93" y1="378.5" x2="595.93" y2="387.07" stroke="#cfa06a" stroke-width="1.0"/>
<line x1="593.03" y1="378.5" x2="598.83" y2="378.5" stroke="#cfa06a" stroke-width="1.1"/>
<line x1="593.03" y1="387.07" x2="598.83" y2="387.07" stroke="#cfa06a" stroke-width="1.1"/>
<line x1="612.19" y1="360.65" x2="612.19" y2="370.65" stroke="#cfa06a" stroke-width="1.0"/>
<line x1="609.29" y1="360.65" x2="615.09" y2="360.65" stroke="#cfa06a" stroke-width="1.1"/>
<line x1="609.29" y1="370.65" x2="615.09" y2="370.65" stroke="#cfa06a" stroke-width="1.1"/>
<line x1="628.46" y1="349.22" x2="628.46" y2="357.79" stroke="#cfa06a" stroke-width="1.0"/>
<line x1="625.56" y1="349.22" x2="631.36" y2="349.22" stroke="#cfa06a" stroke-width="1.1"/>
<line x1="625.56" y1="357.79" x2="631.36" y2="357.79" stroke="#cfa06a" stroke-width="1.1"/>
<line x1="644.73" y1="345.65" x2="644.73" y2="355.65" stroke="#cfa06a" stroke-width="1.0"/>
<line x1="641.83" y1="345.65" x2="647.62" y2="345.65" stroke="#cfa06a" stroke-width="1.1"/>
<line x1="641.83" y1="355.65" x2="647.62" y2="355.65" stroke="#cfa06a" stroke-width="1.1"/>
<line x1="660.99" y1="342.08" x2="660.99" y2="353.51" stroke="#cfa06a" stroke-width="1.0"/>
<line x1="658.09" y1="342.08" x2="663.89" y2="342.08" stroke="#cfa06a" stroke-width="1.1"/>
<line x1="658.09" y1="353.51" x2="663.89" y2="353.51" stroke="#cfa06a" stroke-width="1.1"/>
<line x1="677.25" y1="341.37" x2="677.25" y2="352.79" stroke="#cfa06a" stroke-width="1.0"/>
<line x1="674.36" y1="341.37" x2="680.15" y2="341.37" stroke="#cfa06a" stroke-width="1.1"/>
<line x1="674.36" y1="352.79" x2="680.15" y2="352.79" stroke="#cfa06a" stroke-width="1.1"/>
<circle cx="563.4" cy="397.79" r="2.75" fill="none" stroke="#cfa06a" stroke-width="1.15"/>
<circle cx="579.66" cy="396.36" r="2.75" fill="none" stroke="#cfa06a" stroke-width="1.15"/>
<circle cx="595.93" cy="382.79" r="2.75" fill="none" stroke="#cfa06a" stroke-width="1.15"/>
<circle cx="612.19" cy="365.65" r="2.75" fill="none" stroke="#cfa06a" stroke-width="1.15"/>
<circle cx="628.46" cy="353.51" r="2.75" fill="none" stroke="#cfa06a" stroke-width="1.15"/>
<circle cx="644.73" cy="350.65" r="2.75" fill="none" stroke="#cfa06a" stroke-width="1.15"/>
<circle cx="660.99" cy="347.79" r="2.75" fill="none" stroke="#cfa06a" stroke-width="1.15"/>
<circle cx="677.25" cy="347.08" r="2.75" fill="none" stroke="#cfa06a" stroke-width="1.15"/>
<polyline points="563.4,398.21 579.66,397.07 595.93,389.93 612.19,372.79 628.46,351.37 644.73,349.94 660.99,347.79 677.25,346.37" fill="none" stroke="#3a5cb8" stroke-width="1.0" stroke-linejoin="round"/>
<line x1="595.93" y1="387.07" x2="595.93" y2="392.79" stroke="#3a5cb8" stroke-width="1.0"/>
<line x1="593.03" y1="387.07" x2="598.83" y2="387.07" stroke="#3a5cb8" stroke-width="1.1"/>
<line x1="593.03" y1="392.79" x2="598.83" y2="392.79" stroke="#3a5cb8" stroke-width="1.1"/>
<line x1="612.19" y1="369.93" x2="612.19" y2="375.65" stroke="#3a5cb8" stroke-width="1.0"/>
<line x1="609.29" y1="369.93" x2="615.09" y2="369.93" stroke="#3a5cb8" stroke-width="1.1"/>
<line x1="609.29" y1="375.65" x2="615.09" y2="375.65" stroke="#3a5cb8" stroke-width="1.1"/>
<line x1="628.46" y1="346.37" x2="628.46" y2="356.36" stroke="#3a5cb8" stroke-width="1.0"/>
<line x1="625.56" y1="346.37" x2="631.36" y2="346.37" stroke="#3a5cb8" stroke-width="1.1"/>
<line x1="625.56" y1="356.36" x2="631.36" y2="356.36" stroke="#3a5cb8" stroke-width="1.1"/>
<line x1="644.73" y1="344.22" x2="644.73" y2="355.65" stroke="#3a5cb8" stroke-width="1.0"/>
<line x1="641.83" y1="344.22" x2="647.62" y2="344.22" stroke="#3a5cb8" stroke-width="1.1"/>
<line x1="641.83" y1="355.65" x2="647.62" y2="355.65" stroke="#3a5cb8" stroke-width="1.1"/>
<line x1="660.99" y1="342.08" x2="660.99" y2="353.51" stroke="#3a5cb8" stroke-width="1.0"/>
<line x1="658.09" y1="342.08" x2="663.89" y2="342.08" stroke="#3a5cb8" stroke-width="1.1"/>
<line x1="658.09" y1="353.51" x2="663.89" y2="353.51" stroke="#3a5cb8" stroke-width="1.1"/>
<line x1="677.25" y1="340.65" x2="677.25" y2="352.08" stroke="#3a5cb8" stroke-width="1.0"/>
<line x1="674.36" y1="340.65" x2="680.15" y2="340.65" stroke="#3a5cb8" stroke-width="1.1"/>
<line x1="674.36" y1="352.08" x2="680.15" y2="352.08" stroke="#3a5cb8" stroke-width="1.1"/>
<circle cx="563.4" cy="398.21" r="2.75" fill="none" stroke="#3a5cb8" stroke-width="1.15"/>
<circle cx="579.66" cy="397.07" r="2.75" fill="none" stroke="#3a5cb8" stroke-width="1.15"/>
<circle cx="595.93" cy="389.93" r="2.75" fill="none" stroke="#3a5cb8" stroke-width="1.15"/>
<circle cx="612.19" cy="372.79" r="2.75" fill="none" stroke="#3a5cb8" stroke-width="1.15"/>
<circle cx="628.46" cy="351.37" r="2.75" fill="none" stroke="#3a5cb8" stroke-width="1.15"/>
<circle cx="644.73" cy="349.94" r="2.75" fill="none" stroke="#3a5cb8" stroke-width="1.15"/>
<circle cx="660.99" cy="347.79" r="2.75" fill="none" stroke="#3a5cb8" stroke-width="1.15"/>
<circle cx="677.25" cy="346.37" r="2.75" fill="none" stroke="#3a5cb8" stroke-width="1.15"/>
<polyline points="563.4,397.07 579.66,389.93 595.93,377.79 612.19,348.51 628.46,337.08 644.73,334.23 660.99,331.37 677.25,329.94" fill="none" stroke="#e8383e" stroke-width="1.0" stroke-linejoin="round"/>
<line x1="579.66" y1="384.22" x2="579.66" y2="395.64" stroke="#e8383e" stroke-width="1.0"/>
<line x1="576.76" y1="384.22" x2="582.56" y2="384.22" stroke="#e8383e" stroke-width="1.1"/>
<line x1="576.76" y1="395.64" x2="582.56" y2="395.64" stroke="#e8383e" stroke-width="1.1"/>
<line x1="595.93" y1="369.93" x2="595.93" y2="385.64" stroke="#e8383e" stroke-width="1.0"/>
<line x1="593.03" y1="369.93" x2="598.83" y2="369.93" stroke="#e8383e" stroke-width="1.1"/>
<line x1="593.03" y1="385.64" x2="598.83" y2="385.64" stroke="#e8383e" stroke-width="1.1"/>
<line x1="612.19" y1="339.22" x2="612.19" y2="357.79" stroke="#e8383e" stroke-width="1.0"/>
<line x1="609.29" y1="339.22" x2="615.09" y2="339.22" stroke="#e8383e" stroke-width="1.1"/>
<line x1="609.29" y1="357.79" x2="615.09" y2="357.79" stroke="#e8383e" stroke-width="1.1"/>
<line x1="628.46" y1="328.51" x2="628.46" y2="345.65" stroke="#e8383e" stroke-width="1.0"/>
<line x1="625.56" y1="328.51" x2="631.36" y2="328.51" stroke="#e8383e" stroke-width="1.1"/>
<line x1="625.56" y1="345.65" x2="631.36" y2="345.65" stroke="#e8383e" stroke-width="1.1"/>
<line x1="644.73" y1="323.51" x2="644.73" y2="344.94" stroke="#e8383e" stroke-width="1.0"/>
<line x1="641.83" y1="323.51" x2="647.62" y2="323.51" stroke="#e8383e" stroke-width="1.1"/>
<line x1="641.83" y1="344.94" x2="647.62" y2="344.94" stroke="#e8383e" stroke-width="1.1"/>
<line x1="660.99" y1="321.37" x2="660.99" y2="341.37" stroke="#e8383e" stroke-width="1.0"/>
<line x1="658.09" y1="321.37" x2="663.89" y2="321.37" stroke="#e8383e" stroke-width="1.1"/>
<line x1="658.09" y1="341.37" x2="663.89" y2="341.37" stroke="#e8383e" stroke-width="1.1"/>
<line x1="677.25" y1="319.94" x2="677.25" y2="339.94" stroke="#e8383e" stroke-width="1.0"/>
<line x1="674.36" y1="319.94" x2="680.15" y2="319.94" stroke="#e8383e" stroke-width="1.1"/>
<line x1="674.36" y1="339.94" x2="680.15" y2="339.94" stroke="#e8383e" stroke-width="1.1"/>
<circle cx="563.4" cy="397.07" r="2.75" fill="none" stroke="#e8383e" stroke-width="1.15"/>
<circle cx="579.66" cy="389.93" r="2.75" fill="none" stroke="#e8383e" stroke-width="1.15"/>
<circle cx="595.93" cy="377.79" r="2.75" fill="none" stroke="#e8383e" stroke-width="1.15"/>
<circle cx="612.19" cy="348.51" r="2.75" fill="none" stroke="#e8383e" stroke-width="1.15"/>
<circle cx="628.46" cy="337.08" r="2.75" fill="none" stroke="#e8383e" stroke-width="1.15"/>
<circle cx="644.73" cy="334.23" r="2.75" fill="none" stroke="#e8383e" stroke-width="1.15"/>
<circle cx="660.99" cy="331.37" r="2.75" fill="none" stroke="#e8383e" stroke-width="1.15"/>
<circle cx="677.25" cy="329.94" r="2.75" fill="none" stroke="#e8383e" stroke-width="1.15"/>
<text x="524.4" y="588.5" font-size="13" fill="#000" font-weight="bold" stroke="#000" stroke-width="0.1">j</text>
<line x1="564.8" y1="584.9" x2="575.4" y2="584.9" stroke="#cfa06a" stroke-width="1.0"/>
<circle cx="570.1" cy="584.9" r="2.3" fill="none" stroke="#cfa06a" stroke-width="1.0"/>
<text x="579" y="588.2" font-size="11.0" fill="#231f20" font-style="italic" stroke="#231f20" stroke-width="0.1">Mypt1<tspan font-size="8.2" dy="-5.4">+/+</tspan></text>
<line x1="564.8" y1="597.8" x2="575.4" y2="597.8" stroke="#e8383e" stroke-width="1.0"/>
<circle cx="570.1" cy="597.8" r="2.3" fill="none" stroke="#e8383e" stroke-width="1.0"/>
<text x="579" y="601.1" font-size="11.0" fill="#231f20" font-style="italic" stroke="#231f20" stroke-width="0.1">Mypt1<tspan font-size="8.2" dy="-5.4">+/ΔSM</tspan></text>
<line x1="564.8" y1="610.2" x2="575.4" y2="610.2" stroke="#3a5cb8" stroke-width="1.0"/>
<circle cx="570.1" cy="610.2" r="2.3" fill="none" stroke="#3a5cb8" stroke-width="1.0"/>
<text x="579" y="613.6" font-size="11.0" fill="#231f20" font-style="italic" stroke="#231f20" stroke-width="0.1">Mypt1<tspan font-size="8.2" dy="-5.4">ΔSM/ΔSM</tspan></text>
<line x1="555.3" y1="596.8" x2="555.3" y2="682.2" stroke="#4d4d4d" stroke-width="0.85"/>
<line x1="552.7" y1="682.2" x2="555.3" y2="682.2" stroke="#4d4d4d" stroke-width="0.85"/>
<text x="551.5" y="685.95" font-size="10.9" fill="#231f20" text-anchor="end" stroke="#231f20" stroke-width="0.1">0</text>
<line x1="552.7" y1="653.73" x2="555.3" y2="653.73" stroke="#4d4d4d" stroke-width="0.85"/>
<text x="551.5" y="657.48" font-size="10.9" fill="#231f20" text-anchor="end" stroke="#231f20" stroke-width="0.1">0.1</text>
<line x1="552.7" y1="625.27" x2="555.3" y2="625.27" stroke="#4d4d4d" stroke-width="0.85"/>
<text x="551.5" y="629.02" font-size="10.9" fill="#231f20" text-anchor="end" stroke="#231f20" stroke-width="0.1">0.2</text>
<line x1="552.7" y1="596.8" x2="555.3" y2="596.8" stroke="#4d4d4d" stroke-width="0.85"/>
<text x="551.5" y="600.55" font-size="10.9" fill="#231f20" text-anchor="end" stroke="#231f20" stroke-width="0.1">0.3</text>
<line x1="555.3" y1="682.2" x2="684.5" y2="682.2" stroke="#4d4d4d" stroke-width="0.85"/>
<line x1="561.7" y1="682.2" x2="561.7" y2="684.8" stroke="#4d4d4d" stroke-width="0.85"/>
<line x1="576.09" y1="682.2" x2="576.09" y2="684.8" stroke="#4d4d4d" stroke-width="0.85"/>
<line x1="590.48" y1="682.2" x2="590.48" y2="684.8" stroke="#4d4d4d" stroke-width="0.85"/>
<line x1="604.87" y1="682.2" x2="604.87" y2="684.8" stroke="#4d4d4d" stroke-width="0.85"/>
<line x1="619.26" y1="682.2" x2="619.26" y2="684.8" stroke="#4d4d4d" stroke-width="0.85"/>
<line x1="633.65" y1="682.2" x2="633.65" y2="684.8" stroke="#4d4d4d" stroke-width="0.85"/>
<line x1="648.04" y1="682.2" x2="648.04" y2="684.8" stroke="#4d4d4d" stroke-width="0.85"/>
<line x1="662.43" y1="682.2" x2="662.43" y2="684.8" stroke="#4d4d4d" stroke-width="0.85"/>
<line x1="676.82" y1="682.2" x2="676.82" y2="684.8" stroke="#4d4d4d" stroke-width="0.85"/>
<text x="560.1" y="694.6" font-size="10.9" fill="#231f20" text-anchor="middle" stroke="#231f20" stroke-width="0.1">-9</text>
<text x="588.88" y="694.6" font-size="10.9" fill="#231f20" text-anchor="middle" stroke="#231f20" stroke-width="0.1">-8</text>
<text x="617.66" y="694.6" font-size="10.9" fill="#231f20" text-anchor="middle" stroke="#231f20" stroke-width="0.1">-7</text>
<text x="646.44" y="694.6" font-size="10.9" fill="#231f20" text-anchor="middle" stroke="#231f20" stroke-width="0.1">-6</text>
<text x="675.22" y="694.6" font-size="10.9" fill="#231f20" text-anchor="middle" stroke="#231f20" stroke-width="0.1">-5</text>
<text x="0" y="0" font-size="10.8" fill="#231f20" text-anchor="middle" transform="translate(534.9,638.9) rotate(-90)" stroke="#231f20" stroke-width="0.1">tension (mN/mg)</text>
<text x="616.8" y="705.3" font-size="10.8" fill="#231f20" text-anchor="middle" stroke="#231f20" stroke-width="0.1">PE (log M)</text>
<polyline points="561.7,658.86 576.09,659.43 590.48,659.43 604.87,662.27 619.26,659.43 633.65,654.87 648.04,648.04 662.43,642.35 676.82,632.38" fill="none" stroke="#cfa06a" stroke-width="1.0" stroke-linejoin="round"/>
<line x1="561.7" y1="653.16" x2="561.7" y2="664.55" stroke="#cfa06a" stroke-width="1.0"/>
<line x1="558.8" y1="653.16" x2="564.6" y2="653.16" stroke="#cfa06a" stroke-width="1.1"/>
<line x1="558.8" y1="664.55" x2="564.6" y2="664.55" stroke="#cfa06a" stroke-width="1.1"/>
<line x1="576.09" y1="655.16" x2="576.09" y2="663.7" stroke="#cfa06a" stroke-width="1.0"/>
<line x1="573.19" y1="655.16" x2="578.99" y2="655.16" stroke="#cfa06a" stroke-width="1.1"/>
<line x1="573.19" y1="663.7" x2="578.99" y2="663.7" stroke="#cfa06a" stroke-width="1.1"/>
<line x1="590.48" y1="655.16" x2="590.48" y2="663.7" stroke="#cfa06a" stroke-width="1.0"/>
<line x1="587.58" y1="655.16" x2="593.38" y2="655.16" stroke="#cfa06a" stroke-width="1.1"/>
<line x1="587.58" y1="663.7" x2="593.38" y2="663.7" stroke="#cfa06a" stroke-width="1.1"/>
<line x1="604.87" y1="658.86" x2="604.87" y2="665.69" stroke="#cfa06a" stroke-width="1.0"/>
<line x1="601.97" y1="658.86" x2="607.77" y2="658.86" stroke="#cfa06a" stroke-width="1.1"/>
<line x1="601.97" y1="665.69" x2="607.77" y2="665.69" stroke="#cfa06a" stroke-width="1.1"/>
<line x1="619.26" y1="655.16" x2="619.26" y2="663.7" stroke="#cfa06a" stroke-width="1.0"/>
<line x1="616.36" y1="655.16" x2="622.16" y2="655.16" stroke="#cfa06a" stroke-width="1.1"/>
<line x1="616.36" y1="663.7" x2="622.16" y2="663.7" stroke="#cfa06a" stroke-width="1.1"/>
<line x1="633.65" y1="650.6" x2="633.65" y2="659.14" stroke="#cfa06a" stroke-width="1.0"/>
<line x1="630.75" y1="650.6" x2="636.55" y2="650.6" stroke="#cfa06a" stroke-width="1.1"/>
<line x1="630.75" y1="659.14" x2="636.55" y2="659.14" stroke="#cfa06a" stroke-width="1.1"/>
<line x1="648.04" y1="643.77" x2="648.04" y2="652.31" stroke="#cfa06a" stroke-width="1.0"/>
<line x1="645.14" y1="643.77" x2="650.94" y2="643.77" stroke="#cfa06a" stroke-width="1.1"/>
<line x1="645.14" y1="652.31" x2="650.94" y2="652.31" stroke="#cfa06a" stroke-width="1.1"/>
<line x1="662.43" y1="638.08" x2="662.43" y2="646.62" stroke="#cfa06a" stroke-width="1.0"/>
<line x1="659.53" y1="638.08" x2="665.33" y2="638.08" stroke="#cfa06a" stroke-width="1.1"/>
<line x1="659.53" y1="646.62" x2="665.33" y2="646.62" stroke="#cfa06a" stroke-width="1.1"/>
<line x1="676.82" y1="628.11" x2="676.82" y2="636.65" stroke="#cfa06a" stroke-width="1.0"/>
<line x1="673.92" y1="628.11" x2="679.72" y2="628.11" stroke="#cfa06a" stroke-width="1.1"/>
<line x1="673.92" y1="636.65" x2="679.72" y2="636.65" stroke="#cfa06a" stroke-width="1.1"/>
<circle cx="561.7" cy="658.86" r="2.75" fill="none" stroke="#cfa06a" stroke-width="1.15"/>
<circle cx="576.09" cy="659.43" r="2.75" fill="none" stroke="#cfa06a" stroke-width="1.15"/>
<circle cx="590.48" cy="659.43" r="2.75" fill="none" stroke="#cfa06a" stroke-width="1.15"/>
<circle cx="604.87" cy="662.27" r="2.75" fill="none" stroke="#cfa06a" stroke-width="1.15"/>
<circle cx="619.26" cy="659.43" r="2.75" fill="none" stroke="#cfa06a" stroke-width="1.15"/>
<circle cx="633.65" cy="654.87" r="2.75" fill="none" stroke="#cfa06a" stroke-width="1.15"/>
<circle cx="648.04" cy="648.04" r="2.75" fill="none" stroke="#cfa06a" stroke-width="1.15"/>
<circle cx="662.43" cy="642.35" r="2.75" fill="none" stroke="#cfa06a" stroke-width="1.15"/>
<circle cx="676.82" cy="632.38" r="2.75" fill="none" stroke="#cfa06a" stroke-width="1.15"/>
<polyline points="561.7,668.82 576.09,668.82 590.48,668.82 604.87,669.39 619.26,666.83 633.65,658.86 648.04,654.3 662.43,646.9 676.82,638.36" fill="none" stroke="#e8383e" stroke-width="1.0" stroke-linejoin="round"/>
<line x1="561.7" y1="666.54" x2="561.7" y2="671.1" stroke="#e8383e" stroke-width="1.0"/>
<line x1="558.8" y1="666.54" x2="564.6" y2="666.54" stroke="#e8383e" stroke-width="1.1"/>
<line x1="558.8" y1="671.1" x2="564.6" y2="671.1" stroke="#e8383e" stroke-width="1.1"/>
<line x1="576.09" y1="667.11" x2="576.09" y2="670.53" stroke="#e8383e" stroke-width="1.0"/>
<line x1="573.19" y1="667.11" x2="578.99" y2="667.11" stroke="#e8383e" stroke-width="1.1"/>
<line x1="573.19" y1="670.53" x2="578.99" y2="670.53" stroke="#e8383e" stroke-width="1.1"/>
<line x1="590.48" y1="665.97" x2="590.48" y2="671.67" stroke="#e8383e" stroke-width="1.0"/>
<line x1="587.58" y1="665.97" x2="593.38" y2="665.97" stroke="#e8383e" stroke-width="1.1"/>
<line x1="587.58" y1="671.67" x2="593.38" y2="671.67" stroke="#e8383e" stroke-width="1.1"/>
<line x1="604.87" y1="667.97" x2="604.87" y2="670.81" stroke="#e8383e" stroke-width="1.0"/>
<line x1="601.97" y1="667.97" x2="607.77" y2="667.97" stroke="#e8383e" stroke-width="1.1"/>
<line x1="601.97" y1="670.81" x2="607.77" y2="670.81" stroke="#e8383e" stroke-width="1.1"/>
<line x1="619.26" y1="665.12" x2="619.26" y2="668.54" stroke="#e8383e" stroke-width="1.0"/>
<line x1="616.36" y1="665.12" x2="622.16" y2="665.12" stroke="#e8383e" stroke-width="1.1"/>
<line x1="616.36" y1="668.54" x2="622.16" y2="668.54" stroke="#e8383e" stroke-width="1.1"/>
<line x1="633.65" y1="656.58" x2="633.65" y2="661.13" stroke="#e8383e" stroke-width="1.0"/>
<line x1="630.75" y1="656.58" x2="636.55" y2="656.58" stroke="#e8383e" stroke-width="1.1"/>
<line x1="630.75" y1="661.13" x2="636.55" y2="661.13" stroke="#e8383e" stroke-width="1.1"/>
<line x1="648.04" y1="652.59" x2="648.04" y2="656.01" stroke="#e8383e" stroke-width="1.0"/>
<line x1="645.14" y1="652.59" x2="650.94" y2="652.59" stroke="#e8383e" stroke-width="1.1"/>
<line x1="645.14" y1="656.01" x2="650.94" y2="656.01" stroke="#e8383e" stroke-width="1.1"/>
<line x1="662.43" y1="642.63" x2="662.43" y2="651.17" stroke="#e8383e" stroke-width="1.0"/>
<line x1="659.53" y1="642.63" x2="665.33" y2="642.63" stroke="#e8383e" stroke-width="1.1"/>
<line x1="659.53" y1="651.17" x2="665.33" y2="651.17" stroke="#e8383e" stroke-width="1.1"/>
<line x1="676.82" y1="632.1" x2="676.82" y2="644.62" stroke="#e8383e" stroke-width="1.0"/>
<line x1="673.92" y1="632.1" x2="679.72" y2="632.1" stroke="#e8383e" stroke-width="1.1"/>
<line x1="673.92" y1="644.62" x2="679.72" y2="644.62" stroke="#e8383e" stroke-width="1.1"/>
<circle cx="561.7" cy="668.82" r="2.75" fill="none" stroke="#e8383e" stroke-width="1.15"/>
<circle cx="576.09" cy="668.82" r="2.75" fill="none" stroke="#e8383e" stroke-width="1.15"/>
<circle cx="590.48" cy="668.82" r="2.75" fill="none" stroke="#e8383e" stroke-width="1.15"/>
<circle cx="604.87" cy="669.39" r="2.75" fill="none" stroke="#e8383e" stroke-width="1.15"/>
<circle cx="619.26" cy="666.83" r="2.75" fill="none" stroke="#e8383e" stroke-width="1.15"/>
<circle cx="633.65" cy="658.86" r="2.75" fill="none" stroke="#e8383e" stroke-width="1.15"/>
<circle cx="648.04" cy="654.3" r="2.75" fill="none" stroke="#e8383e" stroke-width="1.15"/>
<circle cx="662.43" cy="646.9" r="2.75" fill="none" stroke="#e8383e" stroke-width="1.15"/>
<circle cx="676.82" cy="638.36" r="2.75" fill="none" stroke="#e8383e" stroke-width="1.15"/>
<polyline points="561.7,663.7 576.09,654.3 590.48,658 604.87,663.13 619.26,654.87 633.65,644.91 648.04,643.2 662.43,641.49 676.82,630.96" fill="none" stroke="#3a5cb8" stroke-width="1.0" stroke-linejoin="round"/>
<line x1="561.7" y1="660.85" x2="561.7" y2="666.54" stroke="#3a5cb8" stroke-width="1.0"/>
<line x1="558.8" y1="660.85" x2="564.6" y2="660.85" stroke="#3a5cb8" stroke-width="1.1"/>
<line x1="558.8" y1="666.54" x2="564.6" y2="666.54" stroke="#3a5cb8" stroke-width="1.1"/>
<line x1="576.09" y1="645.76" x2="576.09" y2="662.84" stroke="#3a5cb8" stroke-width="1.0"/>
<line x1="573.19" y1="645.76" x2="578.99" y2="645.76" stroke="#3a5cb8" stroke-width="1.1"/>
<line x1="573.19" y1="662.84" x2="578.99" y2="662.84" stroke="#3a5cb8" stroke-width="1.1"/>
<line x1="590.48" y1="652.88" x2="590.48" y2="663.13" stroke="#3a5cb8" stroke-width="1.0"/>
<line x1="587.58" y1="652.88" x2="593.38" y2="652.88" stroke="#3a5cb8" stroke-width="1.1"/>
<line x1="587.58" y1="663.13" x2="593.38" y2="663.13" stroke="#3a5cb8" stroke-width="1.1"/>
<line x1="604.87" y1="658" x2="604.87" y2="668.25" stroke="#3a5cb8" stroke-width="1.0"/>
<line x1="601.97" y1="658" x2="607.77" y2="658" stroke="#3a5cb8" stroke-width="1.1"/>
<line x1="601.97" y1="668.25" x2="607.77" y2="668.25" stroke="#3a5cb8" stroke-width="1.1"/>
<line x1="619.26" y1="648.61" x2="619.26" y2="661.13" stroke="#3a5cb8" stroke-width="1.0"/>
<line x1="616.36" y1="648.61" x2="622.16" y2="648.61" stroke="#3a5cb8" stroke-width="1.1"/>
<line x1="616.36" y1="661.13" x2="622.16" y2="661.13" stroke="#3a5cb8" stroke-width="1.1"/>
<line x1="633.65" y1="634.38" x2="633.65" y2="655.44" stroke="#3a5cb8" stroke-width="1.0"/>
<line x1="630.75" y1="634.38" x2="636.55" y2="634.38" stroke="#3a5cb8" stroke-width="1.1"/>
<line x1="630.75" y1="655.44" x2="636.55" y2="655.44" stroke="#3a5cb8" stroke-width="1.1"/>
<line x1="648.04" y1="634.09" x2="648.04" y2="652.31" stroke="#3a5cb8" stroke-width="1.0"/>
<line x1="645.14" y1="634.09" x2="650.94" y2="634.09" stroke="#3a5cb8" stroke-width="1.1"/>
<line x1="645.14" y1="652.31" x2="650.94" y2="652.31" stroke="#3a5cb8" stroke-width="1.1"/>
<line x1="662.43" y1="635.23" x2="662.43" y2="647.76" stroke="#3a5cb8" stroke-width="1.0"/>
<line x1="659.53" y1="635.23" x2="665.33" y2="635.23" stroke="#3a5cb8" stroke-width="1.1"/>
<line x1="659.53" y1="647.76" x2="665.33" y2="647.76" stroke="#3a5cb8" stroke-width="1.1"/>
<line x1="676.82" y1="622.14" x2="676.82" y2="639.78" stroke="#3a5cb8" stroke-width="1.0"/>
<line x1="673.92" y1="622.14" x2="679.72" y2="622.14" stroke="#3a5cb8" stroke-width="1.1"/>
<line x1="673.92" y1="639.78" x2="679.72" y2="639.78" stroke="#3a5cb8" stroke-width="1.1"/>
<circle cx="561.7" cy="663.7" r="2.75" fill="none" stroke="#3a5cb8" stroke-width="1.15"/>
<circle cx="576.09" cy="654.3" r="2.75" fill="none" stroke="#3a5cb8" stroke-width="1.15"/>
<circle cx="590.48" cy="658" r="2.75" fill="none" stroke="#3a5cb8" stroke-width="1.15"/>
<circle cx="604.87" cy="663.13" r="2.75" fill="none" stroke="#3a5cb8" stroke-width="1.15"/>
<circle cx="619.26" cy="654.87" r="2.75" fill="none" stroke="#3a5cb8" stroke-width="1.15"/>
<circle cx="633.65" cy="644.91" r="2.75" fill="none" stroke="#3a5cb8" stroke-width="1.15"/>
<circle cx="648.04" cy="643.2" r="2.75" fill="none" stroke="#3a5cb8" stroke-width="1.15"/>
<circle cx="662.43" cy="641.49" r="2.75" fill="none" stroke="#3a5cb8" stroke-width="1.15"/>
<circle cx="676.82" cy="630.96" r="2.75" fill="none" stroke="#3a5cb8" stroke-width="1.15"/>
<line x1="564.8" y1="731.2" x2="575.4" y2="731.2" stroke="#cfa06a" stroke-width="1.0"/>
<circle cx="570.1" cy="731.2" r="2.3" fill="none" stroke="#cfa06a" stroke-width="1.0"/>
<text x="579" y="734.5" font-size="11.0" fill="#231f20" font-style="italic" stroke="#231f20" stroke-width="0.1">Mypt1<tspan font-size="8.2" dy="-5.4">+/+</tspan></text>
<line x1="564.8" y1="744.3" x2="575.4" y2="744.3" stroke="#e8383e" stroke-width="1.0"/>
<circle cx="570.1" cy="744.3" r="2.3" fill="none" stroke="#e8383e" stroke-width="1.0"/>
<text x="579" y="747.6" font-size="11.0" fill="#231f20" font-style="italic" stroke="#231f20" stroke-width="0.1">Mypt1<tspan font-size="8.2" dy="-5.4">+/ΔSM</tspan></text>
<line x1="564.8" y1="757.2" x2="575.4" y2="757.2" stroke="#3a5cb8" stroke-width="1.0"/>
<circle cx="570.1" cy="757.2" r="2.3" fill="none" stroke="#3a5cb8" stroke-width="1.0"/>
<text x="579" y="760.6" font-size="11.0" fill="#231f20" font-style="italic" stroke="#231f20" stroke-width="0.1">Mypt1<tspan font-size="8.2" dy="-5.4">ΔSM/ΔSM</tspan></text>
<line x1="555.3" y1="742.8" x2="555.3" y2="828" stroke="#4d4d4d" stroke-width="0.85"/>
<line x1="552.7" y1="828" x2="555.3" y2="828" stroke="#4d4d4d" stroke-width="0.85"/>
<text x="551.5" y="831.75" font-size="10.9" fill="#231f20" text-anchor="end" stroke="#231f20" stroke-width="0.1">0</text>
<line x1="552.7" y1="799.6" x2="555.3" y2="799.6" stroke="#4d4d4d" stroke-width="0.85"/>
<text x="551.5" y="803.35" font-size="10.9" fill="#231f20" text-anchor="end" stroke="#231f20" stroke-width="0.1">0.1</text>
<line x1="552.7" y1="771.2" x2="555.3" y2="771.2" stroke="#4d4d4d" stroke-width="0.85"/>
<text x="551.5" y="774.95" font-size="10.9" fill="#231f20" text-anchor="end" stroke="#231f20" stroke-width="0.1">0.2</text>
<line x1="552.7" y1="742.8" x2="555.3" y2="742.8" stroke="#4d4d4d" stroke-width="0.85"/>
<text x="551.5" y="746.55" font-size="10.9" fill="#231f20" text-anchor="end" stroke="#231f20" stroke-width="0.1">0.3</text>
<line x1="555.3" y1="828" x2="684.5" y2="828" stroke="#4d4d4d" stroke-width="0.85"/>
<line x1="564.6" y1="828" x2="564.6" y2="830.6" stroke="#4d4d4d" stroke-width="0.85"/>
<line x1="583.01" y1="828" x2="583.01" y2="830.6" stroke="#4d4d4d" stroke-width="0.85"/>
<line x1="601.43" y1="828" x2="601.43" y2="830.6" stroke="#4d4d4d" stroke-width="0.85"/>
<line x1="619.85" y1="828" x2="619.85" y2="830.6" stroke="#4d4d4d" stroke-width="0.85"/>
<line x1="638.26" y1="828" x2="638.26" y2="830.6" stroke="#4d4d4d" stroke-width="0.85"/>
<line x1="656.67" y1="828" x2="656.67" y2="830.6" stroke="#4d4d4d" stroke-width="0.85"/>
<line x1="675.09" y1="828" x2="675.09" y2="830.6" stroke="#4d4d4d" stroke-width="0.85"/>
<text x="563" y="840.4" font-size="10.9" fill="#231f20" text-anchor="middle" stroke="#231f20" stroke-width="0.1">-9</text>
<text x="599.83" y="840.4" font-size="10.9" fill="#231f20" text-anchor="middle" stroke="#231f20" stroke-width="0.1">-8</text>
<text x="636.66" y="840.4" font-size="10.9" fill="#231f20" text-anchor="middle" stroke="#231f20" stroke-width="0.1">-7</text>
<text x="673.49" y="840.4" font-size="10.9" fill="#231f20" text-anchor="middle" stroke="#231f20" stroke-width="0.1">-6</text>
<text x="0" y="0" font-size="10.8" fill="#231f20" text-anchor="middle" transform="translate(534.9,785.5) rotate(-90)" stroke="#231f20" stroke-width="0.1">tension (mN/mg)</text>
<text x="621.7" y="850.3" font-size="10.8" fill="#231f20" text-anchor="middle" stroke="#231f20" stroke-width="0.1">U46619 (log M)</text>
<polyline points="564.6,814.94 583.01,809.82 601.43,806.42 619.85,807.27 638.26,799.03 656.67,795.62 675.09,793.35" fill="none" stroke="#cfa06a" stroke-width="1.0" stroke-linejoin="round"/>
<line x1="564.6" y1="812.1" x2="564.6" y2="817.78" stroke="#cfa06a" stroke-width="1.0"/>
<line x1="561.7" y1="812.1" x2="567.5" y2="812.1" stroke="#cfa06a" stroke-width="1.1"/>
<line x1="561.7" y1="817.78" x2="567.5" y2="817.78" stroke="#cfa06a" stroke-width="1.1"/>
<line x1="583.01" y1="806.42" x2="583.01" y2="813.23" stroke="#cfa06a" stroke-width="1.0"/>
<line x1="580.12" y1="806.42" x2="585.91" y2="806.42" stroke="#cfa06a" stroke-width="1.1"/>
<line x1="580.12" y1="813.23" x2="585.91" y2="813.23" stroke="#cfa06a" stroke-width="1.1"/>
<line x1="601.43" y1="803.01" x2="601.43" y2="809.82" stroke="#cfa06a" stroke-width="1.0"/>
<line x1="598.53" y1="803.01" x2="604.33" y2="803.01" stroke="#cfa06a" stroke-width="1.1"/>
<line x1="598.53" y1="809.82" x2="604.33" y2="809.82" stroke="#cfa06a" stroke-width="1.1"/>
<line x1="619.85" y1="803.86" x2="619.85" y2="810.68" stroke="#cfa06a" stroke-width="1.0"/>
<line x1="616.95" y1="803.86" x2="622.75" y2="803.86" stroke="#cfa06a" stroke-width="1.1"/>
<line x1="616.95" y1="810.68" x2="622.75" y2="810.68" stroke="#cfa06a" stroke-width="1.1"/>
<line x1="638.26" y1="795.62" x2="638.26" y2="802.44" stroke="#cfa06a" stroke-width="1.0"/>
<line x1="635.36" y1="795.62" x2="641.16" y2="795.62" stroke="#cfa06a" stroke-width="1.1"/>
<line x1="635.36" y1="802.44" x2="641.16" y2="802.44" stroke="#cfa06a" stroke-width="1.1"/>
<line x1="656.67" y1="792.22" x2="656.67" y2="799.03" stroke="#cfa06a" stroke-width="1.0"/>
<line x1="653.77" y1="792.22" x2="659.57" y2="792.22" stroke="#cfa06a" stroke-width="1.1"/>
<line x1="653.77" y1="799.03" x2="659.57" y2="799.03" stroke="#cfa06a" stroke-width="1.1"/>
<line x1="675.09" y1="789.94" x2="675.09" y2="796.76" stroke="#cfa06a" stroke-width="1.0"/>
<line x1="672.19" y1="789.94" x2="677.99" y2="789.94" stroke="#cfa06a" stroke-width="1.1"/>
<line x1="672.19" y1="796.76" x2="677.99" y2="796.76" stroke="#cfa06a" stroke-width="1.1"/>
<circle cx="564.6" cy="814.94" r="2.75" fill="none" stroke="#cfa06a" stroke-width="1.15"/>
<circle cx="583.01" cy="809.82" r="2.75" fill="none" stroke="#cfa06a" stroke-width="1.15"/>
<circle cx="601.43" cy="806.42" r="2.75" fill="none" stroke="#cfa06a" stroke-width="1.15"/>
<circle cx="619.85" cy="807.27" r="2.75" fill="none" stroke="#cfa06a" stroke-width="1.15"/>
<circle cx="638.26" cy="799.03" r="2.75" fill="none" stroke="#cfa06a" stroke-width="1.15"/>
<circle cx="656.67" cy="795.62" r="2.75" fill="none" stroke="#cfa06a" stroke-width="1.15"/>
<circle cx="675.09" cy="793.35" r="2.75" fill="none" stroke="#cfa06a" stroke-width="1.15"/>
<polyline points="564.6,816.92 583.01,808.12 601.43,805.56 619.85,800.74 638.26,799.03 656.67,797.04 675.09,793.35" fill="none" stroke="#e8383e" stroke-width="1.0" stroke-linejoin="round"/>
<line x1="564.6" y1="814.08" x2="564.6" y2="819.76" stroke="#e8383e" stroke-width="1.0"/>
<line x1="561.7" y1="814.08" x2="567.5" y2="814.08" stroke="#e8383e" stroke-width="1.1"/>
<line x1="561.7" y1="819.76" x2="567.5" y2="819.76" stroke="#e8383e" stroke-width="1.1"/>
<line x1="583.01" y1="804.71" x2="583.01" y2="811.53" stroke="#e8383e" stroke-width="1.0"/>
<line x1="580.12" y1="804.71" x2="585.91" y2="804.71" stroke="#e8383e" stroke-width="1.1"/>
<line x1="580.12" y1="811.53" x2="585.91" y2="811.53" stroke="#e8383e" stroke-width="1.1"/>
<line x1="601.43" y1="800.45" x2="601.43" y2="810.68" stroke="#e8383e" stroke-width="1.0"/>
<line x1="598.53" y1="800.45" x2="604.33" y2="800.45" stroke="#e8383e" stroke-width="1.1"/>
<line x1="598.53" y1="810.68" x2="604.33" y2="810.68" stroke="#e8383e" stroke-width="1.1"/>
<line x1="619.85" y1="796.19" x2="619.85" y2="805.28" stroke="#e8383e" stroke-width="1.0"/>
<line x1="616.95" y1="796.19" x2="622.75" y2="796.19" stroke="#e8383e" stroke-width="1.1"/>
<line x1="616.95" y1="805.28" x2="622.75" y2="805.28" stroke="#e8383e" stroke-width="1.1"/>
<line x1="638.26" y1="794.49" x2="638.26" y2="803.58" stroke="#e8383e" stroke-width="1.0"/>
<line x1="635.36" y1="794.49" x2="641.16" y2="794.49" stroke="#e8383e" stroke-width="1.1"/>
<line x1="635.36" y1="803.58" x2="641.16" y2="803.58" stroke="#e8383e" stroke-width="1.1"/>
<line x1="656.67" y1="792.5" x2="656.67" y2="801.59" stroke="#e8383e" stroke-width="1.0"/>
<line x1="653.77" y1="792.5" x2="659.57" y2="792.5" stroke="#e8383e" stroke-width="1.1"/>
<line x1="653.77" y1="801.59" x2="659.57" y2="801.59" stroke="#e8383e" stroke-width="1.1"/>
<line x1="675.09" y1="789.38" x2="675.09" y2="797.33" stroke="#e8383e" stroke-width="1.0"/>
<line x1="672.19" y1="789.38" x2="677.99" y2="789.38" stroke="#e8383e" stroke-width="1.1"/>
<line x1="672.19" y1="797.33" x2="677.99" y2="797.33" stroke="#e8383e" stroke-width="1.1"/>
<circle cx="564.6" cy="816.92" r="2.75" fill="none" stroke="#e8383e" stroke-width="1.15"/>
<circle cx="583.01" cy="808.12" r="2.75" fill="none" stroke="#e8383e" stroke-width="1.15"/>
<circle cx="601.43" cy="805.56" r="2.75" fill="none" stroke="#e8383e" stroke-width="1.15"/>
<circle cx="619.85" cy="800.74" r="2.75" fill="none" stroke="#e8383e" stroke-width="1.15"/>
<circle cx="638.26" cy="799.03" r="2.75" fill="none" stroke="#e8383e" stroke-width="1.15"/>
<circle cx="656.67" cy="797.04" r="2.75" fill="none" stroke="#e8383e" stroke-width="1.15"/>
<circle cx="675.09" cy="793.35" r="2.75" fill="none" stroke="#e8383e" stroke-width="1.15"/>
<polyline points="564.6,813.8 583.01,809.82 601.43,809.82 619.85,807.27 638.26,797.04 656.67,791.93 675.09,775.18" fill="none" stroke="#3a5cb8" stroke-width="1.0" stroke-linejoin="round"/>
<line x1="564.6" y1="810.39" x2="564.6" y2="817.21" stroke="#3a5cb8" stroke-width="1.0"/>
<line x1="561.7" y1="810.39" x2="567.5" y2="810.39" stroke="#3a5cb8" stroke-width="1.1"/>
<line x1="561.7" y1="817.21" x2="567.5" y2="817.21" stroke="#3a5cb8" stroke-width="1.1"/>
<line x1="583.01" y1="803.58" x2="583.01" y2="816.07" stroke="#3a5cb8" stroke-width="1.0"/>
<line x1="580.12" y1="803.58" x2="585.91" y2="803.58" stroke="#3a5cb8" stroke-width="1.1"/>
<line x1="580.12" y1="816.07" x2="585.91" y2="816.07" stroke="#3a5cb8" stroke-width="1.1"/>
<line x1="601.43" y1="805.85" x2="601.43" y2="813.8" stroke="#3a5cb8" stroke-width="1.0"/>
<line x1="598.53" y1="805.85" x2="604.33" y2="805.85" stroke="#3a5cb8" stroke-width="1.1"/>
<line x1="598.53" y1="813.8" x2="604.33" y2="813.8" stroke="#3a5cb8" stroke-width="1.1"/>
<line x1="619.85" y1="804.43" x2="619.85" y2="810.11" stroke="#3a5cb8" stroke-width="1.0"/>
<line x1="616.95" y1="804.43" x2="622.75" y2="804.43" stroke="#3a5cb8" stroke-width="1.1"/>
<line x1="616.95" y1="810.11" x2="622.75" y2="810.11" stroke="#3a5cb8" stroke-width="1.1"/>
<line x1="638.26" y1="791.36" x2="638.26" y2="802.72" stroke="#3a5cb8" stroke-width="1.0"/>
<line x1="635.36" y1="791.36" x2="641.16" y2="791.36" stroke="#3a5cb8" stroke-width="1.1"/>
<line x1="635.36" y1="802.72" x2="641.16" y2="802.72" stroke="#3a5cb8" stroke-width="1.1"/>
<line x1="656.67" y1="786.25" x2="656.67" y2="797.61" stroke="#3a5cb8" stroke-width="1.0"/>
<line x1="653.77" y1="786.25" x2="659.57" y2="786.25" stroke="#3a5cb8" stroke-width="1.1"/>
<line x1="653.77" y1="797.61" x2="659.57" y2="797.61" stroke="#3a5cb8" stroke-width="1.1"/>
<line x1="675.09" y1="770.06" x2="675.09" y2="780.29" stroke="#3a5cb8" stroke-width="1.0"/>
<line x1="672.19" y1="770.06" x2="677.99" y2="770.06" stroke="#3a5cb8" stroke-width="1.1"/>
<line x1="672.19" y1="780.29" x2="677.99" y2="780.29" stroke="#3a5cb8" stroke-width="1.1"/>
<circle cx="564.6" cy="813.8" r="2.75" fill="none" stroke="#3a5cb8" stroke-width="1.15"/>
<circle cx="583.01" cy="809.82" r="2.75" fill="none" stroke="#3a5cb8" stroke-width="1.15"/>
<circle cx="601.43" cy="809.82" r="2.75" fill="none" stroke="#3a5cb8" stroke-width="1.15"/>
<circle cx="619.85" cy="807.27" r="2.75" fill="none" stroke="#3a5cb8" stroke-width="1.15"/>
<circle cx="638.26" cy="797.04" r="2.75" fill="none" stroke="#3a5cb8" stroke-width="1.15"/>
<circle cx="656.67" cy="791.93" r="2.75" fill="none" stroke="#3a5cb8" stroke-width="1.15"/>
<circle cx="675.09" cy="775.18" r="2.75" fill="none" stroke="#3a5cb8" stroke-width="1.15"/>
<text x="675.1" y="756.4" font-size="8.8" fill="#222" text-anchor="middle">##</text>
<text x="675.1" y="770.8" font-size="11.5" fill="#222" text-anchor="middle" stroke="#222" stroke-width="0.1">**</text>
</svg>
</body></html>
